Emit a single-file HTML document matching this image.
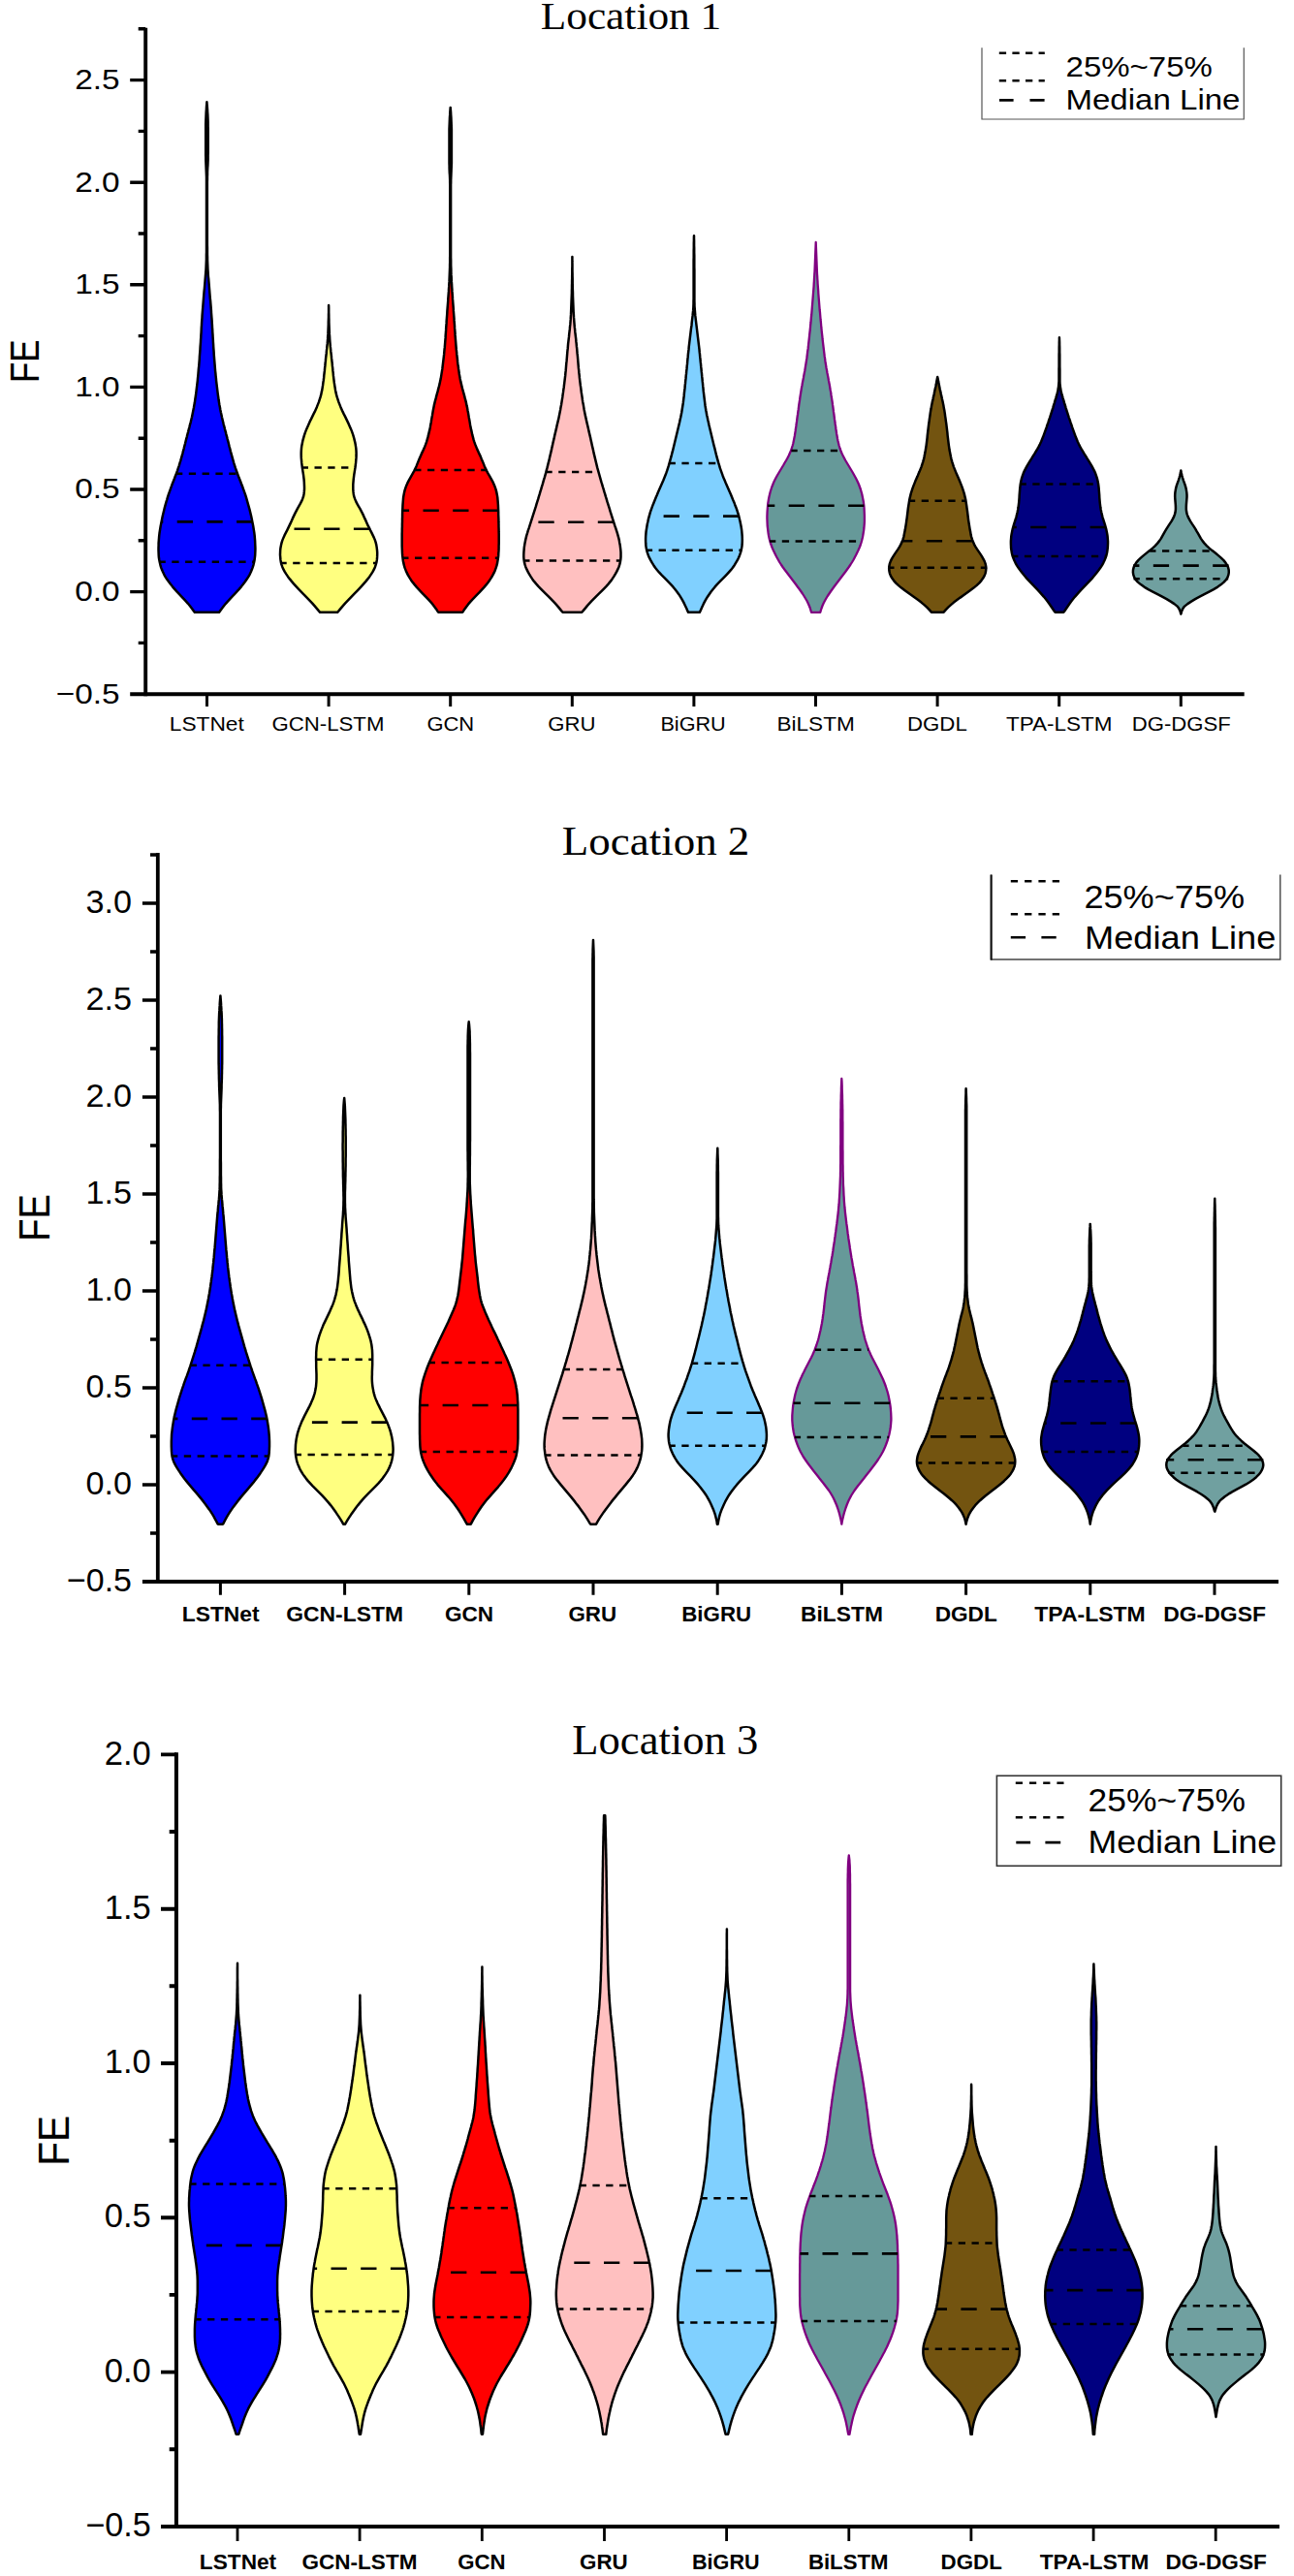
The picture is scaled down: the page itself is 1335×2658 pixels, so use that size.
<!DOCTYPE html>
<html><head><meta charset="utf-8"><title>Violin plots</title>
<style>html,body{margin:0;padding:0;background:#fff}svg{display:block}text{font-family:"Liberation Sans",sans-serif;fill:#000}</style>
</head><body>
<svg width="1335" height="2658" viewBox="0 0 1335 2658">
<rect width="1335" height="2658" fill="#fff"/>
<path d="M213.4 105.3 213.6 107.8 213.8 110.3 214 112.8 214.1 115.3 214.3 117.8 214.4 120.3 214.5 122.8 214.6 125.3 214.6 127.8 214.6 130.3 214.7 132.8 214.7 135.3 214.7 137.8 214.7 140.3 214.7 142.8 214.7 145.3 214.7 147.8 214.7 150.3 214.7 152.8 214.7 155.3 214.7 157.8 214.6 160.3 214.6 162.8 214.6 165.3 214.5 167.8 214.4 170.3 214.2 172.8 214.1 175.3 214 177.8 214 180.3 213.9 182.8 213.9 185.3 213.8 187.8 213.8 190.3 213.8 192.8 213.8 195.3 213.8 197.8 213.8 200.3 213.8 202.8 213.8 205.3 213.8 207.8 213.8 210.3 213.8 212.8 213.8 215.3 213.8 217.8 213.8 220.3 213.8 222.8 213.8 225.3 213.8 227.8 213.8 230.3 213.8 232.8 213.8 235.3 213.8 237.8 213.8 240.3 213.8 242.8 213.8 245.3 213.8 247.8 213.8 250.3 213.8 252.8 213.9 255.3 213.9 257.8 213.9 260.3 213.9 262.8 214 265.3 214 267.8 214.1 270.3 214.2 272.8 214.3 275.3 214.4 277.8 214.6 280.3 214.7 282.8 214.9 285.3 215.2 287.8 215.4 290.3 215.6 292.8 215.8 295.3 216 297.8 216.2 300.3 216.4 302.8 216.6 305.3 216.8 307.8 217.1 310.3 217.3 312.8 217.5 315.3 217.7 317.8 217.9 320.3 218 322.8 218.2 325.3 218.4 327.8 218.6 330.3 218.7 332.8 218.9 335.3 219 337.8 219.2 340.3 219.3 342.8 219.5 345.3 219.6 347.8 219.8 350.3 219.9 352.8 220.1 355.3 220.2 357.8 220.4 360.3 220.6 362.8 220.7 365.3 220.9 367.8 221.1 370.3 221.3 372.8 221.5 375.3 221.7 377.8 221.9 380.3 222.1 382.8 222.4 385.3 222.6 387.8 222.9 390.3 223.1 392.8 223.4 395.3 223.7 397.8 224 400.3 224.3 402.8 224.6 405.3 224.9 407.8 225.3 410.3 225.6 412.8 226 415.3 226.4 417.8 226.9 420.3 227.3 422.8 227.8 425.3 228.4 427.8 228.9 430.3 229.5 432.8 230.1 435.3 230.7 437.8 231.4 440.3 232 442.8 232.7 445.3 233.3 447.8 234 450.3 234.6 452.8 235.3 455.3 235.9 457.8 236.5 460.3 237.2 462.8 237.8 465.3 238.5 467.8 239.2 470.3 239.9 472.8 240.6 475.3 241.3 477.8 242.1 480.3 242.9 482.8 243.8 485.3 244.7 487.8 245.6 490.3 246.5 492.8 247.5 495.3 248.5 497.8 249.4 500.3 250.4 502.8 251.3 505.3 252.2 507.8 253.1 510.3 253.9 512.8 254.6 515.3 255.3 517.8 256 520.3 256.7 522.8 257.4 525.3 258 527.8 258.6 530.3 259.2 532.8 259.7 535.3 260.2 537.8 260.7 540.3 261.2 542.8 261.6 545.3 262 547.8 262.4 550.3 262.7 552.8 262.9 555.3 263.1 557.8 263.2 560.3 263.3 562.8 263.4 565.3 263.4 567.8 263.3 570.3 263.2 572.8 262.9 575.3 262.6 577.8 262.1 580.3 261.5 582.8 260.7 585.3 259.8 587.8 258.8 590.3 257.6 592.8 256.1 595.3 254.5 597.8 252.8 600.3 250.9 602.8 248.9 605.3 246.7 607.8 244.4 610.3 242.1 612.8 239.7 615.3 237.4 617.8 235.1 620.3 232.9 622.8 230.9 625.3 229 627.8 227.2 630.3 226.1 631.8 200.8 631.8 199.7 630.3 197.9 627.8 196 625.3 194 622.8 191.8 620.3 189.5 617.8 187.1 615.3 184.8 612.8 182.4 610.3 180.2 607.8 178 605.3 176 602.8 174.1 600.3 172.3 597.8 170.7 595.3 169.3 592.8 168.1 590.3 167 587.8 166.1 585.3 165.4 582.8 164.8 580.3 164.3 577.8 163.9 575.3 163.7 572.8 163.6 570.3 163.5 567.8 163.5 565.3 163.6 562.8 163.6 560.3 163.8 557.8 164 555.3 164.2 552.8 164.5 550.3 164.9 547.8 165.3 545.3 165.7 542.8 166.2 540.3 166.7 537.8 167.2 535.3 167.7 532.8 168.3 530.3 168.9 527.8 169.5 525.3 170.1 522.8 170.8 520.3 171.5 517.8 172.3 515.3 173 512.8 173.8 510.3 174.7 507.8 175.6 505.3 176.5 502.8 177.4 500.3 178.4 497.8 179.4 495.3 180.3 492.8 181.3 490.3 182.2 487.8 183.1 485.3 183.9 482.8 184.8 480.3 185.5 477.8 186.3 475.3 187 472.8 187.7 470.3 188.4 467.8 189 465.3 189.7 462.8 190.3 460.3 191 457.8 191.6 455.3 192.2 452.8 192.9 450.3 193.5 447.8 194.2 445.3 194.8 442.8 195.5 440.3 196.1 437.8 196.8 435.3 197.4 432.8 198 430.3 198.5 427.8 199 425.3 199.5 422.8 200 420.3 200.4 417.8 200.9 415.3 201.2 412.8 201.6 410.3 202 407.8 202.3 405.3 202.6 402.8 202.9 400.3 203.2 397.8 203.5 395.3 203.8 392.8 204 390.3 204.3 387.8 204.5 385.3 204.7 382.8 204.9 380.3 205.2 377.8 205.4 375.3 205.6 372.8 205.8 370.3 205.9 367.8 206.1 365.3 206.3 362.8 206.5 360.3 206.6 357.8 206.8 355.3 207 352.8 207.1 350.3 207.3 347.8 207.4 345.3 207.6 342.8 207.7 340.3 207.8 337.8 208 335.3 208.1 332.8 208.3 330.3 208.5 327.8 208.6 325.3 208.8 322.8 209 320.3 209.2 317.8 209.4 315.3 209.6 312.8 209.8 310.3 210 307.8 210.2 305.3 210.4 302.8 210.6 300.3 210.9 297.8 211.1 295.3 211.3 292.8 211.5 290.3 211.7 287.8 211.9 285.3 212.1 282.8 212.3 280.3 212.5 277.8 212.6 275.3 212.7 272.8 212.8 270.3 212.9 267.8 212.9 265.3 212.9 262.8 213 260.3 213 257.8 213 255.3 213 252.8 213 250.3 213 247.8 213 245.3 213 242.8 213 240.3 213 237.8 213 235.3 213 232.8 213 230.3 213 227.8 213 225.3 213 222.8 213 220.3 213 217.8 213 215.3 213 212.8 213 210.3 213 207.8 213 205.3 213 202.8 213 200.3 213 197.8 213 195.3 213 192.8 213 190.3 213 187.8 213 185.3 213 182.8 212.9 180.3 212.8 177.8 212.7 175.3 212.6 172.8 212.5 170.3 212.4 167.8 212.3 165.3 212.3 162.8 212.2 160.3 212.2 157.8 212.2 155.3 212.2 152.8 212.2 150.3 212.2 147.8 212.2 145.3 212.2 142.8 212.2 140.3 212.2 137.8 212.2 135.3 212.2 132.8 212.2 130.3 212.2 127.8 212.3 125.3 212.4 122.8 212.5 120.3 212.6 117.8 212.7 115.3 212.9 112.8 213 110.3 213.2 107.8 213.4 105.3Z" fill="#0000ff" stroke="#000000" stroke-width="2.5" stroke-linejoin="round"/>
<path d="M182 488.7H244.9" stroke="#000" stroke-width="2.5" stroke-dasharray="7.3 6.5" stroke-dashoffset="1" fill="none"/>
<path d="M260.4 538.4H166.5" stroke="#000" stroke-width="2.6" stroke-dasharray="16.3 14.4" fill="none"/>
<path d="M164.5 579.8H262.4" stroke="#000" stroke-width="2.5" stroke-dasharray="7.3 6.5" stroke-dashoffset="1" fill="none"/>
<path d="M339.1 314.9 339.2 317.4 339.2 319.9 339.2 322.4 339.3 324.9 339.3 327.4 339.4 329.9 339.4 332.4 339.5 334.9 339.6 337.4 339.7 339.9 339.8 342.4 339.9 344.9 340.1 347.4 340.2 349.9 340.4 352.4 340.6 354.9 340.8 357.4 341.1 359.9 341.3 362.4 341.6 364.9 341.9 367.4 342.1 369.9 342.4 372.4 342.7 374.9 342.9 377.4 343.2 379.9 343.4 382.4 343.7 384.9 343.9 387.4 344.2 389.9 344.5 392.4 344.8 394.9 345.2 397.4 345.6 399.9 346 402.4 346.5 404.9 347.1 407.4 347.8 409.9 348.6 412.4 349.4 414.9 350.4 417.4 351.4 419.9 352.5 422.4 353.6 424.9 354.8 427.4 356.1 429.9 357.3 432.4 358.5 434.9 359.7 437.4 360.8 439.9 361.9 442.4 362.9 444.9 363.8 447.4 364.6 449.9 365.3 452.4 365.9 454.9 366.5 457.4 366.9 459.9 367.3 462.4 367.5 464.9 367.6 467.4 367.6 469.9 367.5 472.4 367.3 474.9 367.1 477.4 366.8 479.9 366.5 482.4 366.1 484.9 365.7 487.4 365.3 489.9 365 492.4 364.7 494.9 364.5 497.4 364.3 499.9 364.3 502.4 364.3 504.9 364.5 507.4 364.8 509.9 365.3 512.4 366.2 514.9 367.2 517.4 368.5 519.9 369.9 522.4 371.4 524.9 372.7 527.4 374 529.9 375.2 532.4 376.3 534.9 377.5 537.4 378.6 539.9 379.7 542.4 381 544.9 382.2 547.4 383.5 549.9 384.7 552.4 385.9 554.9 386.9 557.4 387.7 559.9 388.3 562.4 388.7 564.9 389 567.4 389.2 569.9 389.2 572.4 389.1 574.9 388.9 577.4 388.5 579.9 387.8 582.4 387 584.9 385.9 587.4 384.6 589.9 383 592.4 381.3 594.9 379.4 597.4 377.4 599.9 375.2 602.4 373 604.9 370.7 607.4 368.3 609.9 365.8 612.4 363.4 614.9 361 617.4 358.6 619.9 356.2 622.4 354 624.9 351.9 627.4 349.8 629.9 348.1 631.8 330.2 631.8 328.5 629.9 326.4 627.4 324.3 624.9 322.1 622.4 319.7 619.9 317.3 617.4 314.9 614.9 312.4 612.4 310 609.9 307.6 607.4 305.3 604.9 303 602.4 300.9 599.9 298.9 597.4 297 594.9 295.3 592.4 293.7 589.9 292.4 587.4 291.3 584.9 290.4 582.4 289.8 579.9 289.4 577.4 289.2 574.9 289 572.4 289.1 569.9 289.2 567.4 289.5 564.9 290 562.4 290.6 559.9 291.4 557.4 292.4 554.9 293.5 552.4 294.8 549.9 296.1 547.4 297.3 544.9 298.5 542.4 299.7 539.9 300.8 537.4 301.9 534.9 303.1 532.4 304.3 529.9 305.6 527.4 306.9 524.9 308.3 522.4 309.7 519.9 311 517.4 312.1 514.9 313 512.4 313.5 509.9 313.8 507.4 314 504.9 314 502.4 313.9 499.9 313.8 497.4 313.6 494.9 313.3 492.4 313 489.9 312.6 487.4 312.2 484.9 311.8 482.4 311.5 479.9 311.2 477.4 311 474.9 310.8 472.4 310.7 469.9 310.7 467.4 310.8 464.9 311 462.4 311.3 459.9 311.8 457.4 312.3 454.9 313 452.4 313.7 449.9 314.5 447.4 315.4 444.9 316.4 442.4 317.5 439.9 318.6 437.4 319.7 434.9 321 432.4 322.2 429.9 323.4 427.4 324.7 424.9 325.8 422.4 326.9 419.9 327.9 417.4 328.9 414.9 329.7 412.4 330.5 409.9 331.2 407.4 331.7 404.9 332.3 402.4 332.7 399.9 333.1 397.4 333.4 394.9 333.8 392.4 334.1 389.9 334.3 387.4 334.6 384.9 334.9 382.4 335.1 379.9 335.4 377.4 335.6 374.9 335.9 372.4 336.1 369.9 336.4 367.4 336.7 364.9 336.9 362.4 337.2 359.9 337.4 357.4 337.7 354.9 337.9 352.4 338.1 349.9 338.2 347.4 338.4 344.9 338.5 342.4 338.6 339.9 338.7 337.4 338.8 334.9 338.8 332.4 338.9 329.9 339 327.4 339 324.9 339.1 322.4 339.1 319.9 339.1 317.4 339.1 314.9Z" fill="#ffff80" stroke="#000000" stroke-width="2.5" stroke-linejoin="round"/>
<path d="M311.7 482.5H366.6" stroke="#000" stroke-width="2.5" stroke-dasharray="7.3 6.5" stroke-dashoffset="1" fill="none"/>
<path d="M381.2 545.8H297.1" stroke="#000" stroke-width="2.6" stroke-dasharray="16.3 14.4" fill="none"/>
<path d="M289.4 581.1H388.9" stroke="#000" stroke-width="2.5" stroke-dasharray="7.3 6.5" stroke-dashoffset="1" fill="none"/>
<path d="M464.7 110.9 464.9 113.4 465.1 115.9 465.2 118.4 465.4 120.9 465.5 123.4 465.6 125.9 465.7 128.4 465.8 130.9 465.9 133.4 465.9 135.9 465.9 138.4 465.9 140.9 465.9 143.4 465.9 145.9 465.9 148.4 465.9 150.9 465.9 153.4 465.9 155.9 465.9 158.4 465.9 160.9 465.9 163.4 465.9 165.9 465.9 168.4 465.8 170.9 465.7 173.4 465.6 175.9 465.5 178.4 465.4 180.9 465.3 183.4 465.2 185.9 465.2 188.4 465.1 190.9 465.1 193.4 465.1 195.9 465.1 198.4 465.1 200.9 465.1 203.4 465.1 205.9 465.1 208.4 465.1 210.9 465.1 213.4 465.1 215.9 465.1 218.4 465.1 220.9 465.1 223.4 465.1 225.9 465.1 228.4 465.1 230.9 465.1 233.4 465.1 235.9 465.1 238.4 465.1 240.9 465.1 243.4 465.1 245.9 465.1 248.4 465.1 250.9 465.1 253.4 465.1 255.9 465.1 258.4 465.1 260.9 465.1 263.4 465.1 265.9 465.2 268.4 465.2 270.9 465.2 273.4 465.3 275.9 465.4 278.4 465.4 280.9 465.5 283.4 465.7 285.9 465.8 288.4 465.9 290.9 466.1 293.4 466.2 295.9 466.4 298.4 466.5 300.9 466.7 303.4 466.9 305.9 467 308.4 467.2 310.9 467.4 313.4 467.6 315.9 467.8 318.4 467.9 320.9 468.1 323.4 468.3 325.9 468.5 328.4 468.6 330.9 468.8 333.4 469 335.9 469.1 338.4 469.3 340.9 469.5 343.4 469.6 345.9 469.8 348.4 470 350.9 470.2 353.4 470.4 355.9 470.6 358.4 470.8 360.9 471.1 363.4 471.3 365.9 471.6 368.4 471.9 370.9 472.1 373.4 472.4 375.9 472.8 378.4 473.1 380.9 473.5 383.4 473.8 385.9 474.3 388.4 474.7 390.9 475.2 393.4 475.8 395.9 476.4 398.4 477 400.9 477.7 403.4 478.4 405.9 479.1 408.4 479.7 410.9 480.4 413.4 481 415.9 481.5 418.4 482.1 420.9 482.5 423.4 483 425.9 483.4 428.4 483.8 430.9 484.3 433.4 484.7 435.9 485.1 438.4 485.6 440.9 486.1 443.4 486.7 445.9 487.2 448.4 487.9 450.9 488.5 453.4 489.3 455.9 490.2 458.4 491.2 460.9 492.2 463.4 493.4 465.9 494.5 468.4 495.7 470.9 496.7 473.4 497.8 475.9 498.8 478.4 499.8 480.9 500.9 483.4 502.1 485.9 503.4 488.4 504.9 490.9 506.3 493.4 507.7 495.9 509 498.4 510.1 500.9 511 503.4 511.8 505.9 512.4 508.4 512.9 510.9 513.3 513.4 513.5 515.9 513.7 518.4 513.9 520.9 514 523.4 514.1 525.9 514.2 528.4 514.2 530.9 514.3 533.4 514.4 535.9 514.4 538.4 514.5 540.9 514.5 543.4 514.6 545.9 514.6 548.4 514.7 550.9 514.7 553.4 514.7 555.9 514.7 558.4 514.7 560.9 514.6 563.4 514.6 565.9 514.5 568.4 514.3 570.9 514.2 573.4 513.9 575.9 513.5 578.4 513.1 580.9 512.5 583.4 511.7 585.9 510.8 588.4 509.7 590.9 508.4 593.4 507 595.9 505.3 598.4 503.5 600.9 501.6 603.4 499.5 605.9 497.2 608.4 494.9 610.9 492.4 613.4 490 615.9 487.6 618.4 485.3 620.9 483.1 623.4 481.2 625.9 479.4 628.4 477.8 630.9 477.1 631.8 452.3 631.8 451.6 630.9 450 628.4 448.2 625.9 446.3 623.4 444.1 620.9 441.8 618.4 439.4 615.9 436.9 613.4 434.5 610.9 432.2 608.4 429.9 605.9 427.8 603.4 425.8 600.9 424 598.4 422.4 595.9 420.9 593.4 419.7 590.9 418.6 588.4 417.6 585.9 416.9 583.4 416.3 580.9 415.8 578.4 415.5 575.9 415.2 573.4 415 570.9 414.9 568.4 414.8 565.9 414.7 563.4 414.7 560.9 414.7 558.4 414.7 555.9 414.7 553.4 414.7 550.9 414.8 548.4 414.8 545.9 414.9 543.4 414.9 540.9 415 538.4 415 535.9 415.1 533.4 415.1 530.9 415.2 528.4 415.3 525.9 415.4 523.4 415.5 520.9 415.7 518.4 415.9 515.9 416.1 513.4 416.5 510.9 417 508.4 417.6 505.9 418.4 503.4 419.3 500.9 420.4 498.4 421.7 495.9 423.1 493.4 424.5 490.9 425.9 488.4 427.3 485.9 428.5 483.4 429.6 480.9 430.6 478.4 431.6 475.9 432.6 473.4 433.7 470.9 434.8 468.4 436 465.9 437.1 463.4 438.2 460.9 439.2 458.4 440.1 455.9 440.8 453.4 441.5 450.9 442.1 448.4 442.7 445.9 443.3 443.4 443.8 440.9 444.2 438.4 444.7 435.9 445.1 433.4 445.5 430.9 446 428.4 446.4 425.9 446.8 423.4 447.3 420.9 447.8 418.4 448.4 415.9 449 413.4 449.7 410.9 450.3 408.4 451 405.9 451.7 403.4 452.3 400.9 453 398.4 453.6 395.9 454.1 393.4 454.7 390.9 455.1 388.4 455.5 385.9 455.9 383.4 456.3 380.9 456.6 378.4 456.9 375.9 457.2 373.4 457.5 370.9 457.8 368.4 458.1 365.9 458.3 363.4 458.5 360.9 458.8 358.4 459 355.9 459.2 353.4 459.4 350.9 459.6 348.4 459.7 345.9 459.9 343.4 460.1 340.9 460.2 338.4 460.4 335.9 460.6 333.4 460.7 330.9 460.9 328.4 461.1 325.9 461.3 323.4 461.4 320.9 461.6 318.4 461.8 315.9 462 313.4 462.2 310.9 462.3 308.4 462.5 305.9 462.7 303.4 462.9 300.9 463 298.4 463.2 295.9 463.3 293.4 463.5 290.9 463.6 288.4 463.7 285.9 463.8 283.4 463.9 280.9 464 278.4 464.1 275.9 464.1 273.4 464.2 270.9 464.2 268.4 464.2 265.9 464.3 263.4 464.3 260.9 464.3 258.4 464.3 255.9 464.3 253.4 464.3 250.9 464.3 248.4 464.3 245.9 464.3 243.4 464.3 240.9 464.3 238.4 464.3 235.9 464.3 233.4 464.3 230.9 464.3 228.4 464.3 225.9 464.3 223.4 464.3 220.9 464.3 218.4 464.3 215.9 464.3 213.4 464.3 210.9 464.3 208.4 464.3 205.9 464.3 203.4 464.3 200.9 464.3 198.4 464.3 195.9 464.3 193.4 464.3 190.9 464.2 188.4 464.2 185.9 464.1 183.4 464 180.9 463.8 178.4 463.7 175.9 463.6 173.4 463.6 170.9 463.5 168.4 463.5 165.9 463.5 163.4 463.5 160.9 463.5 158.4 463.5 155.9 463.5 153.4 463.5 150.9 463.5 148.4 463.5 145.9 463.5 143.4 463.5 140.9 463.5 138.4 463.5 135.9 463.5 133.4 463.6 130.9 463.7 128.4 463.8 125.9 463.9 123.4 464 120.9 464.2 118.4 464.3 115.9 464.5 113.4 464.7 110.9Z" fill="#ff0000" stroke="#000000" stroke-width="2.5" stroke-linejoin="round"/>
<path d="M428.2 484.9H501.2" stroke="#000" stroke-width="2.5" stroke-dasharray="7.3 6.5" stroke-dashoffset="1" fill="none"/>
<path d="M514.2 526.7H415.2" stroke="#000" stroke-width="2.6" stroke-dasharray="16.3 14.4" fill="none"/>
<path d="M415.2 575.8H514.2" stroke="#000" stroke-width="2.5" stroke-dasharray="7.3 6.5" stroke-dashoffset="1" fill="none"/>
<path d="M590.4 264.9 590.4 267.4 590.4 269.9 590.5 272.4 590.5 274.9 590.5 277.4 590.5 279.9 590.6 282.4 590.6 284.9 590.7 287.4 590.7 289.9 590.7 292.4 590.8 294.9 590.8 297.4 590.9 299.9 591 302.4 591 304.9 591.1 307.4 591.2 309.9 591.3 312.4 591.4 314.9 591.5 317.4 591.6 319.9 591.7 322.4 591.9 324.9 592 327.4 592.2 329.9 592.4 332.4 592.6 334.9 592.8 337.4 593.1 339.9 593.3 342.4 593.6 344.9 593.9 347.4 594.2 349.9 594.4 352.4 594.7 354.9 594.9 357.4 595.2 359.9 595.4 362.4 595.6 364.9 595.9 367.4 596.1 369.9 596.3 372.4 596.5 374.9 596.7 377.4 596.9 379.9 597.2 382.4 597.4 384.9 597.7 387.4 597.9 389.9 598.2 392.4 598.5 394.9 598.8 397.4 599.2 399.9 599.5 402.4 599.8 404.9 600.2 407.4 600.6 409.9 600.9 412.4 601.3 414.9 601.8 417.4 602.2 419.9 602.6 422.4 603.1 424.9 603.6 427.4 604.1 429.9 604.7 432.4 605.2 434.9 605.8 437.4 606.4 439.9 607 442.4 607.5 444.9 608.1 447.4 608.7 449.9 609.3 452.4 609.8 454.9 610.4 457.4 610.9 459.9 611.5 462.4 612.1 464.9 612.6 467.4 613.2 469.9 613.8 472.4 614.4 474.9 615 477.4 615.6 479.9 616.2 482.4 616.9 484.9 617.6 487.4 618.3 489.9 619 492.4 619.7 494.9 620.4 497.4 621.2 499.9 621.9 502.4 622.7 504.9 623.4 507.4 624.2 509.9 624.9 512.4 625.7 514.9 626.4 517.4 627.2 519.9 628 522.4 628.8 524.9 629.5 527.4 630.3 529.9 631.1 532.4 631.9 534.9 632.7 537.4 633.5 539.9 634.3 542.4 635.2 544.9 636 547.4 636.8 549.9 637.5 552.4 638.2 554.9 638.8 557.4 639.2 559.9 639.7 562.4 640 564.9 640.3 567.4 640.5 569.9 640.5 572.4 640.5 574.9 640.3 577.4 639.9 579.9 639.3 582.4 638.5 584.9 637.4 587.4 636.2 589.9 634.8 592.4 633.3 594.9 631.6 597.4 629.8 599.9 627.8 602.4 625.6 604.9 623.2 607.4 620.7 609.9 618.1 612.4 615.6 614.9 613.1 617.4 610.6 619.9 608.3 622.4 606 624.9 604 627.4 601.9 629.9 600.3 631.8 580.5 631.8 578.9 629.9 576.9 627.4 574.8 624.9 572.6 622.4 570.2 619.9 567.8 617.4 565.3 614.9 562.7 612.4 560.2 609.9 557.7 607.4 555.3 604.9 553.1 602.4 551 599.9 549.2 597.4 547.5 594.9 546 592.4 544.6 589.9 543.4 587.4 542.3 584.9 541.5 582.4 540.9 579.9 540.5 577.4 540.3 574.9 540.3 572.4 540.4 569.9 540.6 567.4 540.8 564.9 541.2 562.4 541.6 559.9 542.1 557.4 542.7 554.9 543.3 552.4 544.1 549.9 544.8 547.4 545.7 544.9 546.5 542.4 547.3 539.9 548.1 537.4 548.9 534.9 549.7 532.4 550.5 529.9 551.3 527.4 552.1 524.9 552.9 522.4 553.6 519.9 554.4 517.4 555.2 514.9 555.9 512.4 556.7 509.9 557.4 507.4 558.2 504.9 558.9 502.4 559.7 499.9 560.4 497.4 561.1 494.9 561.9 492.4 562.6 489.9 563.3 487.4 563.9 484.9 564.6 482.4 565.2 479.9 565.8 477.4 566.5 474.9 567 472.4 567.6 469.9 568.2 467.4 568.8 464.9 569.3 462.4 569.9 459.9 570.4 457.4 571 454.9 571.6 452.4 572.1 449.9 572.7 447.4 573.3 444.9 573.9 442.4 574.4 439.9 575 437.4 575.6 434.9 576.2 432.4 576.7 429.9 577.2 427.4 577.7 424.9 578.2 422.4 578.6 419.9 579.1 417.4 579.5 414.9 579.9 412.4 580.3 409.9 580.6 407.4 581 404.9 581.3 402.4 581.7 399.9 582 397.4 582.3 394.9 582.6 392.4 582.9 389.9 583.2 387.4 583.4 384.9 583.7 382.4 583.9 379.9 584.1 377.4 584.3 374.9 584.6 372.4 584.8 369.9 585 367.4 585.2 364.9 585.4 362.4 585.7 359.9 585.9 357.4 586.1 354.9 586.4 352.4 586.7 349.9 587 347.4 587.2 344.9 587.5 342.4 587.8 339.9 588 337.4 588.3 334.9 588.5 332.4 588.7 329.9 588.8 327.4 589 324.9 589.1 322.4 589.2 319.9 589.3 317.4 589.4 314.9 589.5 312.4 589.6 309.9 589.7 307.4 589.8 304.9 589.9 302.4 589.9 299.9 590 297.4 590 294.9 590.1 292.4 590.1 289.9 590.2 287.4 590.2 284.9 590.3 282.4 590.3 279.9 590.3 277.4 590.4 274.9 590.4 272.4 590.4 269.9 590.4 267.4 590.4 264.9Z" fill="#ffc0c0" stroke="#000000" stroke-width="2.5" stroke-linejoin="round"/>
<path d="M563.4 487.1H617.5" stroke="#000" stroke-width="2.5" stroke-dasharray="7.3 6.5" stroke-dashoffset="1" fill="none"/>
<path d="M633.1 538.7H547.7" stroke="#000" stroke-width="2.6" stroke-dasharray="16.3 14.4" fill="none"/>
<path d="M540.2 578.6H640.6" stroke="#000" stroke-width="2.5" stroke-dasharray="7.3 6.5" stroke-dashoffset="1" fill="none"/>
<path d="M716 243.2 716 245.7 716.1 248.2 716.1 250.7 716.1 253.2 716.2 255.7 716.2 258.2 716.2 260.7 716.3 263.2 716.3 265.7 716.3 268.2 716.3 270.7 716.3 273.2 716.3 275.7 716.4 278.2 716.4 280.7 716.4 283.2 716.4 285.7 716.4 288.2 716.4 290.7 716.4 293.2 716.4 295.7 716.4 298.2 716.4 300.7 716.4 303.2 716.4 305.7 716.4 308.2 716.4 310.7 716.5 313.2 716.5 315.7 716.7 318.2 716.9 320.7 717.1 323.2 717.3 325.7 717.6 328.2 717.9 330.7 718.2 333.2 718.5 335.7 718.8 338.2 719.1 340.7 719.4 343.2 719.7 345.7 720 348.2 720.3 350.7 720.6 353.2 720.9 355.7 721.2 358.2 721.5 360.7 721.7 363.2 722 365.7 722.2 368.2 722.5 370.7 722.7 373.2 723 375.7 723.2 378.2 723.5 380.7 723.7 383.2 724 385.7 724.2 388.2 724.5 390.7 724.7 393.2 725 395.7 725.2 398.2 725.5 400.7 725.7 403.2 726 405.7 726.3 408.2 726.6 410.7 726.9 413.2 727.2 415.7 727.5 418.2 727.9 420.7 728.3 423.2 728.8 425.7 729.2 428.2 729.8 430.7 730.3 433.2 730.9 435.7 731.4 438.2 732 440.7 732.6 443.2 733.2 445.7 733.8 448.2 734.4 450.7 735 453.2 735.6 455.7 736.2 458.2 736.8 460.7 737.5 463.2 738.1 465.7 738.7 468.2 739.3 470.7 740 473.2 740.7 475.7 741.4 478.2 742.2 480.7 742.9 483.2 743.8 485.7 744.7 488.2 745.6 490.7 746.6 493.2 747.7 495.7 748.7 498.2 749.8 500.7 750.9 503.2 752 505.7 753.1 508.2 754.2 510.7 755.2 513.2 756.2 515.7 757.3 518.2 758.2 520.7 759.2 523.2 760.1 525.7 760.9 528.2 761.7 530.7 762.4 533.2 763 535.7 763.6 538.2 764.1 540.7 764.6 543.2 765 545.7 765.3 548.2 765.5 550.7 765.7 553.2 765.8 555.7 765.8 558.2 765.7 560.7 765.5 563.2 765.1 565.7 764.6 568.2 763.9 570.7 763 573.2 761.9 575.7 760.7 578.2 759.2 580.7 757.7 583.2 755.9 585.7 754 588.2 751.8 590.7 749.5 593.2 747.1 595.7 744.6 598.2 742.1 600.7 739.7 603.2 737.5 605.7 735.4 608.2 733.4 610.7 731.7 613.2 730 615.7 728.5 618.2 727.1 620.7 725.8 623.2 724.6 625.7 723.5 628.2 722.4 630.7 721.8 631.8 710.1 631.8 709.5 630.7 708.5 628.2 707.3 625.7 706.1 623.2 704.8 620.7 703.4 618.2 701.9 615.7 700.3 613.2 698.5 610.7 696.6 608.2 694.5 605.7 692.2 603.2 689.8 600.7 687.4 598.2 684.9 595.7 682.4 593.2 680.1 590.7 678 588.2 676 585.7 674.3 583.2 672.7 580.7 671.3 578.2 670 575.7 668.9 573.2 668 570.7 667.3 568.2 666.8 565.7 666.4 563.2 666.2 560.7 666.1 558.2 666.1 555.7 666.2 553.2 666.4 550.7 666.6 548.2 667 545.7 667.4 543.2 667.8 540.7 668.4 538.2 668.9 535.7 669.6 533.2 670.3 530.7 671 528.2 671.9 525.7 672.8 523.2 673.7 520.7 674.7 518.2 675.7 515.7 676.7 513.2 677.8 510.7 678.8 508.2 679.9 505.7 681 503.2 682.1 500.7 683.2 498.2 684.3 495.7 685.3 493.2 686.3 490.7 687.3 488.2 688.2 485.7 689 483.2 689.8 480.7 690.5 478.2 691.2 475.7 691.9 473.2 692.6 470.7 693.2 468.2 693.9 465.7 694.5 463.2 695.1 460.7 695.7 458.2 696.3 455.7 696.9 453.2 697.5 450.7 698.1 448.2 698.7 445.7 699.3 443.2 699.9 440.7 700.5 438.2 701.1 435.7 701.6 433.2 702.2 430.7 702.7 428.2 703.2 425.7 703.6 423.2 704 420.7 704.4 418.2 704.8 415.7 705.1 413.2 705.4 410.7 705.7 408.2 705.9 405.7 706.2 403.2 706.5 400.7 706.7 398.2 707 395.7 707.2 393.2 707.5 390.7 707.7 388.2 708 385.7 708.2 383.2 708.5 380.7 708.7 378.2 709 375.7 709.2 373.2 709.4 370.7 709.7 368.2 709.9 365.7 710.2 363.2 710.5 360.7 710.7 358.2 711 355.7 711.3 353.2 711.6 350.7 711.9 348.2 712.2 345.7 712.5 343.2 712.8 340.7 713.1 338.2 713.5 335.7 713.7 333.2 714 330.7 714.3 328.2 714.6 325.7 714.8 323.2 715.1 320.7 715.3 318.2 715.4 315.7 715.5 313.2 715.5 310.7 715.6 308.2 715.6 305.7 715.6 303.2 715.6 300.7 715.6 298.2 715.6 295.7 715.6 293.2 715.6 290.7 715.6 288.2 715.6 285.7 715.6 283.2 715.6 280.7 715.6 278.2 715.6 275.7 715.6 273.2 715.6 270.7 715.6 268.2 715.7 265.7 715.7 263.2 715.7 260.7 715.7 258.2 715.8 255.7 715.8 253.2 715.8 250.7 715.9 248.2 715.9 245.7 716 243.2Z" fill="#80d0ff" stroke="#000000" stroke-width="2.5" stroke-linejoin="round"/>
<path d="M690.6 478.1H741.3" stroke="#000" stroke-width="2.5" stroke-dasharray="7.3 6.5" stroke-dashoffset="1" fill="none"/>
<path d="M762.3 532.6H669.6" stroke="#000" stroke-width="2.6" stroke-dasharray="16.3 14.4" fill="none"/>
<path d="M666.8 567.8H765.2" stroke="#000" stroke-width="2.5" stroke-dasharray="7.3 6.5" stroke-dashoffset="1" fill="none"/>
<path d="M841.7 250 841.8 252.5 841.9 255 842 257.5 842.1 260 842.2 262.5 842.3 265 842.4 267.5 842.5 270 842.6 272.5 842.7 275 842.8 277.5 842.9 280 843 282.5 843.2 285 843.3 287.5 843.5 290 843.6 292.5 843.8 295 844 297.5 844.2 300 844.3 302.5 844.5 305 844.7 307.5 844.9 310 845.1 312.5 845.3 315 845.5 317.5 845.7 320 846 322.5 846.2 325 846.4 327.5 846.6 330 846.9 332.5 847.1 335 847.3 337.5 847.6 340 847.8 342.5 848.1 345 848.4 347.5 848.6 350 848.9 352.5 849.2 355 849.5 357.5 849.8 360 850.1 362.5 850.4 365 850.7 367.5 851.1 370 851.4 372.5 851.8 375 852.2 377.5 852.6 380 853.1 382.5 853.5 385 854 387.5 854.5 390 854.9 392.5 855.4 395 855.9 397.5 856.3 400 856.7 402.5 857.2 405 857.5 407.5 857.9 410 858.3 412.5 858.7 415 859 417.5 859.4 420 859.7 422.5 860 425 860.4 427.5 860.7 430 861 432.5 861.4 435 861.7 437.5 862.1 440 862.4 442.5 862.8 445 863.1 447.5 863.6 450 864 452.5 864.5 455 865.1 457.5 865.7 460 866.5 462.5 867.4 465 868.4 467.5 869.6 470 870.9 472.5 872.2 475 873.7 477.5 875.2 480 876.7 482.5 878.2 485 879.7 487.5 881.1 490 882.5 492.5 883.8 495 885 497.5 886.1 500 887 502.5 887.9 505 888.6 507.5 889.3 510 889.8 512.5 890.3 515 890.8 517.5 891.1 520 891.4 522.5 891.6 525 891.7 527.5 891.8 530 891.9 532.5 891.9 535 891.9 537.5 891.8 540 891.6 542.5 891.4 545 891.1 547.5 890.7 550 890.3 552.5 889.8 555 889.2 557.5 888.5 560 887.7 562.5 886.7 565 885.6 567.5 884.4 570 883.2 572.5 881.9 575 880.6 577.5 879.1 580 877.5 582.5 875.8 585 874 587.5 872.2 590 870.3 592.5 868.4 595 866.5 597.5 864.6 600 862.7 602.5 860.8 605 859 607.5 857.2 610 855.5 612.5 853.8 615 852.3 617.5 850.9 620 849.6 622.5 848.5 625 847.6 627.5 846.8 630 846.3 631.8 837 631.8 836.5 630 835.8 627.5 834.8 625 833.7 622.5 832.5 620 831 617.5 829.5 615 827.9 612.5 826.2 610 824.4 607.5 822.5 605 820.7 602.5 818.8 600 816.9 597.5 815 595 813.1 592.5 811.2 590 809.3 587.5 807.5 585 805.8 582.5 804.2 580 802.8 577.5 801.4 575 800.1 572.5 798.9 570 797.7 567.5 796.6 565 795.7 562.5 794.8 560 794.1 557.5 793.5 555 793 552.5 792.6 550 792.3 547.5 792 545 791.7 542.5 791.6 540 791.5 537.5 791.4 535 791.4 532.5 791.5 530 791.6 527.5 791.8 525 792 522.5 792.2 520 792.6 517.5 793 515 793.5 512.5 794.1 510 794.7 507.5 795.5 505 796.3 502.5 797.3 500 798.3 497.5 799.5 495 800.8 492.5 802.2 490 803.7 487.5 805.2 485 806.7 482.5 808.2 480 809.6 477.5 811.1 475 812.5 472.5 813.8 470 814.9 467.5 816 465 816.8 462.5 817.6 460 818.3 457.5 818.8 455 819.3 452.5 819.8 450 820.2 447.5 820.6 445 820.9 442.5 821.3 440 821.6 437.5 822 435 822.3 432.5 822.6 430 823 427.5 823.3 425 823.7 422.5 824 420 824.3 417.5 824.7 415 825.1 412.5 825.4 410 825.8 407.5 826.2 405 826.6 402.5 827 400 827.5 397.5 827.9 395 828.4 392.5 828.9 390 829.3 387.5 829.8 385 830.3 382.5 830.7 380 831.1 377.5 831.5 375 831.9 372.5 832.3 370 832.6 367.5 832.9 365 833.2 362.5 833.6 360 833.9 357.5 834.1 355 834.4 352.5 834.7 350 835 347.5 835.2 345 835.5 342.5 835.8 340 836 337.5 836.2 335 836.5 332.5 836.7 330 836.9 327.5 837.2 325 837.4 322.5 837.6 320 837.8 317.5 838 315 838.2 312.5 838.4 310 838.6 307.5 838.8 305 839 302.5 839.2 300 839.4 297.5 839.6 295 839.7 292.5 839.9 290 840 287.5 840.2 285 840.3 282.5 840.5 280 840.6 277.5 840.7 275 840.8 272.5 840.9 270 841 267.5 841.1 265 841.2 262.5 841.3 260 841.4 257.5 841.5 255 841.6 252.5 841.7 250Z" fill="#669999" stroke="#800080" stroke-width="2.3" stroke-linejoin="round"/>
<path d="M816.4 464.9H866.9" stroke="#000" stroke-width="2.5" stroke-dasharray="7.3 6.5" stroke-dashoffset="1" fill="none"/>
<path d="M891.4 521.7H791.9" stroke="#000" stroke-width="2.6" stroke-dasharray="16.3 14.4" fill="none"/>
<path d="M794 558.5H889.3" stroke="#000" stroke-width="2.5" stroke-dasharray="7.3 6.5" stroke-dashoffset="1" fill="none"/>
<path d="M967.2 389.1 967.8 391.6 968.2 394.1 968.7 396.6 969.2 399.1 969.7 401.6 970.3 404.1 970.8 406.6 971.4 409.1 971.9 411.6 972.5 414.1 973 416.6 973.5 419.1 973.9 421.6 974.4 424.1 974.8 426.6 975.1 429.1 975.5 431.6 975.8 434.1 976.2 436.6 976.5 439.1 976.8 441.6 977.1 444.1 977.4 446.6 977.6 449.1 977.9 451.6 978.2 454.1 978.5 456.6 978.8 459.1 979.2 461.6 979.5 464.1 980 466.6 980.5 469.1 981 471.6 981.6 474.1 982.3 476.6 983.1 479.1 983.9 481.6 984.9 484.1 985.9 486.6 986.9 489.1 988 491.6 989.1 494.1 990.2 496.6 991.2 499.1 992.2 501.6 993.1 504.1 993.9 506.6 994.7 509.1 995.3 511.6 995.9 514.1 996.4 516.6 996.8 519.1 997.2 521.6 997.5 524.1 997.9 526.6 998.2 529.1 998.5 531.6 998.8 534.1 999.1 536.6 999.5 539.1 999.9 541.6 1000.3 544.1 1000.7 546.6 1001.2 549.1 1001.6 551.6 1002.2 554.1 1003 556.6 1003.9 559.1 1005 561.6 1006.4 564.1 1008 566.6 1009.7 569.1 1011.4 571.6 1013 574.1 1014.4 576.6 1015.7 579.1 1016.6 581.6 1017.1 584.1 1017.3 586.6 1017.1 589.1 1016.6 591.6 1015.6 594.1 1014.2 596.6 1012.4 599.1 1010.2 601.6 1007.5 604.1 1004.5 606.6 1001.2 609.1 997.8 611.6 994.3 614.1 990.7 616.6 987.3 619.1 984 621.6 981 624.1 978.2 626.6 975.8 629.1 973.6 631.6 973.1 631.8 961.4 631.8 960.9 631.6 958.7 629.1 956.3 626.6 953.5 624.1 950.5 621.6 947.2 619.1 943.7 616.6 940.2 614.1 936.7 611.6 933.2 609.1 930 606.6 927 604.1 924.3 601.6 922.1 599.1 920.3 596.6 918.9 594.1 917.9 591.6 917.4 589.1 917.2 586.6 917.4 584.1 917.9 581.6 918.8 579.1 920 576.6 921.5 574.1 923.1 571.6 924.8 569.1 926.5 566.6 928.1 564.1 929.4 561.6 930.6 559.1 931.5 556.6 932.3 554.1 932.8 551.6 933.3 549.1 933.8 546.6 934.2 544.1 934.6 541.6 935 539.1 935.3 536.6 935.7 534.1 936 531.6 936.3 529.1 936.6 526.6 936.9 524.1 937.3 521.6 937.7 519.1 938.1 516.6 938.6 514.1 939.2 511.6 939.8 509.1 940.6 506.6 941.4 504.1 942.3 501.6 943.3 499.1 944.3 496.6 945.4 494.1 946.5 491.6 947.5 489.1 948.6 486.6 949.6 484.1 950.6 481.6 951.4 479.1 952.2 476.6 952.9 474.1 953.5 471.6 954 469.1 954.5 466.6 954.9 464.1 955.3 461.6 955.7 459.1 956 456.6 956.3 454.1 956.6 451.6 956.8 449.1 957.1 446.6 957.4 444.1 957.7 441.6 958 439.1 958.3 436.6 958.7 434.1 959 431.6 959.4 429.1 959.7 426.6 960.1 424.1 960.6 421.6 961 419.1 961.5 416.6 962 414.1 962.6 411.6 963.1 409.1 963.7 406.6 964.2 404.1 964.7 401.6 965.3 399.1 965.8 396.6 966.2 394.1 966.7 391.6 967.2 389.1Z" fill="#735410" stroke="#000000" stroke-width="2.5" stroke-linejoin="round"/>
<path d="M937.9 516.8H996.6" stroke="#000" stroke-width="2.5" stroke-dasharray="7.3 6.5" stroke-dashoffset="1" fill="none"/>
<path d="M1002.8 558.2H931.7" stroke="#000" stroke-width="2.6" stroke-dasharray="16.3 14.4" fill="none"/>
<path d="M916.2 585.7H1018.2" stroke="#000" stroke-width="2.5" stroke-dasharray="7.3 6.5" stroke-dashoffset="1" fill="none"/>
<path d="M1092.9 348.3 1093 350.8 1093.1 353.3 1093.1 355.8 1093.2 358.3 1093.2 360.8 1093.2 363.3 1093.3 365.8 1093.3 368.3 1093.3 370.8 1093.3 373.3 1093.3 375.8 1093.3 378.3 1093.4 380.8 1093.4 383.3 1093.4 385.8 1093.4 388.3 1093.4 390.8 1093.4 393.3 1093.5 395.8 1093.8 398.3 1094.1 400.8 1094.6 403.3 1095.2 405.8 1095.9 408.3 1096.6 410.8 1097.4 413.3 1098.1 415.8 1098.9 418.3 1099.6 420.8 1100.4 423.3 1101.2 425.8 1102 428.3 1102.8 430.8 1103.7 433.3 1104.5 435.8 1105.4 438.3 1106.2 440.8 1107.1 443.3 1108 445.8 1108.9 448.3 1109.8 450.8 1110.8 453.3 1111.8 455.8 1113 458.3 1114.3 460.8 1115.7 463.3 1117.2 465.8 1118.7 468.3 1120.3 470.8 1121.8 473.3 1123.4 475.8 1124.9 478.3 1126.4 480.8 1127.7 483.3 1129 485.8 1130.1 488.3 1131 490.8 1131.8 493.3 1132.4 495.8 1132.9 498.3 1133.3 500.8 1133.6 503.3 1133.8 505.8 1134 508.3 1134.2 510.8 1134.3 513.3 1134.5 515.8 1134.7 518.3 1135 520.8 1135.3 523.3 1135.7 525.8 1136.2 528.3 1136.8 530.8 1137.4 533.3 1138.2 535.8 1139 538.3 1139.8 540.8 1140.5 543.3 1141.2 545.8 1141.7 548.3 1142.2 550.8 1142.6 553.3 1142.8 555.8 1143 558.3 1143 560.8 1142.9 563.3 1142.7 565.8 1142.4 568.3 1142 570.8 1141.4 573.3 1140.5 575.8 1139.5 578.3 1138.3 580.8 1136.9 583.3 1135.3 585.8 1133.5 588.3 1131.6 590.8 1129.6 593.3 1127.5 595.8 1125.2 598.3 1122.8 600.8 1120.4 603.3 1118 605.8 1115.6 608.3 1113.3 610.8 1111.1 613.3 1108.9 615.8 1106.9 618.3 1105 620.8 1103.2 623.3 1101.5 625.8 1099.8 628.3 1098.1 630.8 1097.3 631.8 1088.6 631.8 1087.8 630.8 1086.1 628.3 1084.4 625.8 1082.7 623.3 1080.9 620.8 1079 618.3 1077 615.8 1074.8 613.3 1072.6 610.8 1070.3 608.3 1067.9 605.8 1065.5 603.3 1063.1 600.8 1060.7 598.3 1058.4 595.8 1056.3 593.3 1054.3 590.8 1052.4 588.3 1050.6 585.8 1049 583.3 1047.6 580.8 1046.4 578.3 1045.4 575.8 1044.5 573.3 1043.9 570.8 1043.5 568.3 1043.1 565.8 1043 563.3 1042.9 560.8 1042.9 558.3 1043.1 555.8 1043.3 553.3 1043.7 550.8 1044.2 548.3 1044.7 545.8 1045.4 543.3 1046.1 540.8 1046.9 538.3 1047.7 535.8 1048.5 533.3 1049.1 530.8 1049.7 528.3 1050.2 525.8 1050.6 523.3 1050.9 520.8 1051.2 518.3 1051.4 515.8 1051.6 513.3 1051.7 510.8 1051.9 508.3 1052.1 505.8 1052.3 503.3 1052.6 500.8 1053 498.3 1053.5 495.8 1054.1 493.3 1054.9 490.8 1055.8 488.3 1056.9 485.8 1058.2 483.3 1059.5 480.8 1061 478.3 1062.5 475.8 1064.1 473.3 1065.6 470.8 1067.2 468.3 1068.7 465.8 1070.2 463.3 1071.6 460.8 1072.9 458.3 1074.1 455.8 1075.1 453.3 1076.1 450.8 1077 448.3 1077.9 445.8 1078.8 443.3 1079.7 440.8 1080.5 438.3 1081.4 435.8 1082.2 433.3 1083.1 430.8 1083.9 428.3 1084.7 425.8 1085.5 423.3 1086.3 420.8 1087 418.3 1087.8 415.8 1088.5 413.3 1089.3 410.8 1090 408.3 1090.7 405.8 1091.3 403.3 1091.8 400.8 1092.1 398.3 1092.3 395.8 1092.5 393.3 1092.5 390.8 1092.5 388.3 1092.5 385.8 1092.5 383.3 1092.5 380.8 1092.6 378.3 1092.6 375.8 1092.6 373.3 1092.6 370.8 1092.6 368.3 1092.6 365.8 1092.7 363.3 1092.7 360.8 1092.7 358.3 1092.8 355.8 1092.8 353.3 1092.9 350.8 1092.9 348.3Z" fill="#000080" stroke="#000000" stroke-width="2.5" stroke-linejoin="round"/>
<path d="M1052.5 499.5H1133.4" stroke="#000" stroke-width="2.5" stroke-dasharray="7.3 6.5" stroke-dashoffset="1" fill="none"/>
<path d="M1140.9 544H1045" stroke="#000" stroke-width="2.6" stroke-dasharray="16.3 14.4" fill="none"/>
<path d="M1044.1 574H1141.8" stroke="#000" stroke-width="2.5" stroke-dasharray="7.3 6.5" stroke-dashoffset="1" fill="none"/>
<path d="M1218.3 485.6 1218.8 488.1 1219.4 490.6 1220.1 493.1 1220.9 495.6 1221.8 498.1 1222.7 500.6 1223.4 503.1 1223.9 505.6 1224.3 508.1 1224.5 510.6 1224.5 513.1 1224.3 515.6 1224.1 518.1 1223.9 520.6 1223.8 523.1 1223.8 525.6 1224.1 528.1 1224.7 530.6 1225.6 533.1 1226.9 535.6 1228.3 538.1 1229.9 540.6 1231.6 543.1 1233.2 545.6 1234.6 548.1 1236.1 550.6 1237.5 553.1 1238.9 555.6 1240.6 558.1 1242.6 560.6 1244.9 563.1 1247.6 565.6 1250.6 568.1 1253.8 570.6 1256.9 573.1 1259.8 575.6 1262.4 578.1 1264.4 580.6 1266 583.1 1267.1 585.6 1267.7 588.1 1267.8 590.6 1267.4 593.1 1266.5 595.6 1265 598.1 1262.7 600.6 1259.8 603.1 1256.3 605.6 1252.1 608.1 1247.4 610.6 1242.5 613.1 1237.7 615.6 1233.1 618.1 1229 620.6 1225.2 623.1 1222.1 625.6 1220.3 628.1 1219.1 630.6 1218.5 633.1 1218.3 633.6 1218.3 633.6 1218.2 633.1 1217.6 630.6 1216.4 628.1 1214.6 625.6 1211.5 623.1 1207.7 620.6 1203.6 618.1 1199 615.6 1194.2 613.1 1189.3 610.6 1184.6 608.1 1180.4 605.6 1176.9 603.1 1173.9 600.6 1171.7 598.1 1170.2 595.6 1169.3 593.1 1168.9 590.6 1169 588.1 1169.6 585.6 1170.7 583.1 1172.2 580.6 1174.3 578.1 1176.9 575.6 1179.8 573.1 1182.9 570.6 1186.1 568.1 1189.1 565.6 1191.8 563.1 1194.1 560.6 1196.1 558.1 1197.8 555.6 1199.2 553.1 1200.6 550.6 1202 548.1 1203.5 545.6 1205.1 543.1 1206.7 540.6 1208.4 538.1 1209.8 535.6 1211.1 533.1 1212 530.6 1212.6 528.1 1212.9 525.6 1212.9 523.1 1212.8 520.6 1212.6 518.1 1212.4 515.6 1212.2 513.1 1212.2 510.6 1212.4 508.1 1212.8 505.6 1213.3 503.1 1214 500.6 1214.9 498.1 1215.8 495.6 1216.6 493.1 1217.3 490.6 1217.9 488.1 1218.3 485.6Z" fill="#70a0a0" stroke="#000000" stroke-width="2.5" stroke-linejoin="round"/>
<path d="M1186.2 568.4H1250.5" stroke="#000" stroke-width="2.5" stroke-dasharray="7.3 6.5" stroke-dashoffset="1" fill="none"/>
<path d="M1267.5 583.6H1169.2" stroke="#000" stroke-width="2.6" stroke-dasharray="16.3 14.4" fill="none"/>
<path d="M1169.5 597.2H1267.2" stroke="#000" stroke-width="2.5" stroke-dasharray="7.3 6.5" stroke-dashoffset="1" fill="none"/>
<path d="M150.2 28.7V718.2" stroke="#000" stroke-width="3.9" fill="none"/>
<path d="M134.2 716.2H1283.7" stroke="#000" stroke-width="3.9" fill="none"/>
<text x="123.6" y="725.6" font-size="30" text-anchor="end" textLength="65.8" lengthAdjust="spacingAndGlyphs">−0.5</text>
<text x="123.6" y="620" font-size="30" text-anchor="end" textLength="46.4" lengthAdjust="spacingAndGlyphs">0.0</text>
<text x="123.6" y="514.4" font-size="30" text-anchor="end" textLength="46.4" lengthAdjust="spacingAndGlyphs">0.5</text>
<text x="123.6" y="408.8" font-size="30" text-anchor="end" textLength="46.4" lengthAdjust="spacingAndGlyphs">1.0</text>
<text x="123.6" y="303.2" font-size="30" text-anchor="end" textLength="46.4" lengthAdjust="spacingAndGlyphs">1.5</text>
<text x="123.6" y="197.6" font-size="30" text-anchor="end" textLength="46.4" lengthAdjust="spacingAndGlyphs">2.0</text>
<text x="123.6" y="92" font-size="30" text-anchor="end" textLength="46.4" lengthAdjust="spacingAndGlyphs">2.5</text>
<path d="M142.7 663.4H150.2M134.2 610.6H150.2M142.7 557.8H150.2M134.2 505H150.2M142.7 452.2H150.2M134.2 399.4H150.2M142.7 346.6H150.2M134.2 293.8H150.2M142.7 241H150.2M134.2 188.2H150.2M142.7 135.4H150.2M134.2 82.6H150.2M142.7 29.8H150.2" stroke="#000" stroke-width="3.4" fill="none"/>
<path d="M213.5 716.2V729M339.1 716.2V729M464.7 716.2V729M590.3 716.2V729M715.9 716.2V729M841.5 716.2V729M967.1 716.2V729M1092.7 716.2V729M1218.3 716.2V729" stroke="#000" stroke-width="3.0" fill="none"/>
<text x="213.3" y="753.6" font-size="20" text-anchor="middle" textLength="77.1" lengthAdjust="spacingAndGlyphs">LSTNet</text>
<text x="338.4" y="753.6" font-size="20" text-anchor="middle" textLength="116" lengthAdjust="spacingAndGlyphs">GCN-LSTM</text>
<text x="464.8" y="753.6" font-size="20" text-anchor="middle" textLength="48.8" lengthAdjust="spacingAndGlyphs">GCN</text>
<text x="589.8" y="753.6" font-size="20" text-anchor="middle" textLength="49.2" lengthAdjust="spacingAndGlyphs">GRU</text>
<text x="715.1" y="753.6" font-size="20" text-anchor="middle" textLength="67.3" lengthAdjust="spacingAndGlyphs">BiGRU</text>
<text x="841.6" y="753.6" font-size="20" text-anchor="middle" textLength="80.3" lengthAdjust="spacingAndGlyphs">BiLSTM</text>
<text x="966.9" y="753.6" font-size="20" text-anchor="middle" textLength="61.8" lengthAdjust="spacingAndGlyphs">DGDL</text>
<text x="1092.7" y="753.6" font-size="20" text-anchor="middle" textLength="109.5" lengthAdjust="spacingAndGlyphs">TPA-LSTM</text>
<text x="1218.8" y="753.6" font-size="20" text-anchor="middle" textLength="102.1" lengthAdjust="spacingAndGlyphs">DG-DGSF</text>
<path d="M227.4 1027.4 227.6 1029.9 227.8 1032.4 228 1034.9 228.1 1037.4 228.3 1039.9 228.4 1042.4 228.6 1044.9 228.7 1047.4 228.8 1049.9 228.9 1052.4 228.9 1054.9 229 1057.4 229 1059.9 229.1 1062.4 229.1 1064.9 229.1 1067.4 229.2 1069.9 229.2 1072.4 229.2 1074.9 229.2 1077.4 229.2 1079.9 229.2 1082.4 229.2 1084.9 229.2 1087.4 229.2 1089.9 229.2 1092.4 229.2 1094.9 229.2 1097.4 229.1 1099.9 229.1 1102.4 229 1104.9 229 1107.4 228.9 1109.9 228.9 1112.4 228.8 1114.9 228.7 1117.4 228.6 1119.9 228.6 1122.4 228.5 1124.9 228.4 1127.4 228.3 1129.9 228.2 1132.4 228.1 1134.9 228 1137.4 227.9 1139.9 227.9 1142.4 227.8 1144.9 227.8 1147.4 227.8 1149.9 227.8 1152.4 227.8 1154.9 227.8 1157.4 227.8 1159.9 227.8 1162.4 227.8 1164.9 227.8 1167.4 227.8 1169.9 227.8 1172.4 227.8 1174.9 227.8 1177.4 227.8 1179.9 227.8 1182.4 227.8 1184.9 227.8 1187.4 227.8 1189.9 227.8 1192.4 227.8 1194.9 227.8 1197.4 227.9 1199.9 227.9 1202.4 227.9 1204.9 227.9 1207.4 227.9 1209.9 227.9 1212.4 228 1214.9 228 1217.4 228 1219.9 228.1 1222.4 228.1 1224.9 228.2 1227.4 228.4 1229.9 228.5 1232.4 228.7 1234.9 228.9 1237.4 229.2 1239.9 229.4 1242.4 229.6 1244.9 229.9 1247.4 230.1 1249.9 230.3 1252.4 230.6 1254.9 230.8 1257.4 231 1259.9 231.2 1262.4 231.4 1264.9 231.6 1267.4 231.8 1269.9 232 1272.4 232.2 1274.9 232.4 1277.4 232.6 1279.9 232.8 1282.4 233 1284.9 233.2 1287.4 233.4 1289.9 233.7 1292.4 233.9 1294.9 234.1 1297.4 234.4 1299.9 234.6 1302.4 234.9 1304.9 235.1 1307.4 235.4 1309.9 235.7 1312.4 236 1314.9 236.3 1317.4 236.7 1319.9 237 1322.4 237.4 1324.9 237.7 1327.4 238.1 1329.9 238.5 1332.4 238.9 1334.9 239.4 1337.4 239.8 1339.9 240.3 1342.4 240.7 1344.9 241.3 1347.4 241.8 1349.9 242.3 1352.4 242.9 1354.9 243.5 1357.4 244.1 1359.9 244.7 1362.4 245.4 1364.9 246 1367.4 246.7 1369.9 247.4 1372.4 248.1 1374.9 248.8 1377.4 249.5 1379.9 250.2 1382.4 250.9 1384.9 251.6 1387.4 252.3 1389.9 253.1 1392.4 253.8 1394.9 254.6 1397.4 255.4 1399.9 256.2 1402.4 257 1404.9 257.8 1407.4 258.6 1409.9 259.5 1412.4 260.3 1414.9 261.2 1417.4 262.1 1419.9 263 1422.4 264 1424.9 264.8 1427.4 265.7 1429.9 266.6 1432.4 267.4 1434.9 268.2 1437.4 269 1439.9 269.8 1442.4 270.5 1444.9 271.2 1447.4 271.9 1449.9 272.6 1452.4 273.3 1454.9 273.9 1457.4 274.5 1459.9 275.1 1462.4 275.6 1464.9 276 1467.4 276.4 1469.9 276.8 1472.4 277.1 1474.9 277.4 1477.4 277.6 1479.9 277.8 1482.4 277.9 1484.9 278 1487.4 278 1489.9 278 1492.4 277.9 1494.9 277.8 1497.4 277.6 1499.9 277.3 1502.4 276.7 1504.9 275.9 1507.4 274.8 1509.9 273.5 1512.4 272 1514.9 270.4 1517.4 268.7 1519.9 266.9 1522.4 265.1 1524.9 263.1 1527.4 261.2 1529.9 259.1 1532.4 257 1534.9 254.9 1537.4 252.7 1539.9 250.6 1542.4 248.5 1544.9 246.5 1547.4 244.5 1549.9 242.6 1552.4 240.7 1554.9 239 1557.4 237.3 1559.9 235.7 1562.4 234.2 1564.9 232.8 1567.4 231.5 1569.9 230.2 1572.4 229.9 1572.7 224.9 1572.7 224.6 1572.4 223.3 1569.9 221.9 1567.4 220.6 1564.9 219.1 1562.4 217.5 1559.9 215.8 1557.4 214 1554.9 212.2 1552.4 210.3 1549.9 208.3 1547.4 206.3 1544.9 204.2 1542.4 202.1 1539.9 199.9 1537.4 197.8 1534.9 195.7 1532.4 193.6 1529.9 191.6 1527.4 189.7 1524.9 187.9 1522.4 186.1 1519.9 184.4 1517.4 182.8 1514.9 181.3 1512.4 180 1509.9 178.9 1507.4 178.1 1504.9 177.5 1502.4 177.2 1499.9 177 1497.4 176.9 1494.9 176.8 1492.4 176.8 1489.9 176.8 1487.4 176.9 1484.9 177 1482.4 177.1 1479.9 177.4 1477.4 177.7 1474.9 178 1472.4 178.4 1469.9 178.8 1467.4 179.2 1464.9 179.7 1462.4 180.3 1459.9 180.9 1457.4 181.5 1454.9 182.2 1452.4 182.9 1449.9 183.6 1447.4 184.3 1444.9 185 1442.4 185.8 1439.9 186.6 1437.4 187.4 1434.9 188.2 1432.4 189.1 1429.9 189.9 1427.4 190.8 1424.9 191.7 1422.4 192.7 1419.9 193.6 1417.4 194.5 1414.9 195.3 1412.4 196.2 1409.9 197 1407.4 197.8 1404.9 198.6 1402.4 199.4 1399.9 200.2 1397.4 201 1394.9 201.7 1392.4 202.5 1389.9 203.2 1387.4 203.9 1384.9 204.6 1382.4 205.3 1379.9 206 1377.4 206.7 1374.9 207.4 1372.4 208.1 1369.9 208.7 1367.4 209.4 1364.9 210.1 1362.4 210.7 1359.9 211.3 1357.4 211.9 1354.9 212.5 1352.4 213 1349.9 213.5 1347.4 214 1344.9 214.5 1342.4 215 1339.9 215.4 1337.4 215.9 1334.9 216.3 1332.4 216.7 1329.9 217.1 1327.4 217.4 1324.9 217.8 1322.4 218.1 1319.9 218.5 1317.4 218.8 1314.9 219.1 1312.4 219.4 1309.9 219.6 1307.4 219.9 1304.9 220.2 1302.4 220.4 1299.9 220.7 1297.4 220.9 1294.9 221.1 1292.4 221.3 1289.9 221.6 1287.4 221.8 1284.9 222 1282.4 222.2 1279.9 222.4 1277.4 222.6 1274.9 222.8 1272.4 223 1269.9 223.2 1267.4 223.4 1264.9 223.6 1262.4 223.8 1259.9 224 1257.4 224.2 1254.9 224.4 1252.4 224.7 1249.9 224.9 1247.4 225.1 1244.9 225.4 1242.4 225.6 1239.9 225.9 1237.4 226.1 1234.9 226.3 1232.4 226.4 1229.9 226.6 1227.4 226.7 1224.9 226.7 1222.4 226.8 1219.9 226.8 1217.4 226.8 1214.9 226.9 1212.4 226.9 1209.9 226.9 1207.4 226.9 1204.9 226.9 1202.4 226.9 1199.9 226.9 1197.4 227 1194.9 227 1192.4 227 1189.9 227 1187.4 227 1184.9 227 1182.4 227 1179.9 227 1177.4 227 1174.9 227 1172.4 227 1169.9 227 1167.4 227 1164.9 227 1162.4 227 1159.9 227 1157.4 227 1154.9 227 1152.4 227 1149.9 227 1147.4 226.9 1144.9 226.9 1142.4 226.9 1139.9 226.8 1137.4 226.7 1134.9 226.6 1132.4 226.5 1129.9 226.4 1127.4 226.3 1124.9 226.2 1122.4 226.1 1119.9 226.1 1117.4 226 1114.9 225.9 1112.4 225.9 1109.9 225.8 1107.4 225.8 1104.9 225.7 1102.4 225.7 1099.9 225.6 1097.4 225.6 1094.9 225.6 1092.4 225.6 1089.9 225.6 1087.4 225.6 1084.9 225.6 1082.4 225.6 1079.9 225.6 1077.4 225.6 1074.9 225.6 1072.4 225.6 1069.9 225.7 1067.4 225.7 1064.9 225.7 1062.4 225.8 1059.9 225.8 1057.4 225.8 1054.9 225.9 1052.4 226 1049.9 226.1 1047.4 226.2 1044.9 226.4 1042.4 226.5 1039.9 226.7 1037.4 226.8 1034.9 227 1032.4 227.2 1029.9 227.4 1027.4Z" fill="#0000ff" stroke="#000000" stroke-width="2.5" stroke-linejoin="round"/>
<path d="M196.6 1408.8H258.2" stroke="#000" stroke-width="2.5" stroke-dasharray="7.3 6.5" stroke-dashoffset="1" fill="none"/>
<path d="M275.5 1463.9H179.3" stroke="#000" stroke-width="2.6" stroke-dasharray="16.3 14.4" fill="none"/>
<path d="M177 1502.5H277.8" stroke="#000" stroke-width="2.5" stroke-dasharray="7.3 6.5" stroke-dashoffset="1" fill="none"/>
<path d="M355.2 1133.1 355.4 1135.6 355.6 1138.1 355.8 1140.6 355.9 1143.1 356 1145.6 356.1 1148.1 356.2 1150.6 356.3 1153.1 356.4 1155.6 356.4 1158.1 356.5 1160.6 356.5 1163.1 356.6 1165.6 356.6 1168.1 356.6 1170.6 356.7 1173.1 356.7 1175.6 356.7 1178.1 356.7 1180.6 356.7 1183.1 356.7 1185.6 356.7 1188.1 356.7 1190.6 356.7 1193.1 356.6 1195.6 356.6 1198.1 356.6 1200.6 356.6 1203.1 356.5 1205.6 356.5 1208.1 356.4 1210.6 356.4 1213.1 356.3 1215.6 356.3 1218.1 356.2 1220.6 356.1 1223.1 356.1 1225.6 356 1228.1 355.9 1230.6 355.9 1233.1 355.9 1235.6 355.9 1238.1 355.9 1240.6 356 1243.1 356 1245.6 356.2 1248.1 356.3 1250.6 356.5 1253.1 356.6 1255.6 356.8 1258.1 357 1260.6 357.2 1263.1 357.4 1265.6 357.6 1268.1 357.7 1270.6 357.9 1273.1 358.1 1275.6 358.2 1278.1 358.4 1280.6 358.6 1283.1 358.8 1285.6 358.9 1288.1 359.1 1290.6 359.3 1293.1 359.5 1295.6 359.7 1298.1 359.8 1300.6 360 1303.1 360.2 1305.6 360.4 1308.1 360.6 1310.6 360.8 1313.1 361 1315.6 361.2 1318.1 361.4 1320.6 361.7 1323.1 362 1325.6 362.3 1328.1 362.7 1330.6 363.2 1333.1 363.8 1335.6 364.4 1338.1 365.1 1340.6 365.9 1343.1 366.9 1345.6 367.8 1348.1 368.9 1350.6 370.1 1353.1 371.2 1355.6 372.5 1358.1 373.7 1360.6 374.8 1363.1 376 1365.6 377.1 1368.1 378.2 1370.6 379.2 1373.1 380.1 1375.6 380.9 1378.1 381.7 1380.6 382.4 1383.1 382.9 1385.6 383.4 1388.1 383.7 1390.6 384 1393.1 384.1 1395.6 384.2 1398.1 384.2 1400.6 384.2 1403.1 384.2 1405.6 384.2 1408.1 384.1 1410.6 384 1413.1 383.9 1415.6 383.9 1418.1 383.8 1420.6 383.8 1423.1 383.9 1425.6 384.1 1428.1 384.4 1430.6 384.8 1433.1 385.3 1435.6 385.9 1438.1 386.6 1440.6 387.5 1443.1 388.5 1445.6 389.6 1448.1 390.9 1450.6 392.1 1453.1 393.4 1455.6 394.7 1458.1 396 1460.6 397.3 1463.1 398.4 1465.6 399.6 1468.1 400.6 1470.6 401.5 1473.1 402.4 1475.6 403.1 1478.1 403.7 1480.6 404.3 1483.1 404.7 1485.6 405.1 1488.1 405.3 1490.6 405.5 1493.1 405.6 1495.6 405.5 1498.1 405.3 1500.6 405 1503.1 404.5 1505.6 403.9 1508.1 403.1 1510.6 402.2 1513.1 401 1515.6 399.7 1518.1 398.1 1520.6 396.4 1523.1 394.6 1525.6 392.5 1528.1 390.3 1530.6 387.9 1533.1 385.4 1535.6 382.9 1538.1 380.4 1540.6 378 1543.1 375.6 1545.6 373.4 1548.1 371.3 1550.6 369.3 1553.1 367.4 1555.6 365.6 1558.1 363.8 1560.6 362 1563.1 360.3 1565.6 358.7 1568.1 357.2 1570.6 356.1 1572.7 354.2 1572.7 353.1 1570.6 351.6 1568.1 350 1565.6 348.3 1563.1 346.6 1560.6 344.8 1558.1 343 1555.6 341.1 1553.1 339.1 1550.6 336.9 1548.1 334.7 1545.6 332.4 1543.1 329.9 1540.6 327.4 1538.1 324.9 1535.6 322.4 1533.1 320.1 1530.6 317.8 1528.1 315.8 1525.6 313.9 1523.1 312.2 1520.6 310.7 1518.1 309.3 1515.6 308.2 1513.1 307.2 1510.6 306.4 1508.1 305.8 1505.6 305.3 1503.1 305 1500.6 304.8 1498.1 304.8 1495.6 304.9 1493.1 305 1490.6 305.3 1488.1 305.6 1485.6 306.1 1483.1 306.6 1480.6 307.2 1478.1 308 1475.6 308.8 1473.1 309.8 1470.6 310.8 1468.1 311.9 1465.6 313.1 1463.1 314.3 1460.6 315.6 1458.1 316.9 1455.6 318.2 1453.1 319.5 1450.6 320.7 1448.1 321.8 1445.6 322.9 1443.1 323.7 1440.6 324.5 1438.1 325.1 1435.6 325.6 1433.1 326 1430.6 326.2 1428.1 326.4 1425.6 326.5 1423.1 326.5 1420.6 326.5 1418.1 326.4 1415.6 326.3 1413.1 326.2 1410.6 326.2 1408.1 326.2 1405.6 326.1 1403.1 326.1 1400.6 326.2 1398.1 326.2 1395.6 326.4 1393.1 326.6 1390.6 326.9 1388.1 327.4 1385.6 328 1383.1 328.7 1380.6 329.4 1378.1 330.3 1375.6 331.2 1373.1 332.2 1370.6 333.2 1368.1 334.3 1365.6 335.5 1363.1 336.7 1360.6 337.9 1358.1 339.1 1355.6 340.3 1353.1 341.4 1350.6 342.5 1348.1 343.5 1345.6 344.4 1343.1 345.2 1340.6 345.9 1338.1 346.6 1335.6 347.1 1333.1 347.6 1330.6 348 1328.1 348.3 1325.6 348.6 1323.1 348.9 1320.6 349.1 1318.1 349.4 1315.6 349.6 1313.1 349.8 1310.6 349.9 1308.1 350.1 1305.6 350.3 1303.1 350.5 1300.6 350.7 1298.1 350.9 1295.6 351.1 1293.1 351.2 1290.6 351.4 1288.1 351.6 1285.6 351.8 1283.1 351.9 1280.6 352.1 1278.1 352.3 1275.6 352.4 1273.1 352.6 1270.6 352.8 1268.1 353 1265.6 353.1 1263.1 353.3 1260.6 353.5 1258.1 353.7 1255.6 353.9 1253.1 354 1250.6 354.2 1248.1 354.3 1245.6 354.4 1243.1 354.4 1240.6 354.5 1238.1 354.5 1235.6 354.4 1233.1 354.4 1230.6 354.3 1228.1 354.3 1225.6 354.2 1223.1 354.1 1220.6 354.1 1218.1 354 1215.6 353.9 1213.1 353.9 1210.6 353.9 1208.1 353.8 1205.6 353.8 1203.1 353.8 1200.6 353.7 1198.1 353.7 1195.6 353.7 1193.1 353.7 1190.6 353.7 1188.1 353.6 1185.6 353.6 1183.1 353.6 1180.6 353.7 1178.1 353.7 1175.6 353.7 1173.1 353.7 1170.6 353.7 1168.1 353.8 1165.6 353.8 1163.1 353.9 1160.6 353.9 1158.1 354 1155.6 354 1153.1 354.1 1150.6 354.2 1148.1 354.3 1145.6 354.4 1143.1 354.5 1140.6 354.7 1138.1 354.9 1135.6 355.2 1133.1Z" fill="#ffff80" stroke="#000000" stroke-width="2.5" stroke-linejoin="round"/>
<path d="M326.1 1402.7H384.2" stroke="#000" stroke-width="2.5" stroke-dasharray="7.3 6.5" stroke-dashoffset="1" fill="none"/>
<path d="M399.6 1467.6H310.7" stroke="#000" stroke-width="2.6" stroke-dasharray="16.3 14.4" fill="none"/>
<path d="M304.7 1501H405.7" stroke="#000" stroke-width="2.5" stroke-dasharray="7.3 6.5" stroke-dashoffset="1" fill="none"/>
<path d="M483.7 1054.3 484 1056.8 484.2 1059.3 484.4 1061.8 484.6 1064.3 484.6 1066.8 484.7 1069.3 484.8 1071.8 484.8 1074.3 484.9 1076.8 484.9 1079.3 484.9 1081.8 484.9 1084.3 485 1086.8 485 1089.3 485 1091.8 485 1094.3 485 1096.8 485 1099.3 485 1101.8 485 1104.3 485 1106.8 485 1109.3 485 1111.8 485 1114.3 485 1116.8 485 1119.3 485 1121.8 485 1124.3 485 1126.8 485 1129.3 485 1131.8 485 1134.3 485 1136.8 485 1139.3 485 1141.8 485 1144.3 485 1146.8 485 1149.3 485 1151.8 485 1154.3 485 1156.8 485 1159.3 485 1161.8 485 1164.3 485 1166.8 485 1169.3 485 1171.8 485 1174.3 485 1176.8 484.9 1179.3 484.9 1181.8 484.9 1184.3 484.9 1186.8 484.9 1189.3 484.9 1191.8 484.8 1194.3 484.8 1196.8 484.8 1199.3 484.8 1201.8 484.7 1204.3 484.7 1206.8 484.7 1209.3 484.7 1211.8 484.7 1214.3 484.7 1216.8 484.7 1219.3 484.8 1221.8 484.9 1224.3 485 1226.8 485.1 1229.3 485.2 1231.8 485.4 1234.3 485.5 1236.8 485.7 1239.3 485.8 1241.8 486 1244.3 486.2 1246.8 486.4 1249.3 486.6 1251.8 486.8 1254.3 487 1256.8 487.2 1259.3 487.4 1261.8 487.6 1264.3 487.8 1266.8 488.1 1269.3 488.2 1271.8 488.4 1274.3 488.6 1276.8 488.8 1279.3 489 1281.8 489.2 1284.3 489.4 1286.8 489.6 1289.3 489.8 1291.8 490 1294.3 490.3 1296.8 490.5 1299.3 490.7 1301.8 491 1304.3 491.3 1306.8 491.6 1309.3 491.9 1311.8 492.2 1314.3 492.5 1316.8 492.8 1319.3 493 1321.8 493.3 1324.3 493.6 1326.8 493.9 1329.3 494.3 1331.8 494.7 1334.3 495.1 1336.8 495.6 1339.3 496.2 1341.8 496.9 1344.3 497.7 1346.8 498.7 1349.3 499.7 1351.8 500.7 1354.3 501.8 1356.8 502.9 1359.3 504 1361.8 505.2 1364.3 506.4 1366.8 507.5 1369.3 508.7 1371.8 510 1374.3 511.2 1376.8 512.4 1379.3 513.5 1381.8 514.7 1384.3 515.9 1386.8 517 1389.3 518.2 1391.8 519.4 1394.3 520.5 1396.8 521.7 1399.3 522.8 1401.8 523.9 1404.3 524.9 1406.8 525.9 1409.3 526.9 1411.8 527.9 1414.3 528.8 1416.8 529.6 1419.3 530.3 1421.8 531 1424.3 531.6 1426.8 532.2 1429.3 532.6 1431.8 533.1 1434.3 533.4 1436.8 533.7 1439.3 533.9 1441.8 534 1444.3 534.2 1446.8 534.3 1449.3 534.3 1451.8 534.4 1454.3 534.4 1456.8 534.4 1459.3 534.4 1461.8 534.4 1464.3 534.4 1466.8 534.4 1469.3 534.4 1471.8 534.4 1474.3 534.4 1476.8 534.4 1479.3 534.4 1481.8 534.4 1484.3 534.3 1486.8 534.2 1489.3 534 1491.8 533.8 1494.3 533.5 1496.8 533.1 1499.3 532.6 1501.8 531.9 1504.3 531 1506.8 530 1509.3 528.9 1511.8 527.7 1514.3 526.3 1516.8 524.9 1519.3 523.3 1521.8 521.7 1524.3 519.9 1526.8 518 1529.3 516 1531.8 513.9 1534.3 511.6 1536.8 509.4 1539.3 507.2 1541.8 505 1544.3 502.8 1546.8 500.8 1549.3 498.9 1551.8 497 1554.3 495.3 1556.8 493.6 1559.3 492 1561.8 490.4 1564.3 488.9 1566.8 487.5 1569.3 486.2 1571.8 485.6 1572.7 481.9 1572.7 481.3 1571.8 479.9 1569.3 478.5 1566.8 477 1564.3 475.5 1561.8 473.9 1559.3 472.2 1556.8 470.4 1554.3 468.6 1551.8 466.6 1549.3 464.6 1546.8 462.5 1544.3 460.3 1541.8 458.1 1539.3 455.8 1536.8 453.6 1534.3 451.4 1531.8 449.4 1529.3 447.5 1526.8 445.8 1524.3 444.1 1521.8 442.6 1519.3 441.1 1516.8 439.8 1514.3 438.5 1511.8 437.4 1509.3 436.4 1506.8 435.6 1504.3 434.9 1501.8 434.3 1499.3 433.9 1496.8 433.6 1494.3 433.4 1491.8 433.3 1489.3 433.2 1486.8 433.1 1484.3 433.1 1481.8 433 1479.3 433 1476.8 433 1474.3 433 1471.8 433 1469.3 433 1466.8 433 1464.3 433 1461.8 433 1459.3 433.1 1456.8 433.1 1454.3 433.1 1451.8 433.2 1449.3 433.3 1446.8 433.4 1444.3 433.6 1441.8 433.8 1439.3 434.1 1436.8 434.4 1434.3 434.8 1431.8 435.3 1429.3 435.8 1426.8 436.4 1424.3 437.1 1421.8 437.9 1419.3 438.7 1416.8 439.6 1414.3 440.5 1411.8 441.5 1409.3 442.5 1406.8 443.6 1404.3 444.7 1401.8 445.8 1399.3 446.9 1396.8 448.1 1394.3 449.2 1391.8 450.4 1389.3 451.6 1386.8 452.7 1384.3 453.9 1381.8 455.1 1379.3 456.3 1376.8 457.5 1374.3 458.7 1371.8 459.9 1369.3 461.1 1366.8 462.3 1364.3 463.4 1361.8 464.5 1359.3 465.6 1356.8 466.7 1354.3 467.8 1351.8 468.8 1349.3 469.7 1346.8 470.5 1344.3 471.2 1341.8 471.8 1339.3 472.4 1336.8 472.8 1334.3 473.2 1331.8 473.5 1329.3 473.8 1326.8 474.1 1324.3 474.4 1321.8 474.7 1319.3 475 1316.8 475.3 1314.3 475.6 1311.8 475.9 1309.3 476.2 1306.8 476.4 1304.3 476.7 1301.8 477 1299.3 477.2 1296.8 477.4 1294.3 477.6 1291.8 477.8 1289.3 478 1286.8 478.2 1284.3 478.4 1281.8 478.6 1279.3 478.8 1276.8 479 1274.3 479.2 1271.8 479.4 1269.3 479.6 1266.8 479.8 1264.3 480 1261.8 480.2 1259.3 480.5 1256.8 480.7 1254.3 480.9 1251.8 481.1 1249.3 481.3 1246.8 481.5 1244.3 481.6 1241.8 481.8 1239.3 481.9 1236.8 482.1 1234.3 482.2 1231.8 482.4 1229.3 482.5 1226.8 482.6 1224.3 482.6 1221.8 482.7 1219.3 482.7 1216.8 482.8 1214.3 482.8 1211.8 482.8 1209.3 482.7 1206.8 482.7 1204.3 482.7 1201.8 482.7 1199.3 482.6 1196.8 482.6 1194.3 482.6 1191.8 482.6 1189.3 482.5 1186.8 482.5 1184.3 482.5 1181.8 482.5 1179.3 482.5 1176.8 482.5 1174.3 482.5 1171.8 482.5 1169.3 482.5 1166.8 482.5 1164.3 482.5 1161.8 482.5 1159.3 482.5 1156.8 482.5 1154.3 482.5 1151.8 482.5 1149.3 482.5 1146.8 482.5 1144.3 482.5 1141.8 482.5 1139.3 482.5 1136.8 482.5 1134.3 482.5 1131.8 482.5 1129.3 482.5 1126.8 482.5 1124.3 482.5 1121.8 482.5 1119.3 482.5 1116.8 482.5 1114.3 482.5 1111.8 482.5 1109.3 482.5 1106.8 482.5 1104.3 482.5 1101.8 482.5 1099.3 482.5 1096.8 482.5 1094.3 482.5 1091.8 482.5 1089.3 482.5 1086.8 482.5 1084.3 482.5 1081.8 482.5 1079.3 482.6 1076.8 482.6 1074.3 482.7 1071.8 482.7 1069.3 482.8 1066.8 482.9 1064.3 483 1061.8 483.2 1059.3 483.4 1056.8 483.7 1054.3Z" fill="#ff0000" stroke="#000000" stroke-width="2.5" stroke-linejoin="round"/>
<path d="M442.7 1406.1H524.7" stroke="#000" stroke-width="2.5" stroke-dasharray="7.3 6.5" stroke-dashoffset="1" fill="none"/>
<path d="M534.3 1450H433.1" stroke="#000" stroke-width="2.6" stroke-dasharray="16.3 14.4" fill="none"/>
<path d="M433.9 1497.9H533.6" stroke="#000" stroke-width="2.5" stroke-dasharray="7.3 6.5" stroke-dashoffset="1" fill="none"/>
<path d="M612 969.9 612.1 972.4 612.2 974.9 612.3 977.4 612.4 979.9 612.5 982.4 612.5 984.9 612.6 987.4 612.6 989.9 612.6 992.4 612.6 994.9 612.6 997.4 612.6 999.9 612.6 1002.4 612.6 1004.9 612.6 1007.4 612.6 1009.9 612.6 1012.4 612.6 1014.9 612.6 1017.4 612.6 1019.9 612.6 1022.4 612.6 1024.9 612.6 1027.4 612.6 1029.9 612.6 1032.4 612.6 1034.9 612.6 1037.4 612.6 1039.9 612.6 1042.4 612.6 1044.9 612.6 1047.4 612.6 1049.9 612.6 1052.4 612.6 1054.9 612.6 1057.4 612.6 1059.9 612.6 1062.4 612.6 1064.9 612.6 1067.4 612.6 1069.9 612.6 1072.4 612.6 1074.9 612.6 1077.4 612.6 1079.9 612.6 1082.4 612.6 1084.9 612.6 1087.4 612.6 1089.9 612.6 1092.4 612.6 1094.9 612.6 1097.4 612.6 1099.9 612.6 1102.4 612.6 1104.9 612.6 1107.4 612.6 1109.9 612.6 1112.4 612.6 1114.9 612.6 1117.4 612.6 1119.9 612.6 1122.4 612.6 1124.9 612.6 1127.4 612.6 1129.9 612.6 1132.4 612.6 1134.9 612.6 1137.4 612.6 1139.9 612.6 1142.4 612.6 1144.9 612.6 1147.4 612.6 1149.9 612.6 1152.4 612.6 1154.9 612.6 1157.4 612.6 1159.9 612.6 1162.4 612.6 1164.9 612.6 1167.4 612.6 1169.9 612.6 1172.4 612.6 1174.9 612.6 1177.4 612.6 1179.9 612.6 1182.4 612.6 1184.9 612.6 1187.4 612.6 1189.9 612.6 1192.4 612.6 1194.9 612.6 1197.4 612.6 1199.9 612.6 1202.4 612.6 1204.9 612.6 1207.4 612.6 1209.9 612.6 1212.4 612.6 1214.9 612.6 1217.4 612.6 1219.9 612.6 1222.4 612.6 1224.9 612.6 1227.4 612.6 1229.9 612.6 1232.4 612.6 1234.9 612.6 1237.4 612.7 1239.9 612.7 1242.4 612.7 1244.9 612.8 1247.4 612.8 1249.9 612.9 1252.4 613 1254.9 613.1 1257.4 613.2 1259.9 613.3 1262.4 613.4 1264.9 613.5 1267.4 613.6 1269.9 613.8 1272.4 613.9 1274.9 614.1 1277.4 614.2 1279.9 614.4 1282.4 614.6 1284.9 614.8 1287.4 615 1289.9 615.3 1292.4 615.5 1294.9 615.8 1297.4 616.1 1299.9 616.4 1302.4 616.7 1304.9 617 1307.4 617.3 1309.9 617.7 1312.4 618.1 1314.9 618.5 1317.4 619 1319.9 619.4 1322.4 619.9 1324.9 620.3 1327.4 620.8 1329.9 621.3 1332.4 621.8 1334.9 622.4 1337.4 622.9 1339.9 623.5 1342.4 624.1 1344.9 624.7 1347.4 625.4 1349.9 626 1352.4 626.6 1354.9 627.3 1357.4 627.9 1359.9 628.5 1362.4 629.2 1364.9 629.8 1367.4 630.4 1369.9 631.1 1372.4 631.7 1374.9 632.3 1377.4 633 1379.9 633.6 1382.4 634.3 1384.9 635 1387.4 635.7 1389.9 636.4 1392.4 637.1 1394.9 637.8 1397.4 638.5 1399.9 639.2 1402.4 640 1404.9 640.7 1407.4 641.5 1409.9 642.2 1412.4 643 1414.9 643.8 1417.4 644.5 1419.9 645.3 1422.4 646.1 1424.9 646.9 1427.4 647.7 1429.9 648.5 1432.4 649.3 1434.9 650.1 1437.4 650.9 1439.9 651.8 1442.4 652.6 1444.9 653.4 1447.4 654.1 1449.9 654.9 1452.4 655.7 1454.9 656.4 1457.4 657.2 1459.9 657.9 1462.4 658.5 1464.9 659.2 1467.4 659.8 1469.9 660.3 1472.4 660.8 1474.9 661.2 1477.4 661.6 1479.9 661.9 1482.4 662.2 1484.9 662.3 1487.4 662.4 1489.9 662.4 1492.4 662.3 1494.9 662.1 1497.4 661.7 1499.9 661.3 1502.4 660.8 1504.9 660.1 1507.4 659.3 1509.9 658.3 1512.4 657.2 1514.9 655.9 1517.4 654.5 1519.9 652.8 1522.4 651 1524.9 649.1 1527.4 647.1 1529.9 645.1 1532.4 643 1534.9 640.9 1537.4 638.8 1539.9 636.7 1542.4 634.7 1544.9 632.6 1547.4 630.6 1549.9 628.7 1552.4 626.8 1554.9 624.9 1557.4 623.1 1559.9 621.4 1562.4 619.7 1564.9 618.1 1567.4 616.6 1569.9 615.2 1572.4 614.8 1572.7 609.2 1572.7 608.9 1572.4 607.4 1569.9 605.9 1567.4 604.3 1564.9 602.7 1562.4 600.9 1559.9 599.1 1557.4 597.3 1554.9 595.3 1552.4 593.4 1549.9 591.4 1547.4 589.4 1544.9 587.3 1542.4 585.2 1539.9 583.1 1537.4 581 1534.9 578.9 1532.4 576.9 1529.9 574.9 1527.4 573 1524.9 571.2 1522.4 569.6 1519.9 568.1 1517.4 566.8 1514.9 565.7 1512.4 564.7 1509.9 563.9 1507.4 563.2 1504.9 562.7 1502.4 562.3 1499.9 562 1497.4 561.7 1494.9 561.6 1492.4 561.6 1489.9 561.7 1487.4 561.9 1484.9 562.1 1482.4 562.4 1479.9 562.8 1477.4 563.2 1474.9 563.7 1472.4 564.3 1469.9 564.8 1467.4 565.5 1464.9 566.2 1462.4 566.9 1459.9 567.6 1457.4 568.3 1454.9 569.1 1452.4 569.9 1449.9 570.7 1447.4 571.5 1444.9 572.3 1442.4 573.1 1439.9 573.9 1437.4 574.7 1434.9 575.5 1432.4 576.3 1429.9 577.1 1427.4 577.9 1424.9 578.7 1422.4 579.5 1419.9 580.3 1417.4 581 1414.9 581.8 1412.4 582.6 1409.9 583.3 1407.4 584.1 1404.9 584.8 1402.4 585.5 1399.9 586.3 1397.4 587 1394.9 587.7 1392.4 588.4 1389.9 589 1387.4 589.7 1384.9 590.4 1382.4 591 1379.9 591.7 1377.4 592.3 1374.9 593 1372.4 593.6 1369.9 594.2 1367.4 594.9 1364.9 595.5 1362.4 596.1 1359.9 596.8 1357.4 597.4 1354.9 598 1352.4 598.7 1349.9 599.3 1347.4 599.9 1344.9 600.5 1342.4 601.1 1339.9 601.6 1337.4 602.2 1334.9 602.7 1332.4 603.2 1329.9 603.7 1327.4 604.2 1324.9 604.6 1322.4 605.1 1319.9 605.5 1317.4 605.9 1314.9 606.3 1312.4 606.7 1309.9 607 1307.4 607.4 1304.9 607.7 1302.4 608 1299.9 608.2 1297.4 608.5 1294.9 608.7 1292.4 609 1289.9 609.2 1287.4 609.4 1284.9 609.6 1282.4 609.8 1279.9 610 1277.4 610.1 1274.9 610.3 1272.4 610.4 1269.9 610.5 1267.4 610.6 1264.9 610.7 1262.4 610.9 1259.9 610.9 1257.4 611 1254.9 611.1 1252.4 611.2 1249.9 611.3 1247.4 611.3 1244.9 611.3 1242.4 611.4 1239.9 611.4 1237.4 611.4 1234.9 611.4 1232.4 611.4 1229.9 611.4 1227.4 611.4 1224.9 611.4 1222.4 611.4 1219.9 611.4 1217.4 611.4 1214.9 611.4 1212.4 611.4 1209.9 611.4 1207.4 611.4 1204.9 611.4 1202.4 611.4 1199.9 611.4 1197.4 611.4 1194.9 611.4 1192.4 611.4 1189.9 611.4 1187.4 611.4 1184.9 611.4 1182.4 611.4 1179.9 611.4 1177.4 611.4 1174.9 611.4 1172.4 611.4 1169.9 611.4 1167.4 611.4 1164.9 611.4 1162.4 611.4 1159.9 611.4 1157.4 611.4 1154.9 611.4 1152.4 611.4 1149.9 611.4 1147.4 611.4 1144.9 611.4 1142.4 611.4 1139.9 611.4 1137.4 611.4 1134.9 611.4 1132.4 611.4 1129.9 611.4 1127.4 611.4 1124.9 611.4 1122.4 611.4 1119.9 611.4 1117.4 611.4 1114.9 611.4 1112.4 611.4 1109.9 611.4 1107.4 611.4 1104.9 611.4 1102.4 611.4 1099.9 611.4 1097.4 611.4 1094.9 611.4 1092.4 611.4 1089.9 611.4 1087.4 611.4 1084.9 611.4 1082.4 611.4 1079.9 611.4 1077.4 611.4 1074.9 611.4 1072.4 611.4 1069.9 611.4 1067.4 611.4 1064.9 611.4 1062.4 611.4 1059.9 611.4 1057.4 611.4 1054.9 611.4 1052.4 611.4 1049.9 611.4 1047.4 611.4 1044.9 611.4 1042.4 611.4 1039.9 611.4 1037.4 611.4 1034.9 611.4 1032.4 611.4 1029.9 611.4 1027.4 611.4 1024.9 611.4 1022.4 611.4 1019.9 611.4 1017.4 611.4 1014.9 611.4 1012.4 611.4 1009.9 611.4 1007.4 611.4 1004.9 611.4 1002.4 611.4 999.9 611.4 997.4 611.4 994.9 611.4 992.4 611.4 989.9 611.5 987.4 611.5 984.9 611.6 982.4 611.6 979.9 611.7 977.4 611.8 974.9 611.9 972.4 612 969.9Z" fill="#ffc0c0" stroke="#000000" stroke-width="2.5" stroke-linejoin="round"/>
<path d="M581.7 1412.9H642.4" stroke="#000" stroke-width="2.5" stroke-dasharray="7.3 6.5" stroke-dashoffset="1" fill="none"/>
<path d="M658.2 1463.2H565.8" stroke="#000" stroke-width="2.6" stroke-dasharray="16.3 14.4" fill="none"/>
<path d="M562.3 1501.6H661.7" stroke="#000" stroke-width="2.5" stroke-dasharray="7.3 6.5" stroke-dashoffset="1" fill="none"/>
<path d="M740.3 1184.7 740.4 1187.2 740.4 1189.7 740.5 1192.2 740.6 1194.7 740.7 1197.2 740.7 1199.7 740.8 1202.2 740.8 1204.7 740.8 1207.2 740.9 1209.7 740.9 1212.2 740.9 1214.7 740.9 1217.2 740.9 1219.7 740.9 1222.2 740.9 1224.7 740.9 1227.2 740.9 1229.7 740.9 1232.2 740.9 1234.7 740.9 1237.2 740.9 1239.7 740.9 1242.2 740.9 1244.7 740.9 1247.2 740.9 1249.7 740.9 1252.2 740.9 1254.7 741 1257.2 741 1259.7 741.1 1262.2 741.2 1264.7 741.4 1267.2 741.6 1269.7 741.8 1272.2 742 1274.7 742.2 1277.2 742.5 1279.7 742.7 1282.2 743 1284.7 743.3 1287.2 743.6 1289.7 743.9 1292.2 744.2 1294.7 744.5 1297.2 744.9 1299.7 745.2 1302.2 745.5 1304.7 745.9 1307.2 746.2 1309.7 746.6 1312.2 747 1314.7 747.3 1317.2 747.7 1319.7 748.1 1322.2 748.5 1324.7 748.9 1327.2 749.3 1329.7 749.8 1332.2 750.2 1334.7 750.6 1337.2 751.1 1339.7 751.5 1342.2 752 1344.7 752.5 1347.2 753 1349.7 753.4 1352.2 753.9 1354.7 754.5 1357.2 755 1359.7 755.5 1362.2 756.1 1364.7 756.6 1367.2 757.2 1369.7 757.8 1372.2 758.4 1374.7 759 1377.2 759.6 1379.7 760.3 1382.2 760.9 1384.7 761.5 1387.2 762.1 1389.7 762.7 1392.2 763.4 1394.7 764 1397.2 764.7 1399.7 765.4 1402.2 766.1 1404.7 766.9 1407.2 767.6 1409.7 768.4 1412.2 769.2 1414.7 770.1 1417.2 771 1419.7 771.9 1422.2 772.8 1424.7 773.7 1427.2 774.6 1429.7 775.6 1432.2 776.6 1434.7 777.7 1437.2 778.7 1439.7 779.8 1442.2 780.9 1444.7 782 1447.2 783 1449.7 784.1 1452.2 785.1 1454.7 786.1 1457.2 787 1459.7 787.8 1462.2 788.6 1464.7 789.2 1467.2 789.7 1469.7 790.2 1472.2 790.5 1474.7 790.7 1477.2 790.9 1479.7 790.9 1482.2 790.8 1484.7 790.5 1487.2 790 1489.7 789.4 1492.2 788.7 1494.7 787.7 1497.2 786.6 1499.7 785.4 1502.2 784 1504.7 782.4 1507.2 780.6 1509.7 778.6 1512.2 776.4 1514.7 774.1 1517.2 771.7 1519.7 769.2 1522.2 766.8 1524.7 764.5 1527.2 762.2 1529.7 760 1532.2 757.9 1534.7 756 1537.2 754.1 1539.7 752.4 1542.2 750.9 1544.7 749.5 1547.2 748.1 1549.7 746.9 1552.2 745.8 1554.7 744.7 1557.2 743.8 1559.7 742.9 1562.2 742.2 1564.7 741.6 1567.2 741.1 1569.7 740.7 1572.2 740.6 1572.7 739.9 1572.7 739.8 1572.2 739.5 1569.7 738.9 1567.2 738.3 1564.7 737.6 1562.2 736.7 1559.7 735.8 1557.2 734.7 1554.7 733.6 1552.2 732.4 1549.7 731 1547.2 729.6 1544.7 728.1 1542.2 726.4 1539.7 724.5 1537.2 722.6 1534.7 720.5 1532.2 718.3 1529.7 716 1527.2 713.7 1524.7 711.3 1522.2 708.8 1519.7 706.4 1517.2 704.1 1514.7 701.9 1512.2 699.9 1509.7 698.1 1507.2 696.5 1504.7 695.1 1502.2 693.9 1499.7 692.8 1497.2 691.8 1494.7 691.1 1492.2 690.5 1489.7 690 1487.2 689.8 1484.7 689.6 1482.2 689.6 1479.7 689.8 1477.2 690 1474.7 690.4 1472.2 690.8 1469.7 691.3 1467.2 691.9 1464.7 692.7 1462.2 693.5 1459.7 694.4 1457.2 695.4 1454.7 696.4 1452.2 697.5 1449.7 698.6 1447.2 699.7 1444.7 700.7 1442.2 701.8 1439.7 702.9 1437.2 703.9 1434.7 704.9 1432.2 705.9 1429.7 706.8 1427.2 707.7 1424.7 708.7 1422.2 709.5 1419.7 710.4 1417.2 711.3 1414.7 712.1 1412.2 712.9 1409.7 713.7 1407.2 714.4 1404.7 715.1 1402.2 715.8 1399.7 716.5 1397.2 717.1 1394.7 717.8 1392.2 718.4 1389.7 719 1387.2 719.6 1384.7 720.3 1382.2 720.9 1379.7 721.5 1377.2 722.1 1374.7 722.7 1372.2 723.3 1369.7 723.9 1367.2 724.4 1364.7 725 1362.2 725.5 1359.7 726.1 1357.2 726.6 1354.7 727.1 1352.2 727.6 1349.7 728 1347.2 728.5 1344.7 729 1342.2 729.4 1339.7 729.9 1337.2 730.3 1334.7 730.7 1332.2 731.2 1329.7 731.6 1327.2 732 1324.7 732.4 1322.2 732.8 1319.7 733.2 1317.2 733.6 1314.7 733.9 1312.2 734.3 1309.7 734.6 1307.2 735 1304.7 735.3 1302.2 735.6 1299.7 736 1297.2 736.3 1294.7 736.6 1292.2 736.9 1289.7 737.2 1287.2 737.5 1284.7 737.8 1282.2 738.1 1279.7 738.3 1277.2 738.5 1274.7 738.7 1272.2 738.9 1269.7 739.1 1267.2 739.3 1264.7 739.4 1262.2 739.5 1259.7 739.6 1257.2 739.6 1254.7 739.6 1252.2 739.6 1249.7 739.6 1247.2 739.6 1244.7 739.6 1242.2 739.6 1239.7 739.6 1237.2 739.6 1234.7 739.6 1232.2 739.6 1229.7 739.6 1227.2 739.6 1224.7 739.6 1222.2 739.6 1219.7 739.6 1217.2 739.6 1214.7 739.6 1212.2 739.6 1209.7 739.7 1207.2 739.7 1204.7 739.7 1202.2 739.8 1199.7 739.8 1197.2 739.9 1194.7 740 1192.2 740.1 1189.7 740.2 1187.2 740.3 1184.7Z" fill="#80d0ff" stroke="#000000" stroke-width="2.5" stroke-linejoin="round"/>
<path d="M713.9 1406.7H766.6" stroke="#000" stroke-width="2.5" stroke-dasharray="7.3 6.5" stroke-dashoffset="1" fill="none"/>
<path d="M786.4 1457.7H694.1" stroke="#000" stroke-width="2.6" stroke-dasharray="16.3 14.4" fill="none"/>
<path d="M690.5 1491.7H790" stroke="#000" stroke-width="2.5" stroke-dasharray="7.3 6.5" stroke-dashoffset="1" fill="none"/>
<path d="M868.3 1113 868.5 1115.5 868.6 1118 868.7 1120.5 868.7 1123 868.8 1125.5 868.9 1128 869 1130.5 869 1133 869.1 1135.5 869.1 1138 869.2 1140.5 869.2 1143 869.3 1145.5 869.3 1148 869.3 1150.5 869.3 1153 869.3 1155.5 869.4 1158 869.4 1160.5 869.4 1163 869.4 1165.5 869.4 1168 869.4 1170.5 869.4 1173 869.4 1175.5 869.4 1178 869.4 1180.5 869.4 1183 869.4 1185.5 869.5 1188 869.5 1190.5 869.5 1193 869.5 1195.5 869.5 1198 869.5 1200.5 869.6 1203 869.6 1205.5 869.6 1208 869.7 1210.5 869.7 1213 869.8 1215.5 869.9 1218 869.9 1220.5 870 1223 870.2 1225.5 870.3 1228 870.4 1230.5 870.5 1233 870.7 1235.5 870.8 1238 871 1240.5 871.2 1243 871.4 1245.5 871.7 1248 871.9 1250.5 872.2 1253 872.5 1255.5 872.8 1258 873.1 1260.5 873.4 1263 873.8 1265.5 874.1 1268 874.4 1270.5 874.7 1273 875.1 1275.5 875.4 1278 875.8 1280.5 876.2 1283 876.6 1285.5 876.9 1288 877.3 1290.5 877.7 1293 878.1 1295.5 878.5 1298 879 1300.5 879.4 1303 879.8 1305.5 880.3 1308 880.8 1310.5 881.2 1313 881.7 1315.5 882.2 1318 882.6 1320.5 883.1 1323 883.5 1325.5 883.9 1328 884.3 1330.5 884.6 1333 885 1335.5 885.3 1338 885.6 1340.5 885.9 1343 886.1 1345.5 886.4 1348 886.7 1350.5 887 1353 887.3 1355.5 887.6 1358 888 1360.5 888.4 1363 888.8 1365.5 889.3 1368 889.8 1370.5 890.3 1373 890.9 1375.5 891.5 1378 892.1 1380.5 892.8 1383 893.6 1385.5 894.4 1388 895.2 1390.5 896.2 1393 897.3 1395.5 898.4 1398 899.6 1400.5 900.9 1403 902.2 1405.5 903.5 1408 904.8 1410.5 906.1 1413 907.3 1415.5 908.5 1418 909.7 1420.5 910.9 1423 911.9 1425.5 912.9 1428 913.8 1430.5 914.6 1433 915.4 1435.5 916.1 1438 916.7 1440.5 917.2 1443 917.7 1445.5 918.1 1448 918.5 1450.5 918.8 1453 919 1455.5 919.2 1458 919.3 1460.5 919.4 1463 919.4 1465.5 919.2 1468 919 1470.5 918.7 1473 918.3 1475.5 917.8 1478 917.3 1480.5 916.6 1483 915.9 1485.5 915 1488 914.1 1490.5 913.1 1493 912 1495.5 910.8 1498 909.4 1500.5 907.9 1503 906.3 1505.5 904.6 1508 902.8 1510.5 900.9 1513 899 1515.5 897.1 1518 895.1 1520.5 893.1 1523 891.2 1525.5 889.2 1528 887.2 1530.5 885.2 1533 883.3 1535.5 881.5 1538 879.9 1540.5 878.3 1543 877 1545.5 875.7 1548 874.6 1550.5 873.6 1553 872.7 1555.5 871.9 1558 871.1 1560.5 870.4 1563 869.8 1565.5 869.2 1568 868.7 1570.5 868.3 1572.7 868.3 1572.7 868 1570.5 867.5 1568 866.9 1565.5 866.3 1563 865.6 1560.5 864.8 1558 864 1555.5 863.1 1553 862 1550.5 860.9 1548 859.7 1545.5 858.3 1543 856.8 1540.5 855.2 1538 853.3 1535.5 851.4 1533 849.5 1530.5 847.5 1528 845.5 1525.5 843.6 1523 841.6 1520.5 839.6 1518 837.7 1515.5 835.8 1513 833.9 1510.5 832.1 1508 830.4 1505.5 828.7 1503 827.3 1500.5 825.9 1498 824.7 1495.5 823.6 1493 822.6 1490.5 821.7 1488 820.8 1485.5 820.1 1483 819.4 1480.5 818.8 1478 818.4 1475.5 818 1473 817.7 1470.5 817.5 1468 817.3 1465.5 817.3 1463 817.3 1460.5 817.5 1458 817.7 1455.5 817.9 1453 818.2 1450.5 818.6 1448 819 1445.5 819.5 1443 820 1440.5 820.6 1438 821.3 1435.5 822 1433 822.9 1430.5 823.8 1428 824.8 1425.5 825.8 1423 827 1420.5 828.1 1418 829.4 1415.5 830.6 1413 831.9 1410.5 833.2 1408 834.5 1405.5 835.8 1403 837.1 1400.5 838.3 1398 839.4 1395.5 840.5 1393 841.4 1390.5 842.3 1388 843.1 1385.5 843.9 1383 844.6 1380.5 845.2 1378 845.8 1375.5 846.4 1373 846.9 1370.5 847.4 1368 847.9 1365.5 848.3 1363 848.7 1360.5 849 1358 849.4 1355.5 849.7 1353 850 1350.5 850.3 1348 850.5 1345.5 850.8 1343 851.1 1340.5 851.4 1338 851.7 1335.5 852 1333 852.4 1330.5 852.8 1328 853.2 1325.5 853.6 1323 854.1 1320.5 854.5 1318 855 1315.5 855.5 1313 855.9 1310.5 856.4 1308 856.8 1305.5 857.3 1303 857.7 1300.5 858.1 1298 858.6 1295.5 859 1293 859.4 1290.5 859.7 1288 860.1 1285.5 860.5 1283 860.9 1280.5 861.2 1278 861.6 1275.5 861.9 1273 862.3 1270.5 862.6 1268 862.9 1265.5 863.3 1263 863.6 1260.5 863.9 1258 864.2 1255.5 864.5 1253 864.8 1250.5 865 1248 865.2 1245.5 865.5 1243 865.7 1240.5 865.8 1238 866 1235.5 866.1 1233 866.3 1230.5 866.4 1228 866.5 1225.5 866.6 1223 866.7 1220.5 866.8 1218 866.9 1215.5 867 1213 867 1210.5 867.1 1208 867.1 1205.5 867.1 1203 867.2 1200.5 867.2 1198 867.2 1195.5 867.2 1193 867.2 1190.5 867.2 1188 867.2 1185.5 867.2 1183 867.3 1180.5 867.3 1178 867.3 1175.5 867.3 1173 867.3 1170.5 867.3 1168 867.3 1165.5 867.3 1163 867.3 1160.5 867.3 1158 867.3 1155.5 867.4 1153 867.4 1150.5 867.4 1148 867.4 1145.5 867.5 1143 867.5 1140.5 867.5 1138 867.6 1135.5 867.7 1133 867.7 1130.5 867.8 1128 867.9 1125.5 867.9 1123 868 1120.5 868.1 1118 868.2 1115.5 868.3 1113Z" fill="#669999" stroke="#800080" stroke-width="2.3" stroke-linejoin="round"/>
<path d="M840.8 1392.8H895.9" stroke="#000" stroke-width="2.5" stroke-dasharray="7.3 6.5" stroke-dashoffset="1" fill="none"/>
<path d="M918.2 1447.8H818.5" stroke="#000" stroke-width="2.6" stroke-dasharray="16.3 14.4" fill="none"/>
<path d="M819.8 1483H916.9" stroke="#000" stroke-width="2.5" stroke-dasharray="7.3 6.5" stroke-dashoffset="1" fill="none"/>
<path d="M996.6 1123.2 996.7 1125.7 996.8 1128.2 996.9 1130.7 997 1133.2 997 1135.7 997.1 1138.2 997.2 1140.7 997.2 1143.2 997.2 1145.7 997.2 1148.2 997.2 1150.7 997.2 1153.2 997.2 1155.7 997.2 1158.2 997.2 1160.7 997.2 1163.2 997.2 1165.7 997.2 1168.2 997.2 1170.7 997.2 1173.2 997.2 1175.7 997.2 1178.2 997.2 1180.7 997.2 1183.2 997.2 1185.7 997.2 1188.2 997.2 1190.7 997.2 1193.2 997.2 1195.7 997.2 1198.2 997.2 1200.7 997.2 1203.2 997.2 1205.7 997.2 1208.2 997.2 1210.7 997.2 1213.2 997.2 1215.7 997.2 1218.2 997.2 1220.7 997.2 1223.2 997.2 1225.7 997.2 1228.2 997.2 1230.7 997.2 1233.2 997.2 1235.7 997.2 1238.2 997.2 1240.7 997.2 1243.2 997.2 1245.7 997.2 1248.2 997.2 1250.7 997.2 1253.2 997.2 1255.7 997.2 1258.2 997.2 1260.7 997.2 1263.2 997.2 1265.7 997.2 1268.2 997.2 1270.7 997.2 1273.2 997.2 1275.7 997.2 1278.2 997.2 1280.7 997.2 1283.2 997.2 1285.7 997.2 1288.2 997.2 1290.7 997.2 1293.2 997.2 1295.7 997.2 1298.2 997.2 1300.7 997.2 1303.2 997.2 1305.7 997.2 1308.2 997.2 1310.7 997.2 1313.2 997.3 1315.7 997.3 1318.2 997.3 1320.7 997.3 1323.2 997.3 1325.7 997.4 1328.2 997.5 1330.7 997.6 1333.2 997.8 1335.7 998 1338.2 998.3 1340.7 998.6 1343.2 998.9 1345.7 999.4 1348.2 999.9 1350.7 1000.5 1353.2 1001.1 1355.7 1001.7 1358.2 1002.4 1360.7 1003 1363.2 1003.6 1365.7 1004.1 1368.2 1004.6 1370.7 1005.1 1373.2 1005.6 1375.7 1006.1 1378.2 1006.6 1380.7 1007.1 1383.2 1007.6 1385.7 1008.1 1388.2 1008.6 1390.7 1009.2 1393.2 1009.8 1395.7 1010.5 1398.2 1011.1 1400.7 1011.9 1403.2 1012.6 1405.7 1013.5 1408.2 1014.3 1410.7 1015.2 1413.2 1016.1 1415.7 1017.1 1418.2 1018 1420.7 1019 1423.2 1019.9 1425.7 1020.7 1428.2 1021.6 1430.7 1022.5 1433.2 1023.3 1435.7 1024.1 1438.2 1025 1440.7 1025.8 1443.2 1026.6 1445.7 1027.4 1448.2 1028.2 1450.7 1028.9 1453.2 1029.6 1455.7 1030.3 1458.2 1031 1460.7 1031.6 1463.2 1032.3 1465.7 1033 1468.2 1033.7 1470.7 1034.5 1473.2 1035.4 1475.7 1036.3 1478.2 1037.2 1480.7 1038.3 1483.2 1039.4 1485.7 1040.6 1488.2 1041.8 1490.7 1043 1493.2 1044.2 1495.7 1045.2 1498.2 1046.1 1500.7 1046.7 1503.2 1047.2 1505.7 1047.3 1508.2 1047.1 1510.7 1046.6 1513.2 1045.7 1515.7 1044.4 1518.2 1042.8 1520.7 1040.8 1523.2 1038.4 1525.7 1035.8 1528.2 1032.9 1530.7 1029.8 1533.2 1026.6 1535.7 1023.3 1538.2 1020.1 1540.7 1016.9 1543.2 1013.9 1545.7 1011.1 1548.2 1008.6 1550.7 1006.2 1553.2 1004.2 1555.7 1002.4 1558.2 1000.9 1560.7 999.5 1563.2 998.5 1565.7 997.7 1568.2 997 1570.7 996.6 1572.7 996.6 1572.7 996.2 1570.7 995.6 1568.2 994.8 1565.7 993.7 1563.2 992.4 1560.7 990.8 1558.2 989.1 1555.7 987 1553.2 984.7 1550.7 982.1 1548.2 979.3 1545.7 976.3 1543.2 973.2 1540.7 969.9 1538.2 966.7 1535.7 963.5 1533.2 960.4 1530.7 957.5 1528.2 954.8 1525.7 952.5 1523.2 950.5 1520.7 948.9 1518.2 947.6 1515.7 946.7 1513.2 946.1 1510.7 945.9 1508.2 946.1 1505.7 946.5 1503.2 947.2 1500.7 948.1 1498.2 949.1 1495.7 950.2 1493.2 951.5 1490.7 952.7 1488.2 953.9 1485.7 955 1483.2 956 1480.7 957 1478.2 957.9 1475.7 958.7 1473.2 959.5 1470.7 960.3 1468.2 961 1465.7 961.6 1463.2 962.3 1460.7 963 1458.2 963.6 1455.7 964.4 1453.2 965.1 1450.7 965.9 1448.2 966.7 1445.7 967.5 1443.2 968.3 1440.7 969.1 1438.2 970 1435.7 970.8 1433.2 971.6 1430.7 972.5 1428.2 973.4 1425.7 974.3 1423.2 975.2 1420.7 976.2 1418.2 977.1 1415.7 978.1 1413.2 979 1410.7 979.8 1408.2 980.6 1405.7 981.4 1403.2 982.1 1400.7 982.8 1398.2 983.5 1395.7 984.1 1393.2 984.6 1390.7 985.2 1388.2 985.7 1385.7 986.2 1383.2 986.7 1380.7 987.2 1378.2 987.7 1375.7 988.2 1373.2 988.7 1370.7 989.2 1368.2 989.7 1365.7 990.3 1363.2 990.9 1360.7 991.5 1358.2 992.2 1355.7 992.8 1353.2 993.4 1350.7 993.9 1348.2 994.3 1345.7 994.7 1343.2 995 1340.7 995.3 1338.2 995.5 1335.7 995.6 1333.2 995.8 1330.7 995.9 1328.2 995.9 1325.7 996 1323.2 996 1320.7 996 1318.2 996 1315.7 996 1313.2 996 1310.7 996 1308.2 996 1305.7 996 1303.2 996 1300.7 996 1298.2 996 1295.7 996 1293.2 996 1290.7 996 1288.2 996 1285.7 996 1283.2 996 1280.7 996 1278.2 996 1275.7 996 1273.2 996 1270.7 996 1268.2 996 1265.7 996 1263.2 996 1260.7 996 1258.2 996 1255.7 996 1253.2 996 1250.7 996 1248.2 996 1245.7 996 1243.2 996 1240.7 996 1238.2 996 1235.7 996 1233.2 996 1230.7 996 1228.2 996 1225.7 996 1223.2 996 1220.7 996 1218.2 996 1215.7 996 1213.2 996 1210.7 996 1208.2 996 1205.7 996 1203.2 996 1200.7 996 1198.2 996 1195.7 996 1193.2 996 1190.7 996 1188.2 996 1185.7 996 1183.2 996 1180.7 996 1178.2 996 1175.7 996 1173.2 996 1170.7 996 1168.2 996 1165.7 996 1163.2 996 1160.7 996 1158.2 996 1155.7 996 1153.2 996 1150.7 996 1148.2 996 1145.7 996.1 1143.2 996.1 1140.7 996.2 1138.2 996.2 1135.7 996.3 1133.2 996.4 1130.7 996.5 1128.2 996.5 1125.7 996.6 1123.2Z" fill="#735410" stroke="#000000" stroke-width="2.5" stroke-linejoin="round"/>
<path d="M967.6 1442.8H1025.7" stroke="#000" stroke-width="2.5" stroke-dasharray="7.3 6.5" stroke-dashoffset="1" fill="none"/>
<path d="M1037.7 1482.4H955.6" stroke="#000" stroke-width="2.6" stroke-dasharray="16.3 14.4" fill="none"/>
<path d="M945 1509.6H1048.2" stroke="#000" stroke-width="2.5" stroke-dasharray="7.3 6.5" stroke-dashoffset="1" fill="none"/>
<path d="M1124.7 1262.9 1124.9 1265.4 1125 1267.9 1125.2 1270.4 1125.3 1272.9 1125.4 1275.4 1125.5 1277.9 1125.5 1280.4 1125.6 1282.9 1125.6 1285.4 1125.6 1287.9 1125.6 1290.4 1125.6 1292.9 1125.6 1295.4 1125.6 1297.9 1125.6 1300.4 1125.6 1302.9 1125.6 1305.4 1125.6 1307.9 1125.6 1310.4 1125.6 1312.9 1125.7 1315.4 1125.7 1317.9 1125.7 1320.4 1125.8 1322.9 1125.9 1325.4 1126.1 1327.9 1126.5 1330.4 1126.9 1332.9 1127.4 1335.4 1128 1337.9 1128.6 1340.4 1129.3 1342.9 1129.9 1345.4 1130.6 1347.9 1131.3 1350.4 1131.9 1352.9 1132.5 1355.4 1133.2 1357.9 1133.9 1360.4 1134.6 1362.9 1135.3 1365.4 1136.1 1367.9 1136.9 1370.4 1137.7 1372.9 1138.6 1375.4 1139.5 1377.9 1140.5 1380.4 1141.5 1382.9 1142.7 1385.4 1143.9 1387.9 1145.1 1390.4 1146.4 1392.9 1147.8 1395.4 1149.2 1397.9 1150.7 1400.4 1152.2 1402.9 1153.7 1405.4 1155.3 1407.9 1156.8 1410.4 1158.3 1412.9 1159.7 1415.4 1161 1417.9 1162.2 1420.4 1163.1 1422.9 1163.9 1425.4 1164.5 1427.9 1165 1430.4 1165.4 1432.9 1165.7 1435.4 1166 1437.9 1166.2 1440.4 1166.5 1442.9 1166.7 1445.4 1167 1447.9 1167.3 1450.4 1167.7 1452.9 1168.2 1455.4 1168.7 1457.9 1169.4 1460.4 1170.1 1462.9 1170.8 1465.4 1171.6 1467.9 1172.4 1470.4 1173.1 1472.9 1173.7 1475.4 1174.3 1477.9 1174.8 1480.4 1175.1 1482.9 1175.3 1485.4 1175.3 1487.9 1175.2 1490.4 1175 1492.9 1174.6 1495.4 1174.1 1497.9 1173.5 1500.4 1172.6 1502.9 1171.5 1505.4 1170.2 1507.9 1168.7 1510.4 1166.9 1512.9 1164.9 1515.4 1162.6 1517.9 1160.2 1520.4 1157.6 1522.9 1154.9 1525.4 1152.1 1527.9 1149.4 1530.4 1146.8 1532.9 1144.3 1535.4 1141.8 1537.9 1139.6 1540.4 1137.4 1542.9 1135.5 1545.4 1133.7 1547.9 1132.2 1550.4 1130.8 1552.9 1129.6 1555.4 1128.5 1557.9 1127.5 1560.4 1126.7 1562.9 1126 1565.4 1125.5 1567.9 1125 1570.4 1124.7 1572.7 1124.7 1572.7 1124.4 1570.4 1124 1567.9 1123.4 1565.4 1122.7 1562.9 1121.9 1560.4 1120.9 1557.9 1119.9 1555.4 1118.7 1552.9 1117.3 1550.4 1115.7 1547.9 1113.9 1545.4 1112 1542.9 1109.9 1540.4 1107.6 1537.9 1105.2 1535.4 1102.7 1532.9 1100 1530.4 1097.3 1527.9 1094.5 1525.4 1091.8 1522.9 1089.2 1520.4 1086.8 1517.9 1084.6 1515.4 1082.6 1512.9 1080.8 1510.4 1079.2 1507.9 1077.9 1505.4 1076.8 1502.9 1076 1500.4 1075.3 1497.9 1074.8 1495.4 1074.5 1492.9 1074.2 1490.4 1074.1 1487.9 1074.1 1485.4 1074.3 1482.9 1074.7 1480.4 1075.1 1477.9 1075.7 1475.4 1076.4 1472.9 1077.1 1470.4 1077.8 1467.9 1078.6 1465.4 1079.3 1462.9 1080.1 1460.4 1080.7 1457.9 1081.3 1455.4 1081.7 1452.9 1082.1 1450.4 1082.4 1447.9 1082.7 1445.4 1082.9 1442.9 1083.2 1440.4 1083.5 1437.9 1083.8 1435.4 1084.1 1432.9 1084.5 1430.4 1084.9 1427.9 1085.5 1425.4 1086.3 1422.9 1087.2 1420.4 1088.4 1417.9 1089.7 1415.4 1091.1 1412.9 1092.6 1410.4 1094.2 1407.9 1095.7 1405.4 1097.3 1402.9 1098.8 1400.4 1100.2 1397.9 1101.6 1395.4 1103 1392.9 1104.3 1390.4 1105.6 1387.9 1106.8 1385.4 1107.9 1382.9 1108.9 1380.4 1109.9 1377.9 1110.9 1375.4 1111.8 1372.9 1112.6 1370.4 1113.4 1367.9 1114.1 1365.4 1114.9 1362.9 1115.6 1360.4 1116.2 1357.9 1116.9 1355.4 1117.5 1352.9 1118.2 1350.4 1118.8 1347.9 1119.5 1345.4 1120.2 1342.9 1120.8 1340.4 1121.5 1337.9 1122.1 1335.4 1122.6 1332.9 1123 1330.4 1123.3 1327.9 1123.5 1325.4 1123.7 1322.9 1123.7 1320.4 1123.8 1317.9 1123.8 1315.4 1123.8 1312.9 1123.8 1310.4 1123.8 1307.9 1123.8 1305.4 1123.8 1302.9 1123.8 1300.4 1123.8 1297.9 1123.8 1295.4 1123.8 1292.9 1123.8 1290.4 1123.8 1287.9 1123.8 1285.4 1123.9 1282.9 1123.9 1280.4 1124 1277.9 1124.1 1275.4 1124.2 1272.9 1124.3 1270.4 1124.4 1267.9 1124.6 1265.4 1124.7 1262.9Z" fill="#000080" stroke="#000000" stroke-width="2.5" stroke-linejoin="round"/>
<path d="M1085.1 1425.2H1164.3" stroke="#000" stroke-width="2.5" stroke-dasharray="7.3 6.5" stroke-dashoffset="1" fill="none"/>
<path d="M1171.9 1468.5H1077.5" stroke="#000" stroke-width="2.6" stroke-dasharray="16.3 14.4" fill="none"/>
<path d="M1075 1497.9H1174.5" stroke="#000" stroke-width="2.5" stroke-dasharray="7.3 6.5" stroke-dashoffset="1" fill="none"/>
<path d="M1253.3 1236.7 1253.3 1239.2 1253.4 1241.7 1253.5 1244.2 1253.5 1246.7 1253.6 1249.2 1253.6 1251.7 1253.7 1254.2 1253.7 1256.7 1253.8 1259.2 1253.8 1261.7 1253.8 1264.2 1253.9 1266.7 1253.9 1269.2 1253.9 1271.7 1253.9 1274.2 1253.9 1276.7 1253.9 1279.2 1253.9 1281.7 1253.9 1284.2 1253.9 1286.7 1253.9 1289.2 1253.9 1291.7 1253.9 1294.2 1253.9 1296.7 1253.9 1299.2 1253.9 1301.7 1253.9 1304.2 1253.9 1306.7 1253.9 1309.2 1253.9 1311.7 1253.9 1314.2 1253.9 1316.7 1253.9 1319.2 1253.9 1321.7 1253.9 1324.2 1253.9 1326.7 1253.9 1329.2 1253.9 1331.7 1253.9 1334.2 1253.9 1336.7 1253.9 1339.2 1253.9 1341.7 1253.9 1344.2 1253.9 1346.7 1253.9 1349.2 1253.9 1351.7 1253.9 1354.2 1253.9 1356.7 1253.9 1359.2 1253.9 1361.7 1253.9 1364.2 1253.9 1366.7 1253.9 1369.2 1253.9 1371.7 1253.9 1374.2 1253.9 1376.7 1253.9 1379.2 1253.9 1381.7 1253.9 1384.2 1253.9 1386.7 1253.9 1389.2 1253.9 1391.7 1253.9 1394.2 1253.9 1396.7 1253.9 1399.2 1253.9 1401.7 1253.9 1404.2 1253.9 1406.7 1253.9 1409.2 1253.9 1411.7 1253.9 1414.2 1254 1416.7 1254 1419.2 1254.1 1421.7 1254.3 1424.2 1254.5 1426.7 1254.8 1429.2 1255.1 1431.7 1255.4 1434.2 1255.8 1436.7 1256.2 1439.2 1256.6 1441.7 1257.1 1444.2 1257.7 1446.7 1258.3 1449.2 1259.1 1451.7 1259.9 1454.2 1260.9 1456.7 1262 1459.2 1263.2 1461.7 1264.5 1464.2 1265.9 1466.7 1267.3 1469.2 1268.7 1471.7 1270.2 1474.2 1271.8 1476.7 1273.6 1479.2 1275.6 1481.7 1278 1484.2 1280.7 1486.7 1283.6 1489.2 1286.8 1491.7 1290 1494.2 1293.2 1496.7 1296.1 1499.2 1298.7 1501.7 1300.7 1504.2 1302.1 1506.7 1303 1509.2 1303.3 1511.7 1302.9 1514.2 1302 1516.7 1300.5 1519.2 1298.5 1521.7 1296 1524.2 1292.9 1526.7 1289.3 1529.2 1285.3 1531.7 1280.8 1534.2 1276.1 1536.7 1271.6 1539.2 1267.3 1541.7 1263.6 1544.2 1260.6 1546.7 1258 1549.2 1256.3 1551.7 1255.1 1554.2 1254.3 1556.7 1253.5 1559.2 1253.3 1559.7 1253.3 1559.7 1253 1559.2 1252.3 1556.7 1251.4 1554.2 1250.3 1551.7 1248.5 1549.2 1245.9 1546.7 1242.9 1544.2 1239.2 1541.7 1235 1539.2 1230.4 1536.7 1225.7 1534.2 1221.3 1531.7 1217.2 1529.2 1213.6 1526.7 1210.6 1524.2 1208 1521.7 1206 1519.2 1204.6 1516.7 1203.6 1514.2 1203.3 1511.7 1203.5 1509.2 1204.4 1506.7 1205.9 1504.2 1207.9 1501.7 1210.4 1499.2 1213.3 1496.7 1216.5 1494.2 1219.7 1491.7 1222.9 1489.2 1225.8 1486.7 1228.5 1484.2 1230.9 1481.7 1233 1479.2 1234.8 1476.7 1236.4 1474.2 1237.9 1471.7 1239.3 1469.2 1240.7 1466.7 1242 1464.2 1243.3 1461.7 1244.5 1459.2 1245.6 1456.7 1246.6 1454.2 1247.5 1451.7 1248.2 1449.2 1248.9 1446.7 1249.4 1444.2 1249.9 1441.7 1250.4 1439.2 1250.8 1436.7 1251.1 1434.2 1251.5 1431.7 1251.8 1429.2 1252 1426.7 1252.2 1424.2 1252.4 1421.7 1252.5 1419.2 1252.6 1416.7 1252.6 1414.2 1252.6 1411.7 1252.6 1409.2 1252.7 1406.7 1252.7 1404.2 1252.7 1401.7 1252.7 1399.2 1252.7 1396.7 1252.7 1394.2 1252.7 1391.7 1252.7 1389.2 1252.7 1386.7 1252.7 1384.2 1252.7 1381.7 1252.7 1379.2 1252.7 1376.7 1252.7 1374.2 1252.7 1371.7 1252.7 1369.2 1252.7 1366.7 1252.7 1364.2 1252.7 1361.7 1252.7 1359.2 1252.7 1356.7 1252.7 1354.2 1252.7 1351.7 1252.7 1349.2 1252.7 1346.7 1252.7 1344.2 1252.7 1341.7 1252.7 1339.2 1252.7 1336.7 1252.7 1334.2 1252.7 1331.7 1252.7 1329.2 1252.7 1326.7 1252.7 1324.2 1252.7 1321.7 1252.7 1319.2 1252.7 1316.7 1252.7 1314.2 1252.7 1311.7 1252.7 1309.2 1252.7 1306.7 1252.7 1304.2 1252.7 1301.7 1252.7 1299.2 1252.7 1296.7 1252.7 1294.2 1252.7 1291.7 1252.7 1289.2 1252.7 1286.7 1252.7 1284.2 1252.7 1281.7 1252.7 1279.2 1252.7 1276.7 1252.7 1274.2 1252.7 1271.7 1252.7 1269.2 1252.7 1266.7 1252.7 1264.2 1252.7 1261.7 1252.8 1259.2 1252.8 1256.7 1252.9 1254.2 1252.9 1251.7 1253 1249.2 1253 1246.7 1253.1 1244.2 1253.1 1241.7 1253.2 1239.2 1253.3 1236.7Z" fill="#70a0a0" stroke="#000000" stroke-width="2.5" stroke-linejoin="round"/>
<path d="M1220.3 1491.7H1286.3" stroke="#000" stroke-width="2.5" stroke-dasharray="7.3 6.5" stroke-dashoffset="1" fill="none"/>
<path d="M1303.3 1506.2H1203.2" stroke="#000" stroke-width="2.6" stroke-dasharray="16.3 14.4" fill="none"/>
<path d="M1205.5 1519.8H1301.1" stroke="#000" stroke-width="2.5" stroke-dasharray="7.3 6.5" stroke-dashoffset="1" fill="none"/>
<path d="M162.8 879.9V1633.9" stroke="#000" stroke-width="3.8" fill="none"/>
<path d="M146.9 1632H1319" stroke="#000" stroke-width="3.8" fill="none"/>
<text x="136" y="1641.7" font-size="34" text-anchor="end" textLength="67" lengthAdjust="spacingAndGlyphs">−0.5</text>
<text x="136" y="1541.7" font-size="34" text-anchor="end" textLength="47.5" lengthAdjust="spacingAndGlyphs">0.0</text>
<text x="136" y="1441.7" font-size="34" text-anchor="end" textLength="47.5" lengthAdjust="spacingAndGlyphs">0.5</text>
<text x="136" y="1341.7" font-size="34" text-anchor="end" textLength="47.5" lengthAdjust="spacingAndGlyphs">1.0</text>
<text x="136" y="1241.7" font-size="34" text-anchor="end" textLength="47.5" lengthAdjust="spacingAndGlyphs">1.5</text>
<text x="136" y="1141.7" font-size="34" text-anchor="end" textLength="47.5" lengthAdjust="spacingAndGlyphs">2.0</text>
<text x="136" y="1041.7" font-size="34" text-anchor="end" textLength="47.5" lengthAdjust="spacingAndGlyphs">2.5</text>
<text x="136" y="941.7" font-size="34" text-anchor="end" textLength="47.5" lengthAdjust="spacingAndGlyphs">3.0</text>
<path d="M155 1582H162.8M146.9 1532H162.8M155 1482H162.8M146.9 1432H162.8M155 1382H162.8M146.9 1332H162.8M155 1282H162.8M146.9 1232H162.8M155 1182H162.8M146.9 1132H162.8M155 1082H162.8M146.9 1032H162.8M155 982H162.8M146.9 932H162.8M155 882H162.8" stroke="#000" stroke-width="3.4" fill="none"/>
<path d="M227.4 1632V1645.7M355.6 1632V1645.7M483.8 1632V1645.7M612 1632V1645.7M740.2 1632V1645.7M868.4 1632V1645.7M996.6 1632V1645.7M1124.8 1632V1645.7M1253 1632V1645.7" stroke="#000" stroke-width="3.0" fill="none"/>
<text x="227.7" y="1673.3" font-size="21.5" text-anchor="middle" textLength="79.8" lengthAdjust="spacingAndGlyphs" font-weight="bold">LSTNet</text>
<text x="355.6" y="1673.3" font-size="21.5" text-anchor="middle" textLength="120.7" lengthAdjust="spacingAndGlyphs" font-weight="bold">GCN-LSTM</text>
<text x="484" y="1673.3" font-size="21.5" text-anchor="middle" textLength="50.2" lengthAdjust="spacingAndGlyphs" font-weight="bold">GCN</text>
<text x="611.3" y="1673.3" font-size="21.5" text-anchor="middle" textLength="49.7" lengthAdjust="spacingAndGlyphs" font-weight="bold">GRU</text>
<text x="739.2" y="1673.3" font-size="21.5" text-anchor="middle" textLength="71.9" lengthAdjust="spacingAndGlyphs" font-weight="bold">BiGRU</text>
<text x="868.5" y="1673.3" font-size="21.5" text-anchor="middle" textLength="84.9" lengthAdjust="spacingAndGlyphs" font-weight="bold">BiLSTM</text>
<text x="996.7" y="1673.3" font-size="21.5" text-anchor="middle" textLength="64.1" lengthAdjust="spacingAndGlyphs" font-weight="bold">DGDL</text>
<text x="1124.5" y="1673.3" font-size="21.5" text-anchor="middle" textLength="114.6" lengthAdjust="spacingAndGlyphs" font-weight="bold">TPA-LSTM</text>
<text x="1253.1" y="1673.3" font-size="21.5" text-anchor="middle" textLength="105.8" lengthAdjust="spacingAndGlyphs" font-weight="bold">DG-DGSF</text>
<path d="M245 2025.7 245 2028.2 245 2030.7 245 2033.2 245 2035.7 245 2038.2 245 2040.7 245.1 2043.2 245.1 2045.7 245.1 2048.2 245.2 2050.7 245.2 2053.2 245.2 2055.7 245.3 2058.2 245.3 2060.7 245.4 2063.2 245.4 2065.7 245.5 2068.2 245.6 2070.7 245.7 2073.2 245.8 2075.7 245.9 2078.2 246.1 2080.7 246.3 2083.2 246.5 2085.7 246.7 2088.2 247 2090.7 247.3 2093.2 247.5 2095.7 247.8 2098.2 248 2100.7 248.3 2103.2 248.5 2105.7 248.8 2108.2 249 2110.7 249.3 2113.2 249.5 2115.7 249.7 2118.2 250 2120.7 250.2 2123.2 250.5 2125.7 250.8 2128.2 251 2130.7 251.3 2133.2 251.6 2135.7 251.9 2138.2 252.2 2140.7 252.5 2143.2 252.8 2145.7 253.1 2148.2 253.5 2150.7 253.8 2153.2 254.2 2155.7 254.6 2158.2 255 2160.7 255.5 2163.2 255.9 2165.7 256.5 2168.2 257 2170.7 257.7 2173.2 258.4 2175.7 259.1 2178.2 260 2180.7 260.9 2183.2 262 2185.7 263.1 2188.2 264.3 2190.7 265.6 2193.2 267 2195.7 268.4 2198.2 269.8 2200.7 271.3 2203.2 272.8 2205.7 274.3 2208.2 275.8 2210.7 277.4 2213.2 278.9 2215.7 280.5 2218.2 281.9 2220.7 283.4 2223.2 284.8 2225.7 286 2228.2 287.3 2230.7 288.4 2233.2 289.4 2235.7 290.3 2238.2 291.1 2240.7 291.8 2243.2 292.3 2245.7 292.8 2248.2 293.2 2250.7 293.5 2253.2 293.8 2255.7 294.1 2258.2 294.3 2260.7 294.5 2263.2 294.6 2265.7 294.8 2268.2 294.9 2270.7 294.9 2273.2 294.9 2275.7 294.8 2278.2 294.7 2280.7 294.5 2283.2 294.3 2285.7 294.1 2288.2 293.9 2290.7 293.6 2293.2 293.4 2295.7 293.1 2298.2 292.7 2300.7 292.4 2303.2 292.1 2305.7 291.8 2308.2 291.4 2310.7 291.1 2313.2 290.7 2315.7 290.3 2318.2 289.9 2320.7 289.5 2323.2 289.1 2325.7 288.7 2328.2 288.4 2330.7 288 2333.2 287.6 2335.7 287.3 2338.2 287 2340.7 286.7 2343.2 286.5 2345.7 286.3 2348.2 286.2 2350.7 286.1 2353.2 286.1 2355.7 286.1 2358.2 286.1 2360.7 286.1 2363.2 286.2 2365.7 286.2 2368.2 286.4 2370.7 286.5 2373.2 286.7 2375.7 287 2378.2 287.2 2380.7 287.5 2383.2 287.7 2385.7 288 2388.2 288.2 2390.7 288.5 2393.2 288.6 2395.7 288.8 2398.2 288.9 2400.7 289 2403.2 289 2405.7 289.1 2408.2 289 2410.7 289 2413.2 288.8 2415.7 288.6 2418.2 288.2 2420.7 287.8 2423.2 287.3 2425.7 286.7 2428.2 285.9 2430.7 285.1 2433.2 284.1 2435.7 283 2438.2 281.9 2440.7 280.7 2443.2 279.4 2445.7 278.1 2448.2 276.8 2450.7 275.5 2453.2 274.1 2455.7 272.6 2458.2 271.1 2460.7 269.5 2463.2 267.9 2465.7 266.3 2468.2 264.7 2470.7 263.2 2473.2 261.6 2475.7 260.1 2478.2 258.7 2480.7 257.3 2483.2 256 2485.7 254.8 2488.2 253.7 2490.7 252.7 2493.2 251.8 2495.7 250.9 2498.2 250.1 2500.7 249.2 2503.2 248.3 2505.7 247.4 2508.2 246.6 2510.7 246.2 2511.7 243.7 2511.7 243.3 2510.7 242.5 2508.2 241.6 2505.7 240.7 2503.2 239.9 2500.7 239 2498.2 238.2 2495.7 237.2 2493.2 236.2 2490.7 235.1 2488.2 233.9 2485.7 232.6 2483.2 231.2 2480.7 229.8 2478.2 228.3 2475.7 226.8 2473.2 225.2 2470.7 223.6 2468.2 222 2465.7 220.4 2463.2 218.8 2460.7 217.3 2458.2 215.8 2455.7 214.4 2453.2 213.1 2450.7 211.8 2448.2 210.5 2445.7 209.2 2443.2 208 2440.7 206.9 2438.2 205.8 2435.7 204.8 2433.2 204 2430.7 203.2 2428.2 202.6 2425.7 202.1 2423.2 201.7 2420.7 201.4 2418.2 201.1 2415.7 201 2413.2 200.9 2410.7 200.9 2408.2 200.9 2405.7 200.9 2403.2 201 2400.7 201.1 2398.2 201.3 2395.7 201.5 2393.2 201.7 2390.7 201.9 2388.2 202.2 2385.7 202.4 2383.2 202.7 2380.7 202.9 2378.2 203.2 2375.7 203.4 2373.2 203.5 2370.7 203.7 2368.2 203.8 2365.7 203.8 2363.2 203.8 2360.7 203.8 2358.2 203.8 2355.7 203.8 2353.2 203.7 2350.7 203.6 2348.2 203.4 2345.7 203.2 2343.2 202.9 2340.7 202.6 2338.2 202.3 2335.7 201.9 2333.2 201.6 2330.7 201.2 2328.2 200.8 2325.7 200.4 2323.2 200 2320.7 199.6 2318.2 199.2 2315.7 198.9 2313.2 198.5 2310.7 198.2 2308.2 197.8 2305.7 197.5 2303.2 197.2 2300.7 196.9 2298.2 196.6 2295.7 196.3 2293.2 196 2290.7 195.8 2288.2 195.6 2285.7 195.4 2283.2 195.2 2280.7 195.1 2278.2 195 2275.7 195 2273.2 195.1 2270.7 195.1 2268.2 195.3 2265.7 195.4 2263.2 195.6 2260.7 195.9 2258.2 196.1 2255.7 196.4 2253.2 196.7 2250.7 197.1 2248.2 197.6 2245.7 198.2 2243.2 198.8 2240.7 199.6 2238.2 200.5 2235.7 201.5 2233.2 202.7 2230.7 203.9 2228.2 205.2 2225.7 206.5 2223.2 208 2220.7 209.5 2218.2 211 2215.7 212.5 2213.2 214.1 2210.7 215.6 2208.2 217.1 2205.7 218.6 2203.2 220.1 2200.7 221.5 2198.2 222.9 2195.7 224.3 2193.2 225.6 2190.7 226.8 2188.2 227.9 2185.7 229 2183.2 229.9 2180.7 230.8 2178.2 231.6 2175.7 232.3 2173.2 232.9 2170.7 233.5 2168.2 234 2165.7 234.5 2163.2 234.9 2160.7 235.3 2158.2 235.7 2155.7 236.1 2153.2 236.4 2150.7 236.8 2148.2 237.1 2145.7 237.4 2143.2 237.7 2140.7 238 2138.2 238.3 2135.7 238.6 2133.2 238.9 2130.7 239.1 2128.2 239.4 2125.7 239.7 2123.2 239.9 2120.7 240.2 2118.2 240.4 2115.7 240.7 2113.2 240.9 2110.7 241.1 2108.2 241.4 2105.7 241.6 2103.2 241.9 2100.7 242.1 2098.2 242.4 2095.7 242.7 2093.2 242.9 2090.7 243.2 2088.2 243.4 2085.7 243.6 2083.2 243.8 2080.7 244 2078.2 244.1 2075.7 244.3 2073.2 244.4 2070.7 244.4 2068.2 244.5 2065.7 244.5 2063.2 244.6 2060.7 244.6 2058.2 244.7 2055.7 244.7 2053.2 244.8 2050.7 244.8 2048.2 244.8 2045.7 244.9 2043.2 244.9 2040.7 244.9 2038.2 244.9 2035.7 244.9 2033.2 244.9 2030.7 245 2028.2 245 2025.7Z" fill="#0000ff" stroke="#000000" stroke-width="2.5" stroke-linejoin="round"/>
<path d="M196.3 2253.6H293.7" stroke="#000" stroke-width="2.5" stroke-dasharray="7.3 6.5" stroke-dashoffset="1" fill="none"/>
<path d="M290.5 2316.9H199.4" stroke="#000" stroke-width="2.6" stroke-dasharray="16.3 14.4" fill="none"/>
<path d="M201.3 2393.3H288.6" stroke="#000" stroke-width="2.5" stroke-dasharray="7.3 6.5" stroke-dashoffset="1" fill="none"/>
<path d="M371.4 2058.8 371.4 2061.3 371.4 2063.8 371.5 2066.3 371.5 2068.8 371.6 2071.3 371.6 2073.8 371.7 2076.3 371.7 2078.8 371.8 2081.3 371.9 2083.8 372 2086.3 372.1 2088.8 372.3 2091.3 372.5 2093.8 372.7 2096.3 373 2098.8 373.3 2101.3 373.6 2103.8 373.9 2106.3 374.3 2108.8 374.6 2111.3 375 2113.8 375.3 2116.3 375.7 2118.8 376 2121.3 376.3 2123.8 376.6 2126.3 376.9 2128.8 377.2 2131.3 377.6 2133.8 377.9 2136.3 378.2 2138.8 378.5 2141.3 378.9 2143.8 379.2 2146.3 379.6 2148.8 380 2151.3 380.3 2153.8 380.7 2156.3 381.1 2158.8 381.5 2161.3 381.9 2163.8 382.4 2166.3 382.8 2168.8 383.3 2171.3 383.8 2173.8 384.4 2176.3 384.9 2178.8 385.6 2181.3 386.3 2183.8 387.1 2186.3 387.9 2188.8 388.7 2191.3 389.7 2193.8 390.6 2196.3 391.5 2198.8 392.5 2201.3 393.5 2203.8 394.5 2206.3 395.5 2208.8 396.6 2211.3 397.6 2213.8 398.6 2216.3 399.6 2218.8 400.6 2221.3 401.6 2223.8 402.5 2226.3 403.4 2228.8 404.2 2231.3 405.1 2233.8 405.8 2236.3 406.5 2238.8 407.1 2241.3 407.6 2243.8 408 2246.3 408.4 2248.8 408.7 2251.3 409 2253.8 409.2 2256.3 409.3 2258.8 409.4 2261.3 409.5 2263.8 409.6 2266.3 409.6 2268.8 409.7 2271.3 409.8 2273.8 409.9 2276.3 410 2278.8 410.1 2281.3 410.3 2283.8 410.5 2286.3 410.7 2288.8 410.9 2291.3 411.1 2293.8 411.3 2296.3 411.6 2298.8 411.9 2301.3 412.2 2303.8 412.6 2306.3 413 2308.8 413.5 2311.3 414 2313.8 414.5 2316.3 415 2318.8 415.6 2321.3 416.1 2323.8 416.6 2326.3 417.1 2328.8 417.6 2331.3 418 2333.8 418.5 2336.3 418.9 2338.8 419.3 2341.3 419.6 2343.8 420 2346.3 420.3 2348.8 420.5 2351.3 420.7 2353.8 420.9 2356.3 421.1 2358.8 421.2 2361.3 421.3 2363.8 421.3 2366.3 421.3 2368.8 421.2 2371.3 421.1 2373.8 420.9 2376.3 420.7 2378.8 420.5 2381.3 420.1 2383.8 419.8 2386.3 419.3 2388.8 418.8 2391.3 418.2 2393.8 417.6 2396.3 416.9 2398.8 416.2 2401.3 415.4 2403.8 414.5 2406.3 413.6 2408.8 412.7 2411.3 411.7 2413.8 410.6 2416.3 409.5 2418.8 408.4 2421.3 407.2 2423.8 406 2426.3 404.8 2428.8 403.6 2431.3 402.3 2433.8 401.1 2436.3 399.7 2438.8 398.4 2441.3 396.9 2443.8 395.5 2446.3 394 2448.8 392.5 2451.3 391.1 2453.8 389.7 2456.3 388.3 2458.8 387.1 2461.3 385.9 2463.8 384.7 2466.3 383.7 2468.8 382.6 2471.3 381.6 2473.8 380.6 2476.3 379.6 2478.8 378.7 2481.3 377.8 2483.8 377 2486.3 376.3 2488.8 375.7 2491.3 375.1 2493.8 374.6 2496.3 374.1 2498.8 373.7 2501.3 373.3 2503.8 372.9 2506.3 372.5 2508.8 372.1 2511.3 372 2511.7 370.8 2511.7 370.7 2511.3 370.3 2508.8 369.9 2506.3 369.6 2503.8 369.1 2501.3 368.7 2498.8 368.2 2496.3 367.7 2493.8 367.1 2491.3 366.5 2488.8 365.8 2486.3 365 2483.8 364.1 2481.3 363.2 2478.8 362.2 2476.3 361.2 2473.8 360.2 2471.3 359.1 2468.8 358.1 2466.3 356.9 2463.8 355.7 2461.3 354.5 2458.8 353.1 2456.3 351.7 2453.8 350.3 2451.3 348.8 2448.8 347.3 2446.3 345.9 2443.8 344.4 2441.3 343.1 2438.8 341.8 2436.3 340.5 2433.8 339.2 2431.3 338 2428.8 336.8 2426.3 335.6 2423.8 334.4 2421.3 333.3 2418.8 332.2 2416.3 331.2 2413.8 330.1 2411.3 329.2 2408.8 328.3 2406.3 327.4 2403.8 326.6 2401.3 325.9 2398.8 325.2 2396.3 324.6 2393.8 324 2391.3 323.5 2388.8 323 2386.3 322.7 2383.8 322.3 2381.3 322.1 2378.8 321.9 2376.3 321.7 2373.8 321.6 2371.3 321.5 2368.8 321.5 2366.3 321.5 2363.8 321.6 2361.3 321.7 2358.8 321.9 2356.3 322.1 2353.8 322.3 2351.3 322.6 2348.8 322.8 2346.3 323.2 2343.8 323.5 2341.3 323.9 2338.8 324.3 2336.3 324.8 2333.8 325.2 2331.3 325.7 2328.8 326.2 2326.3 326.7 2323.8 327.2 2321.3 327.8 2318.8 328.3 2316.3 328.8 2313.8 329.3 2311.3 329.8 2308.8 330.2 2306.3 330.6 2303.8 330.9 2301.3 331.2 2298.8 331.5 2296.3 331.7 2293.8 331.9 2291.3 332.1 2288.8 332.3 2286.3 332.5 2283.8 332.7 2281.3 332.8 2278.8 332.9 2276.3 333 2273.8 333.1 2271.3 333.2 2268.8 333.2 2266.3 333.3 2263.8 333.4 2261.3 333.5 2258.8 333.6 2256.3 333.8 2253.8 334.1 2251.3 334.4 2248.8 334.8 2246.3 335.2 2243.8 335.7 2241.3 336.3 2238.8 337 2236.3 337.8 2233.8 338.6 2231.3 339.4 2228.8 340.3 2226.3 341.2 2223.8 342.2 2221.3 343.2 2218.8 344.2 2216.3 345.2 2213.8 346.3 2211.3 347.3 2208.8 348.3 2206.3 349.3 2203.8 350.3 2201.3 351.3 2198.8 352.2 2196.3 353.1 2193.8 354.1 2191.3 354.9 2188.8 355.7 2186.3 356.5 2183.8 357.2 2181.3 357.9 2178.8 358.5 2176.3 359 2173.8 359.5 2171.3 360 2168.8 360.4 2166.3 360.9 2163.8 361.3 2161.3 361.7 2158.8 362.1 2156.3 362.5 2153.8 362.8 2151.3 363.2 2148.8 363.6 2146.3 363.9 2143.8 364.3 2141.3 364.6 2138.8 364.9 2136.3 365.2 2133.8 365.6 2131.3 365.9 2128.8 366.2 2126.3 366.5 2123.8 366.8 2121.3 367.1 2118.8 367.5 2116.3 367.8 2113.8 368.2 2111.3 368.5 2108.8 368.9 2106.3 369.2 2103.8 369.5 2101.3 369.8 2098.8 370.1 2096.3 370.3 2093.8 370.5 2091.3 370.7 2088.8 370.8 2086.3 370.9 2083.8 371 2081.3 371.1 2078.8 371.1 2076.3 371.2 2073.8 371.3 2071.3 371.3 2068.8 371.3 2066.3 371.4 2063.8 371.4 2061.3 371.4 2058.8Z" fill="#ffff80" stroke="#000000" stroke-width="2.5" stroke-linejoin="round"/>
<path d="M333.4 2258.2H409.4" stroke="#000" stroke-width="2.5" stroke-dasharray="7.3 6.5" stroke-dashoffset="1" fill="none"/>
<path d="M419.2 2340.7H323.6" stroke="#000" stroke-width="2.6" stroke-dasharray="16.3 14.4" fill="none"/>
<path d="M322.6 2384.9H420.2" stroke="#000" stroke-width="2.5" stroke-dasharray="7.3 6.5" stroke-dashoffset="1" fill="none"/>
<path d="M497.4 2029.5 497.4 2032 497.4 2034.5 497.4 2037 497.5 2039.5 497.5 2042 497.5 2044.5 497.6 2047 497.6 2049.5 497.7 2052 497.8 2054.5 497.8 2057 497.9 2059.5 498 2062 498.1 2064.5 498.1 2067 498.2 2069.5 498.3 2072 498.4 2074.5 498.5 2077 498.6 2079.5 498.8 2082 498.9 2084.5 499.1 2087 499.2 2089.5 499.4 2092 499.6 2094.5 499.7 2097 499.9 2099.5 500 2102 500.2 2104.5 500.4 2107 500.5 2109.5 500.7 2112 500.8 2114.5 500.9 2117 501.1 2119.5 501.2 2122 501.4 2124.5 501.5 2127 501.7 2129.5 501.9 2132 502 2134.5 502.2 2137 502.3 2139.5 502.5 2142 502.7 2144.5 502.8 2147 503 2149.5 503.2 2152 503.4 2154.5 503.6 2157 503.7 2159.5 503.9 2162 504.1 2164.5 504.3 2167 504.5 2169.5 504.7 2172 504.9 2174.5 505.2 2177 505.5 2179.5 505.9 2182 506.4 2184.5 506.9 2187 507.5 2189.5 508.1 2192 508.8 2194.5 509.5 2197 510.2 2199.5 510.8 2202 511.5 2204.5 512.2 2207 512.9 2209.5 513.6 2212 514.3 2214.5 515 2217 515.8 2219.5 516.5 2222 517.3 2224.5 518.1 2227 518.9 2229.5 519.7 2232 520.5 2234.5 521.3 2237 522.2 2239.5 523 2242 523.8 2244.5 524.6 2247 525.4 2249.5 526.1 2252 526.9 2254.5 527.6 2257 528.3 2259.5 528.9 2262 529.5 2264.5 530 2267 530.5 2269.5 531 2272 531.5 2274.5 532 2277 532.5 2279.5 532.9 2282 533.4 2284.5 533.8 2287 534.2 2289.5 534.6 2292 535 2294.5 535.4 2297 535.8 2299.5 536.2 2302 536.6 2304.5 536.9 2307 537.3 2309.5 537.6 2312 537.9 2314.5 538.3 2317 538.7 2319.5 539 2322 539.4 2324.5 539.8 2327 540.2 2329.5 540.6 2332 541 2334.5 541.5 2337 541.9 2339.5 542.4 2342 542.8 2344.5 543.3 2347 543.8 2349.5 544.3 2352 544.8 2354.5 545.3 2357 545.7 2359.5 546.1 2362 546.5 2364.5 546.8 2367 547 2369.5 547.2 2372 547.3 2374.5 547.3 2377 547.2 2379.5 547.1 2382 547 2384.5 546.8 2387 546.5 2389.5 546.1 2392 545.6 2394.5 545 2397 544.2 2399.5 543.3 2402 542.4 2404.5 541.3 2407 540.2 2409.5 539.1 2412 538 2414.5 536.8 2417 535.6 2419.5 534.3 2422 533 2424.5 531.7 2427 530.3 2429.5 528.8 2432 527.4 2434.5 525.9 2437 524.4 2439.5 522.8 2442 521.3 2444.5 519.8 2447 518.2 2449.5 516.7 2452 515.3 2454.5 513.9 2457 512.5 2459.5 511.3 2462 510.1 2464.5 508.9 2467 507.9 2469.5 506.9 2472 505.9 2474.5 505 2477 504.2 2479.5 503.4 2482 502.6 2484.5 502 2487 501.4 2489.5 500.8 2492 500.3 2494.5 499.9 2497 499.5 2499.5 499.1 2502 498.8 2504.5 498.5 2507 498.2 2509.5 498 2511.7 496.8 2511.7 496.5 2509.5 496.3 2507 496 2504.5 495.6 2502 495.3 2499.5 494.9 2497 494.4 2494.5 493.9 2492 493.4 2489.5 492.8 2487 492.1 2484.5 491.4 2482 490.6 2479.5 489.8 2477 488.9 2474.5 487.9 2472 486.9 2469.5 485.8 2467 484.7 2464.5 483.5 2462 482.2 2459.5 480.9 2457 479.5 2454.5 478 2452 476.5 2449.5 475 2447 473.5 2444.5 471.9 2442 470.4 2439.5 468.9 2437 467.4 2434.5 465.9 2432 464.5 2429.5 463.1 2427 461.7 2424.5 460.4 2422 459.2 2419.5 458 2417 456.8 2414.5 455.6 2412 454.5 2409.5 453.5 2407 452.4 2404.5 451.4 2402 450.6 2399.5 449.8 2397 449.2 2394.5 448.7 2392 448.3 2389.5 448 2387 447.8 2384.5 447.6 2382 447.5 2379.5 447.5 2377 447.5 2374.5 447.6 2372 447.8 2369.5 448 2367 448.3 2364.5 448.7 2362 449.1 2359.5 449.5 2357 450 2354.5 450.5 2352 451 2349.5 451.5 2347 451.9 2344.5 452.4 2342 452.9 2339.5 453.3 2337 453.7 2334.5 454.2 2332 454.6 2329.5 455 2327 455.4 2324.5 455.7 2322 456.1 2319.5 456.5 2317 456.8 2314.5 457.2 2312 457.5 2309.5 457.9 2307 458.2 2304.5 458.6 2302 458.9 2299.5 459.3 2297 459.7 2294.5 460.1 2292 460.6 2289.5 461 2287 461.4 2284.5 461.9 2282 462.3 2279.5 462.8 2277 463.2 2274.5 463.7 2272 464.2 2269.5 464.8 2267 465.3 2264.5 465.9 2262 466.5 2259.5 467.2 2257 467.9 2254.5 468.6 2252 469.4 2249.5 470.2 2247 471 2244.5 471.8 2242 472.6 2239.5 473.4 2237 474.2 2234.5 475.1 2232 475.9 2229.5 476.7 2227 477.5 2224.5 478.2 2222 479 2219.5 479.7 2217 480.5 2214.5 481.2 2212 481.9 2209.5 482.6 2207 483.2 2204.5 483.9 2202 484.6 2199.5 485.3 2197 486 2194.5 486.6 2192 487.3 2189.5 487.9 2187 488.4 2184.5 488.8 2182 489.2 2179.5 489.6 2177 489.8 2174.5 490.1 2172 490.3 2169.5 490.5 2167 490.7 2164.5 490.8 2162 491 2159.5 491.2 2157 491.4 2154.5 491.6 2152 491.7 2149.5 491.9 2147 492.1 2144.5 492.3 2142 492.4 2139.5 492.6 2137 492.7 2134.5 492.9 2132 493.1 2129.5 493.2 2127 493.4 2124.5 493.5 2122 493.7 2119.5 493.8 2117 494 2114.5 494.1 2112 494.3 2109.5 494.4 2107 494.6 2104.5 494.7 2102 494.9 2099.5 495 2097 495.2 2094.5 495.4 2092 495.5 2089.5 495.7 2087 495.9 2084.5 496 2082 496.1 2079.5 496.3 2077 496.4 2074.5 496.5 2072 496.6 2069.5 496.6 2067 496.7 2064.5 496.8 2062 496.9 2059.5 496.9 2057 497 2054.5 497.1 2052 497.1 2049.5 497.2 2047 497.2 2044.5 497.3 2042 497.3 2039.5 497.3 2037 497.4 2034.5 497.4 2032 497.4 2029.5Z" fill="#ff0000" stroke="#000000" stroke-width="2.5" stroke-linejoin="round"/>
<path d="M462.5 2278.3H532.3" stroke="#000" stroke-width="2.5" stroke-dasharray="7.3 6.5" stroke-dashoffset="1" fill="none"/>
<path d="M542.8 2344.8H451.9" stroke="#000" stroke-width="2.6" stroke-dasharray="16.3 14.4" fill="none"/>
<path d="M448.2 2391.1H546.5" stroke="#000" stroke-width="2.5" stroke-dasharray="7.3 6.5" stroke-dashoffset="1" fill="none"/>
<path d="M624.3 1873.2 624.4 1875.7 624.5 1878.2 624.5 1880.7 624.6 1883.2 624.7 1885.7 624.7 1888.2 624.8 1890.7 624.8 1893.2 624.9 1895.7 625 1898.2 625 1900.7 625.1 1903.2 625.1 1905.7 625.2 1908.2 625.2 1910.7 625.3 1913.2 625.3 1915.7 625.4 1918.2 625.4 1920.7 625.4 1923.2 625.5 1925.7 625.5 1928.2 625.6 1930.7 625.6 1933.2 625.6 1935.7 625.7 1938.2 625.7 1940.7 625.7 1943.2 625.8 1945.7 625.8 1948.2 625.8 1950.7 625.9 1953.2 625.9 1955.7 625.9 1958.2 626 1960.7 626 1963.2 626.1 1965.7 626.1 1968.2 626.1 1970.7 626.2 1973.2 626.2 1975.7 626.3 1978.2 626.3 1980.7 626.3 1983.2 626.4 1985.7 626.4 1988.2 626.5 1990.7 626.5 1993.2 626.5 1995.7 626.6 1998.2 626.6 2000.7 626.7 2003.2 626.7 2005.7 626.8 2008.2 626.8 2010.7 626.9 2013.2 626.9 2015.7 627 2018.2 627 2020.7 627.1 2023.2 627.1 2025.7 627.2 2028.2 627.3 2030.7 627.3 2033.2 627.4 2035.7 627.5 2038.2 627.6 2040.7 627.7 2043.2 627.8 2045.7 627.9 2048.2 628 2050.7 628.1 2053.2 628.3 2055.7 628.4 2058.2 628.6 2060.7 628.7 2063.2 628.9 2065.7 629.1 2068.2 629.3 2070.7 629.5 2073.2 629.7 2075.7 629.9 2078.2 630.2 2080.7 630.5 2083.2 630.7 2085.7 631 2088.2 631.3 2090.7 631.5 2093.2 631.8 2095.7 632.1 2098.2 632.3 2100.7 632.6 2103.2 632.8 2105.7 633.1 2108.2 633.3 2110.7 633.6 2113.2 633.9 2115.7 634.1 2118.2 634.3 2120.7 634.6 2123.2 634.8 2125.7 635.1 2128.2 635.3 2130.7 635.5 2133.2 635.7 2135.7 635.9 2138.2 636.1 2140.7 636.3 2143.2 636.5 2145.7 636.7 2148.2 636.9 2150.7 637.1 2153.2 637.3 2155.7 637.5 2158.2 637.7 2160.7 637.9 2163.2 638.1 2165.7 638.3 2168.2 638.5 2170.7 638.8 2173.2 639 2175.7 639.2 2178.2 639.4 2180.7 639.7 2183.2 639.9 2185.7 640.1 2188.2 640.4 2190.7 640.6 2193.2 640.9 2195.7 641.1 2198.2 641.4 2200.7 641.7 2203.2 641.9 2205.7 642.2 2208.2 642.5 2210.7 642.8 2213.2 643.1 2215.7 643.4 2218.2 643.7 2220.7 644 2223.2 644.3 2225.7 644.6 2228.2 645 2230.7 645.3 2233.2 645.7 2235.7 646.1 2238.2 646.4 2240.7 646.8 2243.2 647.2 2245.7 647.7 2248.2 648.1 2250.7 648.6 2253.2 649.1 2255.7 649.6 2258.2 650.2 2260.7 650.8 2263.2 651.4 2265.7 652 2268.2 652.7 2270.7 653.3 2273.2 654 2275.7 654.7 2278.2 655.4 2280.7 656.1 2283.2 656.8 2285.7 657.5 2288.2 658.2 2290.7 658.9 2293.2 659.7 2295.7 660.4 2298.2 661.2 2300.7 661.9 2303.2 662.6 2305.7 663.4 2308.2 664.1 2310.7 664.7 2313.2 665.4 2315.7 666 2318.2 666.7 2320.7 667.3 2323.2 667.9 2325.7 668.5 2328.2 669.1 2330.7 669.6 2333.2 670.2 2335.7 670.6 2338.2 671.1 2340.7 671.5 2343.2 671.9 2345.7 672.2 2348.2 672.5 2350.7 672.8 2353.2 673 2355.7 673.2 2358.2 673.4 2360.7 673.5 2363.2 673.6 2365.7 673.6 2368.2 673.6 2370.7 673.4 2373.2 673.2 2375.7 672.9 2378.2 672.5 2380.7 672 2383.2 671.5 2385.7 670.9 2388.2 670.2 2390.7 669.5 2393.2 668.7 2395.7 667.7 2398.2 666.8 2400.7 665.7 2403.2 664.6 2405.7 663.4 2408.2 662.3 2410.7 661 2413.2 659.8 2415.7 658.5 2418.2 657.3 2420.7 656 2423.2 654.7 2425.7 653.5 2428.2 652.2 2430.7 651 2433.2 649.7 2435.7 648.5 2438.2 647.2 2440.7 645.9 2443.2 644.7 2445.7 643.4 2448.2 642.2 2450.7 641.1 2453.2 640 2455.7 638.9 2458.2 637.8 2460.7 636.8 2463.2 635.9 2465.7 635 2468.2 634.1 2470.7 633.3 2473.2 632.5 2475.7 631.7 2478.2 631 2480.7 630.4 2483.2 629.7 2485.7 629.2 2488.2 628.6 2490.7 628.1 2493.2 627.6 2495.7 627.2 2498.2 626.8 2500.7 626.4 2503.2 626 2505.7 625.7 2508.2 625.4 2510.7 625.3 2511.8 622.2 2511.8 622 2510.7 621.7 2508.2 621.4 2505.7 621 2503.2 620.7 2500.7 620.2 2498.2 619.8 2495.7 619.3 2493.2 618.8 2490.7 618.3 2488.2 617.7 2485.7 617.1 2483.2 616.4 2480.7 615.7 2478.2 614.9 2475.7 614.2 2473.2 613.3 2470.7 612.5 2468.2 611.5 2465.7 610.6 2463.2 609.6 2460.7 608.6 2458.2 607.5 2455.7 606.4 2453.2 605.2 2450.7 604 2448.2 602.8 2445.7 601.5 2443.2 600.2 2440.7 599 2438.2 597.7 2435.7 596.5 2433.2 595.2 2430.7 594 2428.2 592.7 2425.7 591.4 2423.2 590.2 2420.7 588.9 2418.2 587.6 2415.7 586.4 2413.2 585.2 2410.7 584 2408.2 582.8 2405.7 581.7 2403.2 580.7 2400.7 579.7 2398.2 578.8 2395.7 578 2393.2 577.2 2390.7 576.5 2388.2 575.9 2385.7 575.4 2383.2 574.9 2380.7 574.5 2378.2 574.2 2375.7 574 2373.2 573.9 2370.7 573.8 2368.2 573.8 2365.7 573.9 2363.2 574.1 2360.7 574.2 2358.2 574.4 2355.7 574.6 2353.2 574.9 2350.7 575.2 2348.2 575.6 2345.7 575.9 2343.2 576.3 2340.7 576.8 2338.2 577.3 2335.7 577.8 2333.2 578.4 2330.7 578.9 2328.2 579.5 2325.7 580.1 2323.2 580.8 2320.7 581.4 2318.2 582.1 2315.7 582.7 2313.2 583.4 2310.7 584.1 2308.2 584.8 2305.7 585.5 2303.2 586.3 2300.7 587 2298.2 587.8 2295.7 588.5 2293.2 589.2 2290.7 590 2288.2 590.7 2285.7 591.4 2283.2 592.1 2280.7 592.8 2278.2 593.4 2275.7 594.1 2273.2 594.8 2270.7 595.4 2268.2 596 2265.7 596.7 2263.2 597.2 2260.7 597.8 2258.2 598.3 2255.7 598.8 2253.2 599.3 2250.7 599.8 2248.2 600.2 2245.7 600.6 2243.2 601 2240.7 601.4 2238.2 601.8 2235.7 602.1 2233.2 602.5 2230.7 602.8 2228.2 603.1 2225.7 603.4 2223.2 603.8 2220.7 604.1 2218.2 604.4 2215.7 604.7 2213.2 604.9 2210.7 605.2 2208.2 605.5 2205.7 605.8 2203.2 606 2200.7 606.3 2198.2 606.5 2195.7 606.8 2193.2 607 2190.7 607.3 2188.2 607.5 2185.7 607.8 2183.2 608 2180.7 608.2 2178.2 608.4 2175.7 608.7 2173.2 608.9 2170.7 609.1 2168.2 609.3 2165.7 609.5 2163.2 609.7 2160.7 610 2158.2 610.2 2155.7 610.4 2153.2 610.6 2150.7 610.8 2148.2 610.9 2145.7 611.1 2143.2 611.3 2140.7 611.5 2138.2 611.7 2135.7 611.9 2133.2 612.2 2130.7 612.4 2128.2 612.6 2125.7 612.8 2123.2 613.1 2120.7 613.3 2118.2 613.6 2115.7 613.8 2113.2 614.1 2110.7 614.4 2108.2 614.6 2105.7 614.9 2103.2 615.1 2100.7 615.4 2098.2 615.6 2095.7 615.9 2093.2 616.2 2090.7 616.5 2088.2 616.7 2085.7 617 2083.2 617.2 2080.7 617.5 2078.2 617.7 2075.7 618 2073.2 618.2 2070.7 618.4 2068.2 618.5 2065.7 618.7 2063.2 618.9 2060.7 619 2058.2 619.2 2055.7 619.3 2053.2 619.4 2050.7 619.5 2048.2 619.6 2045.7 619.8 2043.2 619.8 2040.7 619.9 2038.2 620 2035.7 620.1 2033.2 620.2 2030.7 620.2 2028.2 620.3 2025.7 620.4 2023.2 620.4 2020.7 620.5 2018.2 620.5 2015.7 620.6 2013.2 620.6 2010.7 620.7 2008.2 620.7 2005.7 620.8 2003.2 620.8 2000.7 620.9 1998.2 620.9 1995.7 620.9 1993.2 621 1990.7 621 1988.2 621.1 1985.7 621.1 1983.2 621.1 1980.7 621.2 1978.2 621.2 1975.7 621.3 1973.2 621.3 1970.7 621.3 1968.2 621.4 1965.7 621.4 1963.2 621.5 1960.7 621.5 1958.2 621.5 1955.7 621.6 1953.2 621.6 1950.7 621.6 1948.2 621.7 1945.7 621.7 1943.2 621.7 1940.7 621.8 1938.2 621.8 1935.7 621.8 1933.2 621.9 1930.7 621.9 1928.2 622 1925.7 622 1923.2 622 1920.7 622.1 1918.2 622.1 1915.7 622.2 1913.2 622.2 1910.7 622.3 1908.2 622.3 1905.7 622.4 1903.2 622.4 1900.7 622.5 1898.2 622.5 1895.7 622.6 1893.2 622.7 1890.7 622.7 1888.2 622.8 1885.7 622.8 1883.2 622.9 1880.7 623 1878.2 623 1875.7 623.1 1873.2Z" fill="#ffc0c0" stroke="#000000" stroke-width="2.5" stroke-linejoin="round"/>
<path d="M598.6 2254.9H648.9" stroke="#000" stroke-width="2.5" stroke-dasharray="7.3 6.5" stroke-dashoffset="1" fill="none"/>
<path d="M670 2334.7H577.4" stroke="#000" stroke-width="2.6" stroke-dasharray="16.3 14.4" fill="none"/>
<path d="M575.1 2382.6H672.3" stroke="#000" stroke-width="2.5" stroke-dasharray="7.3 6.5" stroke-dashoffset="1" fill="none"/>
<path d="M749.9 1990.6 749.9 1993.1 749.9 1995.6 749.9 1998.1 749.9 2000.6 749.9 2003.1 749.9 2005.6 749.9 2008.1 749.9 2010.6 750 2013.1 750 2015.6 750 2018.1 750 2020.6 750.1 2023.1 750.1 2025.6 750.1 2028.1 750.2 2030.6 750.2 2033.1 750.3 2035.6 750.4 2038.1 750.5 2040.6 750.6 2043.1 750.8 2045.6 751 2048.1 751.2 2050.6 751.5 2053.1 751.7 2055.6 752 2058.1 752.2 2060.6 752.5 2063.1 752.8 2065.6 753 2068.1 753.3 2070.6 753.5 2073.1 753.8 2075.6 754.1 2078.1 754.4 2080.6 754.6 2083.1 754.9 2085.6 755.2 2088.1 755.5 2090.6 755.8 2093.1 756.1 2095.6 756.3 2098.1 756.6 2100.6 756.9 2103.1 757.2 2105.6 757.5 2108.1 757.8 2110.6 758.1 2113.1 758.4 2115.6 758.7 2118.1 759 2120.6 759.3 2123.1 759.6 2125.6 759.9 2128.1 760.2 2130.6 760.5 2133.1 760.8 2135.6 761.1 2138.1 761.4 2140.6 761.7 2143.1 762 2145.6 762.3 2148.1 762.6 2150.6 762.9 2153.1 763.2 2155.6 763.5 2158.1 763.9 2160.6 764.2 2163.1 764.6 2165.6 764.9 2168.1 765.3 2170.6 765.6 2173.1 766 2175.6 766.3 2178.1 766.5 2180.6 766.8 2183.1 767 2185.6 767.2 2188.1 767.4 2190.6 767.6 2193.1 767.8 2195.6 767.9 2198.1 768.1 2200.6 768.3 2203.1 768.5 2205.6 768.7 2208.1 768.9 2210.6 769.1 2213.1 769.3 2215.6 769.5 2218.1 769.7 2220.6 769.9 2223.1 770.2 2225.6 770.4 2228.1 770.6 2230.6 770.9 2233.1 771.2 2235.6 771.5 2238.1 771.8 2240.6 772.1 2243.1 772.4 2245.6 772.7 2248.1 773.1 2250.6 773.5 2253.1 773.9 2255.6 774.3 2258.1 774.7 2260.6 775.2 2263.1 775.7 2265.6 776.2 2268.1 776.8 2270.6 777.3 2273.1 777.9 2275.6 778.5 2278.1 779.1 2280.6 779.8 2283.1 780.4 2285.6 781.1 2288.1 781.8 2290.6 782.6 2293.1 783.3 2295.6 784.1 2298.1 784.9 2300.6 785.7 2303.1 786.5 2305.6 787.2 2308.1 787.9 2310.6 788.7 2313.1 789.3 2315.6 790 2318.1 790.7 2320.6 791.3 2323.1 791.9 2325.6 792.6 2328.1 793.2 2330.6 793.7 2333.1 794.3 2335.6 794.8 2338.1 795.3 2340.6 795.8 2343.1 796.2 2345.6 796.6 2348.1 797 2350.6 797.4 2353.1 797.7 2355.6 798.1 2358.1 798.4 2360.6 798.7 2363.1 799 2365.6 799.2 2368.1 799.4 2370.6 799.7 2373.1 799.8 2375.6 800 2378.1 800.1 2380.6 800.2 2383.1 800.3 2385.6 800.4 2388.1 800.4 2390.6 800.3 2393.1 800.2 2395.6 799.9 2398.1 799.6 2400.6 799.3 2403.1 798.9 2405.6 798.5 2408.1 798 2410.6 797.5 2413.1 796.9 2415.6 796.2 2418.1 795.5 2420.6 794.6 2423.1 793.5 2425.6 792.4 2428.1 791.1 2430.6 789.7 2433.1 788.2 2435.6 786.7 2438.1 785.1 2440.6 783.5 2443.1 781.8 2445.6 780.1 2448.1 778.5 2450.6 776.8 2453.1 775.2 2455.6 773.6 2458.1 772 2460.6 770.5 2463.1 769 2465.6 767.6 2468.1 766.2 2470.6 764.8 2473.1 763.6 2475.6 762.3 2478.1 761.2 2480.6 760.1 2483.1 759 2485.6 758 2488.1 757.1 2490.6 756.2 2493.1 755.4 2495.6 754.6 2498.1 753.9 2500.6 753.2 2503.1 752.6 2505.6 752 2508.1 751.4 2510.6 751.1 2511.8 748.6 2511.8 748.3 2510.6 747.7 2508.1 747.1 2505.6 746.5 2503.1 745.8 2500.6 745.1 2498.1 744.3 2495.6 743.5 2493.1 742.6 2490.6 741.7 2488.1 740.7 2485.6 739.6 2483.1 738.5 2480.6 737.4 2478.1 736.2 2475.6 734.9 2473.1 733.5 2470.6 732.2 2468.1 730.7 2465.6 729.2 2463.1 727.7 2460.6 726.1 2458.1 724.5 2455.6 722.9 2453.1 721.2 2450.6 719.6 2448.1 717.9 2445.6 716.2 2443.1 714.6 2440.6 713 2438.1 711.5 2435.6 710 2433.1 708.6 2430.6 707.3 2428.1 706.2 2425.6 705.1 2423.1 704.2 2420.6 703.5 2418.1 702.8 2415.6 702.2 2413.1 701.7 2410.6 701.2 2408.1 700.8 2405.6 700.4 2403.1 700.1 2400.6 699.8 2398.1 699.6 2395.6 699.4 2393.1 699.3 2390.6 699.3 2388.1 699.4 2385.6 699.5 2383.1 699.6 2380.6 699.7 2378.1 699.9 2375.6 700.1 2373.1 700.3 2370.6 700.5 2368.1 700.7 2365.6 701 2363.1 701.3 2360.6 701.7 2358.1 702 2355.6 702.4 2353.1 702.7 2350.6 703.1 2348.1 703.5 2345.6 704 2343.1 704.4 2340.6 704.9 2338.1 705.4 2335.6 706 2333.1 706.6 2330.6 707.2 2328.1 707.8 2325.6 708.4 2323.1 709 2320.6 709.7 2318.1 710.4 2315.6 711.1 2313.1 711.8 2310.6 712.5 2308.1 713.2 2305.6 714 2303.1 714.8 2300.6 715.6 2298.1 716.4 2295.6 717.1 2293.1 717.9 2290.6 718.6 2288.1 719.3 2285.6 719.9 2283.1 720.6 2280.6 721.2 2278.1 721.8 2275.6 722.4 2273.1 722.9 2270.6 723.5 2268.1 724 2265.6 724.5 2263.1 725 2260.6 725.4 2258.1 725.8 2255.6 726.2 2253.1 726.6 2250.6 727 2248.1 727.3 2245.6 727.6 2243.1 727.9 2240.6 728.2 2238.1 728.5 2235.6 728.8 2233.1 729.1 2230.6 729.3 2228.1 729.6 2225.6 729.8 2223.1 730 2220.6 730.2 2218.1 730.4 2215.6 730.6 2213.1 730.8 2210.6 731 2208.1 731.2 2205.6 731.4 2203.1 731.6 2200.6 731.8 2198.1 731.9 2195.6 732.1 2193.1 732.3 2190.6 732.5 2188.1 732.7 2185.6 732.9 2183.1 733.2 2180.6 733.5 2178.1 733.8 2175.6 734.1 2173.1 734.4 2170.6 734.8 2168.1 735.1 2165.6 735.5 2163.1 735.8 2160.6 736.2 2158.1 736.5 2155.6 736.8 2153.1 737.1 2150.6 737.4 2148.1 737.7 2145.6 738 2143.1 738.3 2140.6 738.6 2138.1 738.9 2135.6 739.2 2133.1 739.5 2130.6 739.8 2128.1 740.1 2125.6 740.4 2123.1 740.7 2120.6 741 2118.1 741.3 2115.6 741.6 2113.1 741.9 2110.6 742.2 2108.1 742.5 2105.6 742.8 2103.1 743.1 2100.6 743.4 2098.1 743.7 2095.6 743.9 2093.1 744.2 2090.6 744.5 2088.1 744.8 2085.6 745.1 2083.1 745.4 2080.6 745.6 2078.1 745.9 2075.6 746.2 2073.1 746.4 2070.6 746.7 2068.1 746.9 2065.6 747.2 2063.1 747.5 2060.6 747.7 2058.1 748 2055.6 748.3 2053.1 748.5 2050.6 748.7 2048.1 748.9 2045.6 749.1 2043.1 749.2 2040.6 749.3 2038.1 749.4 2035.6 749.5 2033.1 749.5 2030.6 749.6 2028.1 749.6 2025.6 749.6 2023.1 749.7 2020.6 749.7 2018.1 749.7 2015.6 749.7 2013.1 749.8 2010.6 749.8 2008.1 749.8 2005.6 749.8 2003.1 749.8 2000.6 749.8 1998.1 749.8 1995.6 749.9 1993.1 749.9 1990.6Z" fill="#80d0ff" stroke="#000000" stroke-width="2.5" stroke-linejoin="round"/>
<path d="M723.5 2268.2H776.2" stroke="#000" stroke-width="2.5" stroke-dasharray="7.3 6.5" stroke-dashoffset="1" fill="none"/>
<path d="M795.8 2343H703.9" stroke="#000" stroke-width="2.6" stroke-dasharray="16.3 14.4" fill="none"/>
<path d="M699.4 2396.5H800.3" stroke="#000" stroke-width="2.5" stroke-dasharray="7.3 6.5" stroke-dashoffset="1" fill="none"/>
<path d="M875.8 1914.3 876.1 1916.8 876.4 1919.3 876.5 1921.8 876.7 1924.3 876.8 1926.8 876.8 1929.3 876.9 1931.8 877 1934.3 877 1936.8 877 1939.3 877 1941.8 877.1 1944.3 877.1 1946.8 877.1 1949.3 877.1 1951.8 877.1 1954.3 877.1 1956.8 877.1 1959.3 877.1 1961.8 877.1 1964.3 877.1 1966.8 877.1 1969.3 877.1 1971.8 877.1 1974.3 877.1 1976.8 877.1 1979.3 877.1 1981.8 877.1 1984.3 877.1 1986.8 877.1 1989.3 877.1 1991.8 877.1 1994.3 877.1 1996.8 877.1 1999.3 877.1 2001.8 877.1 2004.3 877.1 2006.8 877.1 2009.3 877.1 2011.8 877.1 2014.3 877.1 2016.8 877.1 2019.3 877.1 2021.8 877.1 2024.3 877.1 2026.8 877.1 2029.3 877.1 2031.8 877.1 2034.3 877.1 2036.8 877.1 2039.3 877.1 2041.8 877.1 2044.3 877.1 2046.8 877.1 2049.3 877.1 2051.8 877.1 2054.3 877.2 2056.8 877.3 2059.3 877.4 2061.8 877.5 2064.3 877.7 2066.8 877.9 2069.3 878.1 2071.8 878.4 2074.3 878.7 2076.8 879 2079.3 879.3 2081.8 879.6 2084.3 880 2086.8 880.4 2089.3 880.7 2091.8 881.1 2094.3 881.5 2096.8 881.9 2099.3 882.3 2101.8 882.7 2104.3 883.2 2106.8 883.6 2109.3 884.1 2111.8 884.5 2114.3 885 2116.8 885.5 2119.3 885.9 2121.8 886.4 2124.3 886.8 2126.8 887.3 2129.3 887.7 2131.8 888.1 2134.3 888.5 2136.8 889 2139.3 889.4 2141.8 889.8 2144.3 890.2 2146.8 890.6 2149.3 891 2151.8 891.3 2154.3 891.7 2156.8 892.1 2159.3 892.5 2161.8 892.8 2164.3 893.2 2166.8 893.5 2169.3 893.9 2171.8 894.2 2174.3 894.5 2176.8 894.9 2179.3 895.2 2181.8 895.5 2184.3 895.8 2186.8 896.1 2189.3 896.4 2191.8 896.7 2194.3 897 2196.8 897.4 2199.3 897.7 2201.8 898.1 2204.3 898.5 2206.8 898.9 2209.3 899.3 2211.8 899.8 2214.3 900.2 2216.8 900.8 2219.3 901.3 2221.8 901.9 2224.3 902.6 2226.8 903.3 2229.3 904 2231.8 904.8 2234.3 905.6 2236.8 906.4 2239.3 907.2 2241.8 908.1 2244.3 909 2246.8 909.9 2249.3 910.8 2251.8 911.7 2254.3 912.7 2256.8 913.7 2259.3 914.7 2261.8 915.7 2264.3 916.6 2266.8 917.5 2269.3 918.4 2271.8 919.2 2274.3 919.9 2276.8 920.6 2279.3 921.3 2281.8 921.9 2284.3 922.5 2286.8 923 2289.3 923.5 2291.8 923.9 2294.3 924.3 2296.8 924.6 2299.3 924.9 2301.8 925.1 2304.3 925.4 2306.8 925.5 2309.3 925.7 2311.8 925.8 2314.3 926 2316.8 926 2319.3 926.1 2321.8 926.2 2324.3 926.3 2326.8 926.3 2329.3 926.4 2331.8 926.4 2334.3 926.5 2336.8 926.5 2339.3 926.5 2341.8 926.5 2344.3 926.5 2346.8 926.5 2349.3 926.5 2351.8 926.5 2354.3 926.5 2356.8 926.5 2359.3 926.5 2361.8 926.5 2364.3 926.5 2366.8 926.5 2369.3 926.5 2371.8 926.5 2374.3 926.4 2376.8 926.3 2379.3 926.2 2381.8 926 2384.3 925.8 2386.8 925.5 2389.3 925.1 2391.8 924.6 2394.3 924.1 2396.8 923.4 2399.3 922.7 2401.8 921.9 2404.3 921.1 2406.8 920.2 2409.3 919.3 2411.8 918.3 2414.3 917.2 2416.8 916.1 2419.3 915 2421.8 913.7 2424.3 912.5 2426.8 911.1 2429.3 909.8 2431.8 908.4 2434.3 907.1 2436.8 905.7 2439.3 904.3 2441.8 902.9 2444.3 901.5 2446.8 900.1 2449.3 898.7 2451.8 897.4 2454.3 896 2456.8 894.7 2459.3 893.3 2461.8 892 2464.3 890.8 2466.8 889.6 2469.3 888.4 2471.8 887.3 2474.3 886.2 2476.8 885.2 2479.3 884.2 2481.8 883.3 2484.3 882.4 2486.8 881.6 2489.3 880.8 2491.8 880.1 2494.3 879.5 2496.8 878.9 2499.3 878.4 2501.8 877.8 2504.3 877.4 2506.8 876.9 2509.3 876.5 2511.8 876.5 2511.8 875.2 2511.8 875.2 2511.8 874.7 2509.3 874.3 2506.8 873.8 2504.3 873.3 2501.8 872.8 2499.3 872.2 2496.8 871.5 2494.3 870.8 2491.8 870.1 2489.3 869.3 2486.8 868.4 2484.3 867.5 2481.8 866.5 2479.3 865.5 2476.8 864.4 2474.3 863.3 2471.8 862.1 2469.3 860.9 2466.8 859.6 2464.3 858.3 2461.8 857 2459.3 855.7 2456.8 854.3 2454.3 852.9 2451.8 851.5 2449.3 850.2 2446.8 848.8 2444.3 847.4 2441.8 846 2439.3 844.6 2436.8 843.2 2434.3 841.9 2431.8 840.5 2429.3 839.2 2426.8 837.9 2424.3 836.7 2421.8 835.5 2419.3 834.4 2416.8 833.4 2414.3 832.4 2411.8 831.5 2409.3 830.6 2406.8 829.8 2404.3 829 2401.8 828.3 2399.3 827.6 2396.8 827.1 2394.3 826.6 2391.8 826.2 2389.3 825.9 2386.8 825.7 2384.3 825.5 2381.8 825.3 2379.3 825.2 2376.8 825.2 2374.3 825.2 2371.8 825.1 2369.3 825.1 2366.8 825.1 2364.3 825.1 2361.8 825.1 2359.3 825.1 2356.8 825.1 2354.3 825.1 2351.8 825.1 2349.3 825.1 2346.8 825.2 2344.3 825.2 2341.8 825.2 2339.3 825.2 2336.8 825.3 2334.3 825.3 2331.8 825.3 2329.3 825.4 2326.8 825.5 2324.3 825.5 2321.8 825.6 2319.3 825.7 2316.8 825.8 2314.3 826 2311.8 826.1 2309.3 826.3 2306.8 826.5 2304.3 826.8 2301.8 827.1 2299.3 827.4 2296.8 827.8 2294.3 828.2 2291.8 828.7 2289.3 829.2 2286.8 829.8 2284.3 830.4 2281.8 831 2279.3 831.7 2276.8 832.5 2274.3 833.3 2271.8 834.2 2269.3 835.1 2266.8 836 2264.3 837 2261.8 838 2259.3 838.9 2256.8 839.9 2254.3 840.9 2251.8 841.8 2249.3 842.7 2246.8 843.6 2244.3 844.4 2241.8 845.3 2239.3 846.1 2236.8 846.9 2234.3 847.6 2231.8 848.4 2229.3 849.1 2226.8 849.7 2224.3 850.3 2221.8 850.9 2219.3 851.4 2216.8 851.9 2214.3 852.4 2211.8 852.8 2209.3 853.2 2206.8 853.6 2204.3 853.9 2201.8 854.3 2199.3 854.6 2196.8 854.9 2194.3 855.3 2191.8 855.6 2189.3 855.9 2186.8 856.2 2184.3 856.5 2181.8 856.8 2179.3 857.1 2176.8 857.5 2174.3 857.8 2171.8 858.1 2169.3 858.5 2166.8 858.8 2164.3 859.2 2161.8 859.6 2159.3 860 2156.8 860.3 2154.3 860.7 2151.8 861.1 2149.3 861.5 2146.8 861.9 2144.3 862.3 2141.8 862.7 2139.3 863.1 2136.8 863.5 2134.3 864 2131.8 864.4 2129.3 864.8 2126.8 865.3 2124.3 865.7 2121.8 866.2 2119.3 866.7 2116.8 867.1 2114.3 867.6 2111.8 868 2109.3 868.5 2106.8 868.9 2104.3 869.4 2101.8 869.8 2099.3 870.2 2096.8 870.6 2094.3 870.9 2091.8 871.3 2089.3 871.7 2086.8 872 2084.3 872.4 2081.8 872.7 2079.3 873 2076.8 873.3 2074.3 873.5 2071.8 873.8 2069.3 874 2066.8 874.1 2064.3 874.3 2061.8 874.4 2059.3 874.5 2056.8 874.5 2054.3 874.6 2051.8 874.6 2049.3 874.6 2046.8 874.6 2044.3 874.6 2041.8 874.6 2039.3 874.6 2036.8 874.6 2034.3 874.6 2031.8 874.6 2029.3 874.6 2026.8 874.6 2024.3 874.6 2021.8 874.6 2019.3 874.6 2016.8 874.6 2014.3 874.6 2011.8 874.6 2009.3 874.6 2006.8 874.6 2004.3 874.6 2001.8 874.6 1999.3 874.6 1996.8 874.6 1994.3 874.6 1991.8 874.6 1989.3 874.6 1986.8 874.6 1984.3 874.6 1981.8 874.6 1979.3 874.6 1976.8 874.6 1974.3 874.6 1971.8 874.6 1969.3 874.6 1966.8 874.6 1964.3 874.6 1961.8 874.6 1959.3 874.6 1956.8 874.6 1954.3 874.6 1951.8 874.6 1949.3 874.6 1946.8 874.6 1944.3 874.6 1941.8 874.6 1939.3 874.7 1936.8 874.7 1934.3 874.8 1931.8 874.8 1929.3 874.9 1926.8 875 1924.3 875.1 1921.8 875.3 1919.3 875.5 1916.8 875.8 1914.3Z" fill="#669999" stroke="#800080" stroke-width="2.3" stroke-linejoin="round"/>
<path d="M835.2 2266.1H916.5" stroke="#000" stroke-width="2.5" stroke-dasharray="7.3 6.5" stroke-dashoffset="1" fill="none"/>
<path d="M926.2 2325.4H825.4" stroke="#000" stroke-width="2.6" stroke-dasharray="16.3 14.4" fill="none"/>
<path d="M826.9 2395H924.8" stroke="#000" stroke-width="2.5" stroke-dasharray="7.3 6.5" stroke-dashoffset="1" fill="none"/>
<path d="M1002.1 2150.8 1002.2 2153.3 1002.2 2155.8 1002.2 2158.3 1002.2 2160.8 1002.3 2163.3 1002.3 2165.8 1002.4 2168.3 1002.4 2170.8 1002.5 2173.3 1002.6 2175.8 1002.7 2178.3 1002.9 2180.8 1003.1 2183.3 1003.3 2185.8 1003.5 2188.3 1003.7 2190.8 1003.9 2193.3 1004.2 2195.8 1004.5 2198.3 1004.8 2200.8 1005.2 2203.3 1005.6 2205.8 1006.1 2208.3 1006.6 2210.8 1007.2 2213.3 1007.9 2215.8 1008.6 2218.3 1009.4 2220.8 1010.2 2223.3 1011.1 2225.8 1012.1 2228.3 1013 2230.8 1014.1 2233.3 1015.1 2235.8 1016.1 2238.3 1017.2 2240.8 1018.2 2243.3 1019.2 2245.8 1020.2 2248.3 1021.1 2250.8 1021.9 2253.3 1022.7 2255.8 1023.5 2258.3 1024.1 2260.8 1024.8 2263.3 1025.3 2265.8 1025.9 2268.3 1026.4 2270.8 1026.8 2273.3 1027.2 2275.8 1027.5 2278.3 1027.7 2280.8 1027.9 2283.3 1028 2285.8 1028.1 2288.3 1028.1 2290.8 1028.1 2293.3 1028.1 2295.8 1028.1 2298.3 1028.1 2300.8 1028.2 2303.3 1028.2 2305.8 1028.3 2308.3 1028.4 2310.8 1028.5 2313.3 1028.6 2315.8 1028.8 2318.3 1029.1 2320.8 1029.4 2323.3 1029.7 2325.8 1030 2328.3 1030.4 2330.8 1030.8 2333.3 1031.2 2335.8 1031.6 2338.3 1032 2340.8 1032.4 2343.3 1032.7 2345.8 1033.1 2348.3 1033.5 2350.8 1033.8 2353.3 1034.2 2355.8 1034.5 2358.3 1034.9 2360.8 1035.2 2363.3 1035.5 2365.8 1035.9 2368.3 1036.3 2370.8 1036.7 2373.3 1037.1 2375.8 1037.6 2378.3 1038.1 2380.8 1038.7 2383.3 1039.4 2385.8 1040.1 2388.3 1040.9 2390.8 1041.8 2393.3 1042.7 2395.8 1043.7 2398.3 1044.8 2400.8 1045.8 2403.3 1046.8 2405.8 1047.8 2408.3 1048.7 2410.8 1049.6 2413.3 1050.3 2415.8 1051 2418.3 1051.5 2420.8 1051.8 2423.3 1051.9 2425.8 1051.8 2428.3 1051.6 2430.8 1051 2433.3 1050.3 2435.8 1049.3 2438.3 1048 2440.8 1046.4 2443.3 1044.6 2445.8 1042.6 2448.3 1040.4 2450.8 1038.1 2453.3 1035.7 2455.8 1033.2 2458.3 1030.7 2460.8 1028.1 2463.3 1025.6 2465.8 1023.2 2468.3 1020.8 2470.8 1018.6 2473.3 1016.5 2475.8 1014.6 2478.3 1012.9 2480.8 1011.3 2483.3 1009.9 2485.8 1008.7 2488.3 1007.6 2490.8 1006.6 2493.3 1005.8 2495.8 1005 2498.3 1004.4 2500.8 1003.9 2503.3 1003.4 2505.8 1003.1 2508.3 1002.8 2510.8 1002.8 2511.8 1001.5 2511.8 1001.4 2510.8 1001.2 2508.3 1000.9 2505.8 1000.4 2503.3 999.9 2500.8 999.3 2498.3 998.5 2495.8 997.7 2493.3 996.7 2490.8 995.6 2488.3 994.3 2485.8 992.9 2483.3 991.4 2480.8 989.7 2478.3 987.8 2475.8 985.7 2473.3 983.5 2470.8 981.1 2468.3 978.7 2465.8 976.1 2463.3 973.6 2460.8 971.1 2458.3 968.6 2455.8 966.2 2453.3 963.9 2450.8 961.7 2448.3 959.7 2445.8 957.8 2443.3 956.3 2440.8 955 2438.3 954 2435.8 953.2 2433.3 952.7 2430.8 952.4 2428.3 952.4 2425.8 952.5 2423.3 952.8 2420.8 953.3 2418.3 954 2415.8 954.7 2413.3 955.6 2410.8 956.5 2408.3 957.5 2405.8 958.5 2403.3 959.5 2400.8 960.5 2398.3 961.5 2395.8 962.5 2393.3 963.4 2390.8 964.2 2388.3 964.9 2385.8 965.6 2383.3 966.2 2380.8 966.7 2378.3 967.2 2375.8 967.6 2373.3 968 2370.8 968.4 2368.3 968.7 2365.8 969.1 2363.3 969.4 2360.8 969.8 2358.3 970.1 2355.8 970.4 2353.3 970.8 2350.8 971.2 2348.3 971.5 2345.8 971.9 2343.3 972.3 2340.8 972.7 2338.3 973.1 2335.8 973.5 2333.3 973.9 2330.8 974.3 2328.3 974.6 2325.8 974.9 2323.3 975.2 2320.8 975.5 2318.3 975.7 2315.8 975.8 2313.3 975.9 2310.8 976 2308.3 976.1 2305.8 976.1 2303.3 976.1 2300.8 976.2 2298.3 976.2 2295.8 976.2 2293.3 976.2 2290.8 976.2 2288.3 976.3 2285.8 976.4 2283.3 976.5 2280.8 976.8 2278.3 977.1 2275.8 977.5 2273.3 977.9 2270.8 978.4 2268.3 979 2265.8 979.5 2263.3 980.2 2260.8 980.8 2258.3 981.6 2255.8 982.4 2253.3 983.2 2250.8 984.1 2248.3 985.1 2245.8 986.1 2243.3 987.1 2240.8 988.1 2238.3 989.2 2235.8 990.2 2233.3 991.2 2230.8 992.2 2228.3 993.2 2225.8 994.1 2223.3 994.9 2220.8 995.7 2218.3 996.4 2215.8 997.1 2213.3 997.7 2210.8 998.2 2208.3 998.7 2205.8 999.1 2203.3 999.5 2200.8 999.8 2198.3 1000.1 2195.8 1000.3 2193.3 1000.6 2190.8 1000.8 2188.3 1001 2185.8 1001.2 2183.3 1001.4 2180.8 1001.5 2178.3 1001.7 2175.8 1001.8 2173.3 1001.8 2170.8 1001.9 2168.3 1002 2165.8 1002 2163.3 1002.1 2160.8 1002.1 2158.3 1002.1 2155.8 1002.1 2153.3 1002.1 2150.8Z" fill="#735410" stroke="#000000" stroke-width="2.5" stroke-linejoin="round"/>
<path d="M975.9 2314.6H1028.4" stroke="#000" stroke-width="2.5" stroke-dasharray="7.3 6.5" stroke-dashoffset="1" fill="none"/>
<path d="M1038.4 2382.6H965.9" stroke="#000" stroke-width="2.6" stroke-dasharray="16.3 14.4" fill="none"/>
<path d="M951.9 2423.7H1052.4" stroke="#000" stroke-width="2.5" stroke-dasharray="7.3 6.5" stroke-dashoffset="1" fill="none"/>
<path d="M1128.4 2026.5 1128.5 2029 1128.6 2031.5 1128.7 2034 1128.8 2036.5 1128.9 2039 1129 2041.5 1129.2 2044 1129.3 2046.5 1129.5 2049 1129.6 2051.5 1129.8 2054 1129.9 2056.5 1130.1 2059 1130.3 2061.5 1130.4 2064 1130.5 2066.5 1130.6 2069 1130.8 2071.5 1130.8 2074 1130.9 2076.5 1131 2079 1131.1 2081.5 1131.1 2084 1131.2 2086.5 1131.2 2089 1131.2 2091.5 1131.2 2094 1131.1 2096.5 1131.1 2099 1131.1 2101.5 1131.1 2104 1131 2106.5 1131 2109 1130.9 2111.5 1130.9 2114 1130.9 2116.5 1130.8 2119 1130.8 2121.5 1130.8 2124 1130.7 2126.5 1130.7 2129 1130.7 2131.5 1130.7 2134 1130.6 2136.5 1130.6 2139 1130.6 2141.5 1130.6 2144 1130.6 2146.5 1130.7 2149 1130.7 2151.5 1130.8 2154 1130.8 2156.5 1130.9 2159 1131 2161.5 1131 2164 1131.1 2166.5 1131.2 2169 1131.3 2171.5 1131.5 2174 1131.6 2176.5 1131.7 2179 1131.9 2181.5 1132 2184 1132.2 2186.5 1132.3 2189 1132.5 2191.5 1132.7 2194 1132.9 2196.5 1133.2 2199 1133.4 2201.5 1133.7 2204 1134 2206.5 1134.2 2209 1134.5 2211.5 1134.9 2214 1135.2 2216.5 1135.5 2219 1135.8 2221.5 1136.1 2224 1136.5 2226.5 1136.8 2229 1137.2 2231.5 1137.5 2234 1137.9 2236.5 1138.3 2239 1138.7 2241.5 1139.2 2244 1139.6 2246.5 1140.1 2249 1140.7 2251.5 1141.3 2254 1141.9 2256.5 1142.6 2259 1143.3 2261.5 1144.1 2264 1144.8 2266.5 1145.6 2269 1146.3 2271.5 1147 2274 1147.7 2276.5 1148.4 2279 1149.2 2281.5 1150 2284 1150.9 2286.5 1151.8 2289 1152.8 2291.5 1153.8 2294 1154.9 2296.5 1155.9 2299 1157 2301.5 1158.2 2304 1159.3 2306.5 1160.5 2309 1161.6 2311.5 1162.8 2314 1164 2316.5 1165.1 2319 1166.3 2321.5 1167.4 2324 1168.5 2326.5 1169.6 2329 1170.7 2331.5 1171.7 2334 1172.6 2336.5 1173.5 2339 1174.4 2341.5 1175.1 2344 1175.8 2346.5 1176.4 2349 1177 2351.5 1177.4 2354 1177.8 2356.5 1178.1 2359 1178.4 2361.5 1178.5 2364 1178.6 2366.5 1178.6 2369 1178.6 2371.5 1178.4 2374 1178.2 2376.5 1177.9 2379 1177.5 2381.5 1177.1 2384 1176.6 2386.5 1175.9 2389 1175.2 2391.5 1174.4 2394 1173.5 2396.5 1172.5 2399 1171.4 2401.5 1170.3 2404 1169.1 2406.5 1167.9 2409 1166.6 2411.5 1165.3 2414 1164 2416.5 1162.6 2419 1161.3 2421.5 1159.9 2424 1158.5 2426.5 1157.1 2429 1155.7 2431.5 1154.3 2434 1152.9 2436.5 1151.5 2439 1150.2 2441.5 1148.9 2444 1147.6 2446.5 1146.3 2449 1145.1 2451.5 1143.9 2454 1142.8 2456.5 1141.7 2459 1140.6 2461.5 1139.6 2464 1138.6 2466.5 1137.7 2469 1136.9 2471.5 1136 2474 1135.3 2476.5 1134.5 2479 1133.8 2481.5 1133.2 2484 1132.5 2486.5 1132 2489 1131.5 2491.5 1131 2494 1130.6 2496.5 1130.3 2499 1130 2501.5 1129.7 2504 1129.4 2506.5 1129.2 2509 1129.1 2511.5 1129.1 2511.8 1127.8 2511.8 1127.8 2511.5 1127.6 2509 1127.4 2506.5 1127.2 2504 1126.9 2501.5 1126.6 2499 1126.2 2496.5 1125.8 2494 1125.4 2491.5 1124.9 2489 1124.3 2486.5 1123.7 2484 1123 2481.5 1122.3 2479 1121.6 2476.5 1120.8 2474 1120 2471.5 1119.1 2469 1118.2 2466.5 1117.3 2464 1116.3 2461.5 1115.2 2459 1114.1 2456.5 1113 2454 1111.8 2451.5 1110.5 2449 1109.3 2446.5 1108 2444 1106.7 2441.5 1105.3 2439 1104 2436.5 1102.6 2434 1101.2 2431.5 1099.8 2429 1098.4 2426.5 1097 2424 1095.6 2421.5 1094.2 2419 1092.9 2416.5 1091.5 2414 1090.2 2411.5 1089 2409 1087.7 2406.5 1086.6 2404 1085.5 2401.5 1084.4 2399 1083.4 2396.5 1082.5 2394 1081.7 2391.5 1080.9 2389 1080.3 2386.5 1079.8 2384 1079.3 2381.5 1078.9 2379 1078.6 2376.5 1078.4 2374 1078.3 2371.5 1078.2 2369 1078.3 2366.5 1078.3 2364 1078.5 2361.5 1078.7 2359 1079 2356.5 1079.4 2354 1079.9 2351.5 1080.4 2349 1081.1 2346.5 1081.7 2344 1082.5 2341.5 1083.3 2339 1084.2 2336.5 1085.2 2334 1086.2 2331.5 1087.2 2329 1088.3 2326.5 1089.4 2324 1090.6 2321.5 1091.7 2319 1092.9 2316.5 1094.1 2314 1095.3 2311.5 1096.4 2309 1097.6 2306.5 1098.7 2304 1099.8 2301.5 1100.9 2299 1102 2296.5 1103.1 2294 1104.1 2291.5 1105 2289 1106 2286.5 1106.8 2284 1107.7 2281.5 1108.4 2279 1109.2 2276.5 1109.9 2274 1110.6 2271.5 1111.3 2269 1112 2266.5 1112.8 2264 1113.5 2261.5 1114.3 2259 1115 2256.5 1115.6 2254 1116.2 2251.5 1116.8 2249 1117.3 2246.5 1117.7 2244 1118.2 2241.5 1118.6 2239 1119 2236.5 1119.3 2234 1119.7 2231.5 1120 2229 1120.4 2226.5 1120.7 2224 1121.1 2221.5 1121.4 2219 1121.7 2216.5 1122 2214 1122.3 2211.5 1122.6 2209 1122.9 2206.5 1123.2 2204 1123.5 2201.5 1123.7 2199 1123.9 2196.5 1124.1 2194 1124.3 2191.5 1124.5 2189 1124.7 2186.5 1124.8 2184 1125 2181.5 1125.1 2179 1125.3 2176.5 1125.4 2174 1125.5 2171.5 1125.6 2169 1125.7 2166.5 1125.8 2164 1125.9 2161.5 1126 2159 1126 2156.5 1126.1 2154 1126.2 2151.5 1126.2 2149 1126.2 2146.5 1126.2 2144 1126.2 2141.5 1126.2 2139 1126.2 2136.5 1126.2 2134 1126.2 2131.5 1126.2 2129 1126.1 2126.5 1126.1 2124 1126.1 2121.5 1126 2119 1126 2116.5 1126 2114 1125.9 2111.5 1125.9 2109 1125.9 2106.5 1125.8 2104 1125.8 2101.5 1125.7 2099 1125.7 2096.5 1125.7 2094 1125.7 2091.5 1125.7 2089 1125.7 2086.5 1125.7 2084 1125.8 2081.5 1125.9 2079 1125.9 2076.5 1126 2074 1126.1 2071.5 1126.2 2069 1126.3 2066.5 1126.5 2064 1126.6 2061.5 1126.8 2059 1126.9 2056.5 1127.1 2054 1127.3 2051.5 1127.4 2049 1127.6 2046.5 1127.7 2044 1127.8 2041.5 1128 2039 1128.1 2036.5 1128.2 2034 1128.3 2031.5 1128.3 2029 1128.4 2026.5Z" fill="#000080" stroke="#000000" stroke-width="2.5" stroke-linejoin="round"/>
<path d="M1090.6 2321.4H1166.3" stroke="#000" stroke-width="2.5" stroke-dasharray="7.3 6.5" stroke-dashoffset="1" fill="none"/>
<path d="M1178.6 2363.1H1078.2" stroke="#000" stroke-width="2.6" stroke-dasharray="16.3 14.4" fill="none"/>
<path d="M1083.9 2398.1H1173" stroke="#000" stroke-width="2.5" stroke-dasharray="7.3 6.5" stroke-dashoffset="1" fill="none"/>
<path d="M1254.5 2215.1 1254.5 2217.6 1254.6 2220.1 1254.6 2222.6 1254.7 2225.1 1254.8 2227.6 1254.9 2230.1 1254.9 2232.6 1255 2235.1 1255.2 2237.6 1255.3 2240.1 1255.4 2242.6 1255.6 2245.1 1255.7 2247.6 1255.9 2250.1 1256 2252.6 1256.1 2255.1 1256.2 2257.6 1256.3 2260.1 1256.4 2262.6 1256.5 2265.1 1256.6 2267.6 1256.8 2270.1 1256.9 2272.6 1257 2275.1 1257.2 2277.6 1257.4 2280.1 1257.5 2282.6 1257.7 2285.1 1257.9 2287.6 1258.1 2290.1 1258.4 2292.6 1258.7 2295.1 1259.1 2297.6 1259.6 2300.1 1260.2 2302.6 1261.1 2305.1 1262.1 2307.6 1263.1 2310.1 1264.2 2312.6 1265.3 2315.1 1266.2 2317.6 1267 2320.1 1267.7 2322.6 1268.3 2325.1 1268.8 2327.6 1269.3 2330.1 1269.7 2332.6 1270.1 2335.1 1270.5 2337.6 1270.9 2340.1 1271.3 2342.6 1271.9 2345.1 1272.5 2347.6 1273.3 2350.1 1274.3 2352.6 1275.5 2355.1 1276.9 2357.6 1278.5 2360.1 1280.3 2362.6 1282.1 2365.1 1283.9 2367.6 1285.7 2370.1 1287.3 2372.6 1288.9 2375.1 1290.4 2377.6 1291.8 2380.1 1293.3 2382.6 1294.8 2385.1 1296.2 2387.6 1297.5 2390.1 1298.7 2392.6 1299.8 2395.1 1300.7 2397.6 1301.5 2400.1 1302.3 2402.6 1303 2405.1 1303.6 2407.6 1304.1 2410.1 1304.5 2412.6 1304.9 2415.1 1305.1 2417.6 1305.1 2420.1 1305 2422.6 1304.7 2425.1 1304.1 2427.6 1303.3 2430.1 1302.1 2432.6 1300.6 2435.1 1298.8 2437.6 1296.5 2440.1 1294 2442.6 1291.2 2445.1 1288.1 2447.6 1284.9 2450.1 1281.7 2452.6 1278.5 2455.1 1275.4 2457.6 1272.4 2460.1 1269.5 2462.6 1266.9 2465.1 1264.5 2467.6 1262.4 2470.1 1260.6 2472.6 1259.2 2475.1 1258 2477.6 1257.2 2480.1 1256.5 2482.6 1255.9 2485.1 1255.5 2487.6 1255.1 2490.1 1254.7 2492.6 1254.5 2493.9 1254.5 2493.9 1254.3 2492.6 1253.9 2490.1 1253.5 2487.6 1253 2485.1 1252.5 2482.6 1251.8 2480.1 1250.9 2477.6 1249.8 2475.1 1248.4 2472.6 1246.6 2470.1 1244.5 2467.6 1242.1 2465.1 1239.4 2462.6 1236.6 2460.1 1233.6 2457.6 1230.5 2455.1 1227.3 2452.6 1224 2450.1 1220.9 2447.6 1217.8 2445.1 1215 2442.6 1212.4 2440.1 1210.2 2437.6 1208.4 2435.1 1206.9 2432.6 1205.7 2430.1 1204.9 2427.6 1204.3 2425.1 1204 2422.6 1203.9 2420.1 1203.9 2417.6 1204.1 2415.1 1204.4 2412.6 1204.9 2410.1 1205.4 2407.6 1206 2405.1 1206.7 2402.6 1207.5 2400.1 1208.3 2397.6 1209.2 2395.1 1210.3 2392.6 1211.5 2390.1 1212.8 2387.6 1214.2 2385.1 1215.7 2382.6 1217.2 2380.1 1218.6 2377.6 1220.1 2375.1 1221.7 2372.6 1223.3 2370.1 1225.1 2367.6 1226.9 2365.1 1228.7 2362.6 1230.5 2360.1 1232.1 2357.6 1233.5 2355.1 1234.7 2352.6 1235.7 2350.1 1236.5 2347.6 1237.1 2345.1 1237.6 2342.6 1238.1 2340.1 1238.5 2337.6 1238.9 2335.1 1239.3 2332.6 1239.7 2330.1 1240.2 2327.6 1240.7 2325.1 1241.3 2322.6 1241.9 2320.1 1242.8 2317.6 1243.7 2315.1 1244.8 2312.6 1245.9 2310.1 1246.9 2307.6 1247.9 2305.1 1248.7 2302.6 1249.4 2300.1 1249.9 2297.6 1250.3 2295.1 1250.6 2292.6 1250.9 2290.1 1251.1 2287.6 1251.3 2285.1 1251.5 2282.6 1251.6 2280.1 1251.8 2277.6 1251.9 2275.1 1252.1 2272.6 1252.2 2270.1 1252.3 2267.6 1252.4 2265.1 1252.6 2262.6 1252.7 2260.1 1252.8 2257.6 1252.9 2255.1 1253 2252.6 1253.1 2250.1 1253.3 2247.6 1253.4 2245.1 1253.6 2242.6 1253.7 2240.1 1253.8 2237.6 1253.9 2235.1 1254 2232.6 1254.1 2230.1 1254.2 2227.6 1254.3 2225.1 1254.4 2222.6 1254.4 2220.1 1254.5 2217.6 1254.5 2215.1Z" fill="#70a0a0" stroke="#000000" stroke-width="2.5" stroke-linejoin="round"/>
<path d="M1217.9 2379.2H1291.1" stroke="#000" stroke-width="2.5" stroke-dasharray="7.3 6.5" stroke-dashoffset="1" fill="none"/>
<path d="M1302.6 2403.3H1206.4" stroke="#000" stroke-width="2.6" stroke-dasharray="16.3 14.4" fill="none"/>
<path d="M1204.7 2429.6H1304.3" stroke="#000" stroke-width="2.5" stroke-dasharray="7.3 6.5" stroke-dashoffset="1" fill="none"/>
<path d="M181.9 1808.3V2608.9" stroke="#000" stroke-width="4.0" fill="none"/>
<path d="M166 2606.9H1320" stroke="#000" stroke-width="4.0" fill="none"/>
<text x="155.8" y="2617" font-size="34.5" text-anchor="end" textLength="67.5" lengthAdjust="spacingAndGlyphs">−0.5</text>
<text x="155.8" y="2457.7" font-size="34.5" text-anchor="end" textLength="48" lengthAdjust="spacingAndGlyphs">0.0</text>
<text x="155.8" y="2298.4" font-size="34.5" text-anchor="end" textLength="48" lengthAdjust="spacingAndGlyphs">0.5</text>
<text x="155.8" y="2139.1" font-size="34.5" text-anchor="end" textLength="48" lengthAdjust="spacingAndGlyphs">1.0</text>
<text x="155.8" y="1979.8" font-size="34.5" text-anchor="end" textLength="48" lengthAdjust="spacingAndGlyphs">1.5</text>
<text x="155.8" y="1820.5" font-size="34.5" text-anchor="end" textLength="48" lengthAdjust="spacingAndGlyphs">2.0</text>
<path d="M174.7 2527.2H181.9M166 2447.6H181.9M174.7 2367.9H181.9M166 2288.3H181.9M174.7 2208.7H181.9M166 2129H181.9M174.7 2049.3H181.9M166 1969.7H181.9M174.7 1890H181.9M166 1810.4H181.9" stroke="#000" stroke-width="3.9" fill="none"/>
<path d="M245 2606.9V2622.1M371.1 2606.9V2622.1M497.3 2606.9V2622.1M623.5 2606.9V2622.1M749.6 2606.9V2622.1M875.8 2606.9V2622.1M1001.9 2606.9V2622.1M1128.1 2606.9V2622.1M1254.2 2606.9V2622.1" stroke="#000" stroke-width="2.8" fill="none"/>
<text x="245.5" y="2650.8" font-size="22.5" text-anchor="middle" textLength="79.3" lengthAdjust="spacingAndGlyphs" font-weight="bold">LSTNet</text>
<text x="371" y="2650.8" font-size="22.5" text-anchor="middle" textLength="118.8" lengthAdjust="spacingAndGlyphs" font-weight="bold">GCN-LSTM</text>
<text x="497" y="2650.8" font-size="22.5" text-anchor="middle" textLength="49.3" lengthAdjust="spacingAndGlyphs" font-weight="bold">GCN</text>
<text x="622.9" y="2650.8" font-size="22.5" text-anchor="middle" textLength="49.7" lengthAdjust="spacingAndGlyphs" font-weight="bold">GRU</text>
<text x="748.8" y="2650.8" font-size="22.5" text-anchor="middle" textLength="69.6" lengthAdjust="spacingAndGlyphs" font-weight="bold">BiGRU</text>
<text x="875.2" y="2650.8" font-size="22.5" text-anchor="middle" textLength="82.6" lengthAdjust="spacingAndGlyphs" font-weight="bold">BiLSTM</text>
<text x="1002.2" y="2650.8" font-size="22.5" text-anchor="middle" textLength="63.2" lengthAdjust="spacingAndGlyphs" font-weight="bold">DGDL</text>
<text x="1129.1" y="2650.8" font-size="22.5" text-anchor="middle" textLength="112.8" lengthAdjust="spacingAndGlyphs" font-weight="bold">TPA-LSTM</text>
<text x="1254.7" y="2650.8" font-size="22.5" text-anchor="middle" textLength="104.5" lengthAdjust="spacingAndGlyphs" font-weight="bold">DG-DGSF</text>
<text x="651" y="30.3" font-size="39" text-anchor="middle" textLength="186.5" lengthAdjust="spacingAndGlyphs" style="font-family:'Liberation Serif',serif">Location 1</text>
<text x="676.6" y="881.7" font-size="42" text-anchor="middle" textLength="193.5" lengthAdjust="spacingAndGlyphs" style="font-family:'Liberation Serif',serif">Location 2</text>
<text x="686.3" y="1810.4" font-size="44" text-anchor="middle" textLength="192" lengthAdjust="spacingAndGlyphs" style="font-family:'Liberation Serif',serif">Location 3</text>
<text transform="translate(40.4 395.1) scale(1.214 1) rotate(-90)" font-size="35">FE</text>
<text transform="translate(50.7 1280.8) scale(1.149 1) rotate(-90)" font-size="38">FE</text>
<text transform="translate(71 2234.8) scale(1.068 1) rotate(-90)" font-size="40.7">FE</text>
<path d="M1013 49.3V123H1283.3V49.3" fill="none" stroke="#555" stroke-width="1.2"/>
<path d="M1030.8 54.7H1077.8" stroke="#000" stroke-width="2.5" stroke-dasharray="7.3 6.3" fill="none"/>
<path d="M1030.8 83.2H1077.8" stroke="#000" stroke-width="2.5" stroke-dasharray="7.3 6.3" fill="none"/>
<path d="M1031 103.4H1045.6M1062.5 103.4H1077.6" stroke="#000" stroke-width="2.6" fill="none"/>
<text x="1099.6" y="78.7" font-size="29" text-anchor="start" textLength="151.3" lengthAdjust="spacingAndGlyphs">25%~75%</text>
<text x="1099.4" y="112.7" font-size="29" text-anchor="start" textLength="180.1" lengthAdjust="spacingAndGlyphs">Median Line</text>
<path d="M1022.6 902.6V990H1320.8V902.6" fill="none" stroke="#444" stroke-width="1.4"/>
<path d="M1042.8 909.3H1093" stroke="#000" stroke-width="2.5" stroke-dasharray="7.3 7" fill="none"/>
<path d="M1042.8 943.3H1093" stroke="#000" stroke-width="2.5" stroke-dasharray="7.3 7" fill="none"/>
<path d="M1042.8 967.3H1058.1M1074.4 967.3H1089.7" stroke="#000" stroke-width="2.6" fill="none"/>
<text x="1118.4" y="937.1" font-size="32.5" text-anchor="start" textLength="165.7" lengthAdjust="spacingAndGlyphs">25%~75%</text>
<text x="1119" y="978.8" font-size="32.5" text-anchor="start" textLength="197.4" lengthAdjust="spacingAndGlyphs">Median Line</text>
<path d="M1022.6 902.6V990.6" fill="none" stroke="#111" stroke-width="2.1"/>
<rect x="1028.4" y="1832.3" width="293.3" height="93" fill="#fff" stroke="#333" stroke-width="1.6"/>
<path d="M1047.8 1839.7H1097.5" stroke="#000" stroke-width="2.5" stroke-dasharray="7.2 7" fill="none"/>
<path d="M1047.8 1875.3H1097.5" stroke="#000" stroke-width="2.5" stroke-dasharray="7.2 7" fill="none"/>
<path d="M1048.3 1901.1H1063.1M1078.4 1901.1H1094.2" stroke="#000" stroke-width="2.6" fill="none"/>
<text x="1122.6" y="1869" font-size="34" text-anchor="start" textLength="162.3" lengthAdjust="spacingAndGlyphs">25%~75%</text>
<text x="1122.5" y="1912.4" font-size="34" text-anchor="start" textLength="194.7" lengthAdjust="spacingAndGlyphs">Median Line</text>
</svg></body></html>
